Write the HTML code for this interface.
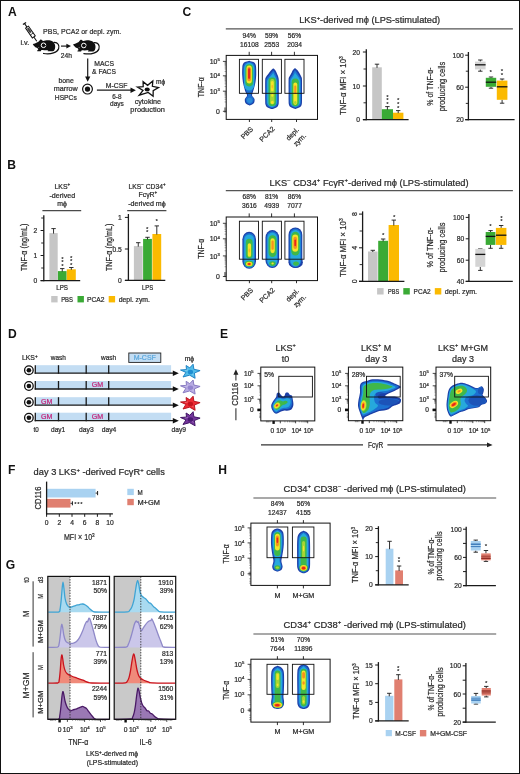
<!DOCTYPE html>
<html lang="en"><head><meta charset="utf-8"><title>Figure</title>
<style>html,body{margin:0;padding:0;background:#fff;}body{width:520px;height:774px;overflow:hidden;font-family:"Liberation Sans",sans-serif;}svg{display:block;font-family:"Liberation Sans",sans-serif;will-change:transform;opacity:0.999;}</style></head><body>
<svg width="520" height="774" viewBox="0 0 520 774">
<defs><filter id="b1" x="-30%" y="-30%" width="160%" height="160%"><feGaussianBlur stdDeviation="0.65"/></filter><filter id="b2" x="-30%" y="-30%" width="160%" height="160%"><feGaussianBlur stdDeviation="0.9"/></filter><marker id="ah" viewBox="0 0 10 10" refX="8" refY="5" markerWidth="5.2" markerHeight="5.2" orient="auto-start-reverse"><path d="M0,0.8 L10,5 L0,9.2 z" fill="#111"/></marker></defs>
<rect x="0.00" y="0.00" width="520.00" height="774.00" fill="#ffffff" stroke="none" stroke-width="1"/>
<text x="8.00" y="16.10" font-size="12.1" font-weight="bold" fill="#111">A</text>
<g transform="translate(24.5 23.5) rotate(55.3)" stroke="#111" fill="none" stroke-linecap="butt">
<line x1="0" y1="-1.9" x2="0" y2="1.9" stroke-width="1.3"/>
<line x1="0" y1="0" x2="4.4" y2="0" stroke-width="1.1"/>
<rect x="4.4" y="-1.75" width="12.0" height="3.5" stroke-width="1.0" fill="#fff"/>
<rect x="5.6" y="-1.1" width="5.6" height="2.2" stroke="none" fill="#444"/>
<line x1="12.8" y1="-1.75" x2="12.8" y2="1.75" stroke-width="0.7"/>
<line x1="16.4" y1="0" x2="21.6" y2="0" stroke-width="1.0"/>
</g>
<text x="20.40" y="44.60" font-size="7.2" fill="#2b2b2b" stroke="#2b2b2b" stroke-width="0.22" textLength="8.8" lengthAdjust="spacingAndGlyphs">i.v.</text>
<text x="43.10" y="33.70" font-size="7.4" fill="#2b2b2b" stroke="#2b2b2b" stroke-width="0.22" textLength="78.2" lengthAdjust="spacingAndGlyphs">PBS, PCA2 or depl. zym.</text>
<g transform="translate(32.80 44.00)">
<path d="M0,0 C1.6,-0.3 3.6,-1.3 5.6,-2.3 C6.2,-2.7 6.6,-3.6 7.2,-4.1 C7.9,-4.6 8.8,-4.5 9.3,-3.8 C9.6,-3.4 9.9,-3.1 10.4,-3.1 C12,-3.7 14.4,-4.0 16.6,-3.8 C19.2,-3.5 21.2,-2.0 22.0,0.2 C22.7,2.2 22.5,4.4 21.6,6.0 C21.2,6.8 20.6,7.2 19.8,7.2 L15.4,7.2 C14.7,7.2 14.6,6.5 15.2,6.2 L16.0,5.9 C13.4,6.3 10.6,6.3 8.6,6.1 L8.0,7.2 L4.9,7.2 C4.2,7.2 4.1,6.5 4.7,6.2 L5.6,5.7 C5.0,5.2 4.7,4.7 4.9,4.2 C3.6,3.9 2.4,3.2 1.6,2.3 C0.9,1.6 0.2,0.7 0,0 Z" fill="#111"/>
<circle cx="10.7" cy="1.3" r="2.3" fill="none" stroke="#fff" stroke-width="1.0"/>
<path d="M12.2,1.3 L14.2,2.6" stroke="#111" stroke-width="0.9" fill="none"/>
<circle cx="6.0" cy="3.6" r="0.45" fill="#fff"/>
<path d="M21.2,-1.6 C25.0,-2.0 27.0,1.6 25.8,4.8 C24.4,8.4 18.6,10.6 10.8,9.5" fill="none" stroke="#111" stroke-width="1.25" stroke-linecap="round"/>
</g>
<g transform="translate(73.10 44.20)">
<path d="M0,0 C1.6,-0.3 3.6,-1.3 5.6,-2.3 C6.2,-2.7 6.6,-3.6 7.2,-4.1 C7.9,-4.6 8.8,-4.5 9.3,-3.8 C9.6,-3.4 9.9,-3.1 10.4,-3.1 C12,-3.7 14.4,-4.0 16.6,-3.8 C19.2,-3.5 21.2,-2.0 22.0,0.2 C22.7,2.2 22.5,4.4 21.6,6.0 C21.2,6.8 20.6,7.2 19.8,7.2 L15.4,7.2 C14.7,7.2 14.6,6.5 15.2,6.2 L16.0,5.9 C13.4,6.3 10.6,6.3 8.6,6.1 L8.0,7.2 L4.9,7.2 C4.2,7.2 4.1,6.5 4.7,6.2 L5.6,5.7 C5.0,5.2 4.7,4.7 4.9,4.2 C3.6,3.9 2.4,3.2 1.6,2.3 C0.9,1.6 0.2,0.7 0,0 Z" fill="#111"/>
<circle cx="10.7" cy="1.3" r="2.3" fill="none" stroke="#fff" stroke-width="1.0"/>
<path d="M12.2,1.3 L14.2,2.6" stroke="#111" stroke-width="0.9" fill="none"/>
<circle cx="6.0" cy="3.6" r="0.45" fill="#fff"/>
<path d="M21.2,-1.6 C25.0,-2.0 27.0,1.6 25.8,4.8 C24.4,8.4 18.6,10.6 10.8,9.5" fill="none" stroke="#111" stroke-width="1.25" stroke-linecap="round"/>
</g>
<line x1="61.00" y1="46.10" x2="67.40" y2="46.10" stroke="#1a1a1a" stroke-width="1.2"/>
<path d="M71.0,46.1 L66.4,43.7 L66.4,48.5 Z" fill="#111"/>
<text x="66.30" y="57.60" font-size="7.2" text-anchor="middle" fill="#2b2b2b" stroke="#2b2b2b" stroke-width="0.22" textLength="11.2" lengthAdjust="spacingAndGlyphs">24h</text>
<line x1="87.70" y1="58.60" x2="87.70" y2="77.60" stroke="#1a1a1a" stroke-width="1.2"/>
<path d="M87.7,81.8 L85.1,76.6 L90.3,76.6 Z" fill="#111"/>
<text x="104.20" y="66.20" font-size="7.2" text-anchor="middle" fill="#2b2b2b" stroke="#2b2b2b" stroke-width="0.22" textLength="19.7" lengthAdjust="spacingAndGlyphs">MACS</text>
<text x="104.00" y="74.30" font-size="7.2" text-anchor="middle" fill="#2b2b2b" stroke="#2b2b2b" stroke-width="0.22" textLength="23.8" lengthAdjust="spacingAndGlyphs">&amp; FACS</text>
<circle cx="87.50" cy="89.10" r="4.90" fill="#fff" stroke="#111" stroke-width="1.2"/>
<circle cx="87.50" cy="89.10" r="2.65" fill="#111"/>
<text x="66.10" y="82.80" font-size="7.2" text-anchor="middle" fill="#2b2b2b" stroke="#2b2b2b" stroke-width="0.22" textLength="15.4" lengthAdjust="spacingAndGlyphs">bone</text>
<text x="65.80" y="91.30" font-size="7.2" text-anchor="middle" fill="#2b2b2b" stroke="#2b2b2b" stroke-width="0.22" textLength="24.0" lengthAdjust="spacingAndGlyphs">marrow</text>
<text x="65.80" y="100.20" font-size="7.2" text-anchor="middle" fill="#2b2b2b" stroke="#2b2b2b" stroke-width="0.22" textLength="22.0" lengthAdjust="spacingAndGlyphs">HSPCs</text>
<line x1="96.90" y1="90.20" x2="131.60" y2="90.20" stroke="#1a1a1a" stroke-width="1.2"/>
<path d="M135.9,90.2 L130.5,87.5 L130.5,92.9 Z" fill="#111"/>
<text x="116.60" y="87.50" font-size="7.2" text-anchor="middle" fill="#2b2b2b" stroke="#2b2b2b" stroke-width="0.22" textLength="21.6" lengthAdjust="spacingAndGlyphs">M-CSF</text>
<text x="116.90" y="98.60" font-size="7.2" text-anchor="middle" fill="#2b2b2b" stroke="#2b2b2b" stroke-width="0.22" textLength="9.2" lengthAdjust="spacingAndGlyphs">6-8</text>
<text x="116.90" y="106.30" font-size="7.2" text-anchor="middle" fill="#2b2b2b" stroke="#2b2b2b" stroke-width="0.22" textLength="13.8" lengthAdjust="spacingAndGlyphs">days</text>
<path d="M137.40,87.10 L143.20,86.70 L143.10,81.70 L147.60,85.30 L152.80,80.90 L152.40,86.30 L158.50,87.50 L153.20,90.70 L153.10,96.30 L148.20,92.50 L139.20,95.20 L143.00,90.50 Z" fill="#fff" stroke="#111" stroke-width="1.3" stroke-linejoin="miter"/>
<ellipse cx="147.20" cy="89.40" rx="2.60" ry="2.00" fill="#111"/>
<text x="160.60" y="83.50" font-size="6.6" text-anchor="middle" fill="#2b2b2b" stroke="#2b2b2b" stroke-width="0.22">m&#981;</text>
<text x="147.90" y="104.00" font-size="7.2" text-anchor="middle" fill="#2b2b2b" stroke="#2b2b2b" stroke-width="0.22" textLength="26.5" lengthAdjust="spacingAndGlyphs">cytokine</text>
<text x="147.60" y="112.20" font-size="7.2" text-anchor="middle" fill="#2b2b2b" stroke="#2b2b2b" stroke-width="0.22" textLength="34.6" lengthAdjust="spacingAndGlyphs">production</text>
<text x="7.20" y="169.20" font-size="12.1" font-weight="bold" fill="#111">B</text>
<text x="54.50" y="188.90" font-size="6.9" fill="#2b2b2b" stroke="#2b2b2b" stroke-width="0.22">LKS<tspan dy="-2.6" font-size="4.6">+</tspan><tspan dy="2.6" font-size="1">&#8203;</tspan></text>
<text x="62.30" y="197.50" font-size="6.9" text-anchor="middle" fill="#2b2b2b" stroke="#2b2b2b" stroke-width="0.22" textLength="25.6" lengthAdjust="spacingAndGlyphs">-derived</text>
<text x="62.10" y="205.60" font-size="6.9" text-anchor="middle" fill="#2b2b2b" stroke="#2b2b2b" stroke-width="0.22">m&#981;</text>
<line x1="42.40" y1="210.70" x2="81.20" y2="210.70" stroke="#4a4a4a" stroke-width="1.3"/>
<rect x="49.40" y="233.10" width="8.30" height="47.50" fill="#c6c6c6" stroke="none" stroke-width="1"/>
<line x1="53.55" y1="228.60" x2="53.55" y2="233.60" stroke="#1a1a1a" stroke-width="0.9"/>
<line x1="51.35" y1="228.60" x2="55.75" y2="228.60" stroke="#1a1a1a" stroke-width="0.9"/>
<rect x="57.90" y="271.10" width="8.70" height="9.50" fill="#3aaa35" stroke="none" stroke-width="1"/>
<line x1="62.25" y1="268.60" x2="62.25" y2="271.60" stroke="#1a1a1a" stroke-width="0.9"/>
<line x1="60.05" y1="268.60" x2="64.45" y2="268.60" stroke="#1a1a1a" stroke-width="0.9"/>
<rect x="66.80" y="269.30" width="9.00" height="11.30" fill="#fbba00" stroke="none" stroke-width="1"/>
<line x1="71.30" y1="267.50" x2="71.30" y2="269.80" stroke="#1a1a1a" stroke-width="0.9"/>
<line x1="69.10" y1="267.50" x2="73.50" y2="267.50" stroke="#1a1a1a" stroke-width="0.9"/>
<line x1="43.80" y1="215.20" x2="43.80" y2="281.20" stroke="#1a1a1a" stroke-width="1.3"/>
<line x1="40.60" y1="280.60" x2="80.20" y2="280.60" stroke="#1a1a1a" stroke-width="1.3"/>
<line x1="40.60" y1="230.50" x2="43.80" y2="230.50" stroke="#1a1a1a" stroke-width="1"/>
<text x="0" y="0" font-size="7" text-anchor="end" fill="#2b2b2b" stroke="#2b2b2b" stroke-width="0.22" transform="translate(37.20 233.00) scale(0.96 1)">2</text>
<line x1="40.60" y1="255.50" x2="43.80" y2="255.50" stroke="#1a1a1a" stroke-width="1"/>
<text x="0" y="0" font-size="7" text-anchor="end" fill="#2b2b2b" stroke="#2b2b2b" stroke-width="0.22" transform="translate(37.20 258.00) scale(0.96 1)">1</text>
<line x1="40.60" y1="280.60" x2="43.80" y2="280.60" stroke="#1a1a1a" stroke-width="1"/>
<text x="0" y="0" font-size="7" text-anchor="end" fill="#2b2b2b" stroke="#2b2b2b" stroke-width="0.22" transform="translate(37.20 283.10) scale(0.96 1)">0</text>
<line x1="41.20" y1="218.00" x2="43.80" y2="218.00" stroke="#1a1a1a" stroke-width="0.9"/>
<line x1="41.20" y1="243.00" x2="43.80" y2="243.00" stroke="#1a1a1a" stroke-width="0.9"/>
<line x1="41.20" y1="268.00" x2="43.80" y2="268.00" stroke="#1a1a1a" stroke-width="0.9"/>
<text x="0" y="0" font-size="8.8" text-anchor="middle" fill="#2b2b2b" stroke="#2b2b2b" stroke-width="0.22" transform="translate(27.00 247.40) rotate(-90)" textLength="47.4" lengthAdjust="spacingAndGlyphs">TNF-&#945; (ng/mL)</text>
<text x="62.50" y="261.10" font-size="6.2" font-weight="bold" text-anchor="middle" fill="#222">*</text>
<text x="62.50" y="264.30" font-size="6.2" font-weight="bold" text-anchor="middle" fill="#222">*</text>
<text x="62.50" y="267.50" font-size="6.2" font-weight="bold" text-anchor="middle" fill="#222">*</text>
<text x="71.30" y="260.10" font-size="6.2" font-weight="bold" text-anchor="middle" fill="#222">*</text>
<text x="71.30" y="263.30" font-size="6.2" font-weight="bold" text-anchor="middle" fill="#222">*</text>
<text x="71.30" y="266.50" font-size="6.2" font-weight="bold" text-anchor="middle" fill="#222">*</text>
<text x="62.10" y="289.70" font-size="6.9" text-anchor="middle" fill="#2b2b2b" stroke="#2b2b2b" stroke-width="0.22" textLength="11.8" lengthAdjust="spacingAndGlyphs">LPS</text>
<text x="128.60" y="188.90" font-size="6.9" fill="#2b2b2b" stroke="#2b2b2b" stroke-width="0.22" textLength="36.9" lengthAdjust="spacingAndGlyphs">LKS<tspan dy="-2.6" font-size="4.6">&#8722;</tspan><tspan dy="2.6" font-size="1">&#8203;</tspan> CD34<tspan dy="-2.6" font-size="4.6">+</tspan><tspan dy="2.6" font-size="1">&#8203;</tspan></text>
<text x="138.50" y="196.90" font-size="6.9" fill="#2b2b2b" stroke="#2b2b2b" stroke-width="0.22">Fc&#947;R<tspan dy="-2.6" font-size="4.6">+</tspan><tspan dy="2.6" font-size="1">&#8203;</tspan></text>
<text x="147.00" y="205.60" font-size="6.9" text-anchor="middle" fill="#2b2b2b" stroke="#2b2b2b" stroke-width="0.22" textLength="37.6" lengthAdjust="spacingAndGlyphs">-derived m&#981;</text>
<line x1="127.20" y1="210.70" x2="166.40" y2="210.70" stroke="#4a4a4a" stroke-width="1.3"/>
<rect x="133.90" y="246.10" width="8.70" height="34.30" fill="#c6c6c6" stroke="none" stroke-width="1"/>
<line x1="138.25" y1="242.70" x2="138.25" y2="246.60" stroke="#1a1a1a" stroke-width="0.9"/>
<line x1="136.05" y1="242.70" x2="140.45" y2="242.70" stroke="#1a1a1a" stroke-width="0.9"/>
<rect x="143.10" y="238.90" width="8.80" height="41.50" fill="#3aaa35" stroke="none" stroke-width="1"/>
<line x1="147.50" y1="237.30" x2="147.50" y2="239.40" stroke="#1a1a1a" stroke-width="0.9"/>
<line x1="145.30" y1="237.30" x2="149.70" y2="237.30" stroke="#1a1a1a" stroke-width="0.9"/>
<rect x="152.40" y="234.00" width="8.80" height="46.40" fill="#fbba00" stroke="none" stroke-width="1"/>
<line x1="156.80" y1="225.90" x2="156.80" y2="234.50" stroke="#1a1a1a" stroke-width="0.9"/>
<line x1="154.60" y1="225.90" x2="159.00" y2="225.90" stroke="#1a1a1a" stroke-width="0.9"/>
<line x1="128.40" y1="214.00" x2="128.40" y2="281.00" stroke="#1a1a1a" stroke-width="1.3"/>
<line x1="124.90" y1="280.40" x2="165.30" y2="280.40" stroke="#1a1a1a" stroke-width="1.3"/>
<line x1="124.90" y1="217.40" x2="128.40" y2="217.40" stroke="#1a1a1a" stroke-width="1"/>
<text x="0" y="0" font-size="7" text-anchor="end" fill="#2b2b2b" stroke="#2b2b2b" stroke-width="0.22" transform="translate(121.80 219.90) scale(0.96 1)">1</text>
<line x1="124.90" y1="249.00" x2="128.40" y2="249.00" stroke="#1a1a1a" stroke-width="1"/>
<text x="0" y="0" font-size="7" text-anchor="end" fill="#2b2b2b" stroke="#2b2b2b" stroke-width="0.22" transform="translate(121.80 251.50) scale(0.96 1)">0.5</text>
<line x1="124.90" y1="280.40" x2="128.40" y2="280.40" stroke="#1a1a1a" stroke-width="1"/>
<text x="0" y="0" font-size="7" text-anchor="end" fill="#2b2b2b" stroke="#2b2b2b" stroke-width="0.22" transform="translate(121.80 282.90) scale(0.96 1)">0</text>
<text x="0" y="0" font-size="8.8" text-anchor="middle" fill="#2b2b2b" stroke="#2b2b2b" stroke-width="0.22" transform="translate(112.00 247.40) rotate(-90)" textLength="47.4" lengthAdjust="spacingAndGlyphs">TNF-&#945; (ng/mL)</text>
<text x="147.20" y="231.10" font-size="6.2" font-weight="bold" text-anchor="middle" fill="#222">*</text>
<text x="147.20" y="234.30" font-size="6.2" font-weight="bold" text-anchor="middle" fill="#222">*</text>
<text x="156.80" y="223.30" font-size="6.2" font-weight="bold" text-anchor="middle" fill="#222">*</text>
<text x="147.50" y="289.70" font-size="6.9" text-anchor="middle" fill="#2b2b2b" stroke="#2b2b2b" stroke-width="0.22" textLength="11.2" lengthAdjust="spacingAndGlyphs">LPS</text>
<rect x="51.20" y="296.00" width="6.40" height="6.40" fill="#c6c6c6" stroke="none" stroke-width="1"/>
<text x="61.20" y="301.80" font-size="6.9" fill="#2b2b2b" stroke="#2b2b2b" stroke-width="0.22" textLength="11.8" lengthAdjust="spacingAndGlyphs">PBS</text>
<rect x="77.50" y="296.00" width="6.40" height="6.40" fill="#3aaa35" stroke="none" stroke-width="1"/>
<text x="87.00" y="301.80" font-size="6.9" fill="#2b2b2b" stroke="#2b2b2b" stroke-width="0.22" textLength="17.5" lengthAdjust="spacingAndGlyphs">PCA2</text>
<rect x="108.70" y="296.00" width="6.40" height="6.40" fill="#fbba00" stroke="none" stroke-width="1"/>
<text x="118.70" y="301.80" font-size="6.9" fill="#2b2b2b" stroke="#2b2b2b" stroke-width="0.22" textLength="31.3" lengthAdjust="spacingAndGlyphs">depl. zym.</text>
<text x="182.60" y="16.30" font-size="12.1" font-weight="bold" fill="#111">C</text>
<text x="299.20" y="23.20" font-size="8.7" fill="#2b2b2b" stroke="#2b2b2b" stroke-width="0.22" textLength="141" lengthAdjust="spacingAndGlyphs">LKS<tspan dy="-3.4" font-size="5.6">+</tspan><tspan dy="3.4" font-size="1">&#8203;</tspan>-derived m&#981; (LPS-stimulated)</text>
<line x1="225.80" y1="28.80" x2="512.90" y2="28.80" stroke="#555" stroke-width="1.2"/>
<text x="0" y="0" font-size="6.9" text-anchor="middle" fill="#2b2b2b" stroke="#2b2b2b" stroke-width="0.22" transform="translate(249.20 38.20) scale(0.97 1)">94%</text>
<text x="0" y="0" font-size="6.9" text-anchor="middle" fill="#2b2b2b" stroke="#2b2b2b" stroke-width="0.22" transform="translate(249.40 46.60) scale(0.97 1)">16108</text>
<line x1="249.20" y1="51.80" x2="249.20" y2="55.40" stroke="#1a1a1a" stroke-width="0.9"/>
<text x="0" y="0" font-size="6.9" text-anchor="middle" fill="#2b2b2b" stroke="#2b2b2b" stroke-width="0.22" transform="translate(271.60 38.20) scale(0.97 1)">59%</text>
<text x="0" y="0" font-size="6.9" text-anchor="middle" fill="#2b2b2b" stroke="#2b2b2b" stroke-width="0.22" transform="translate(271.80 46.60) scale(0.97 1)">2553</text>
<line x1="271.60" y1="51.80" x2="271.60" y2="55.40" stroke="#1a1a1a" stroke-width="0.9"/>
<text x="0" y="0" font-size="6.9" text-anchor="middle" fill="#2b2b2b" stroke="#2b2b2b" stroke-width="0.22" transform="translate(294.40 38.20) scale(0.97 1)">56%</text>
<text x="0" y="0" font-size="6.9" text-anchor="middle" fill="#2b2b2b" stroke="#2b2b2b" stroke-width="0.22" transform="translate(294.60 46.60) scale(0.97 1)">2034</text>
<line x1="294.40" y1="51.80" x2="294.40" y2="55.40" stroke="#1a1a1a" stroke-width="0.9"/>
<line x1="249.40" y1="119.40" x2="249.40" y2="122.00" stroke="#1a1a1a" stroke-width="0.9"/>
<line x1="271.70" y1="119.40" x2="271.70" y2="122.00" stroke="#1a1a1a" stroke-width="0.9"/>
<line x1="296.50" y1="119.40" x2="296.50" y2="122.00" stroke="#1a1a1a" stroke-width="0.9"/>
<g filter="url(#b1)">
<path d="M249.70,61.00 C250.48,61.17 252.45,61.50 253.40,62.00 C254.35,62.50 254.95,63.08 255.40,64.00 C255.85,64.92 255.97,65.67 256.10,67.50 C256.23,69.33 256.30,72.58 256.20,75.00 C256.10,77.42 255.85,79.83 255.50,82.00 C255.15,84.17 254.53,86.33 254.10,88.00 C253.67,89.67 253.23,90.90 252.90,92.00 C252.57,93.10 252.20,93.90 252.10,94.60 C252.00,95.30 252.07,95.73 252.30,96.20 C252.53,96.67 253.15,96.97 253.50,97.40 C253.85,97.83 254.22,98.30 254.40,98.80 C254.58,99.30 254.63,99.80 254.60,100.40 C254.57,101.00 254.47,101.80 254.20,102.40 C253.93,103.00 253.65,103.52 253.00,104.00 C252.35,104.48 250.95,105.08 250.30,105.30 C249.65,105.52 249.75,105.52 249.10,105.30 C248.45,105.08 247.05,104.48 246.40,104.00 C245.75,103.52 245.47,103.00 245.20,102.40 C244.93,101.80 244.83,101.00 244.80,100.40 C244.77,99.80 244.82,99.30 245.00,98.80 C245.18,98.30 245.58,97.83 245.90,97.40 C246.22,96.97 246.73,96.67 246.90,96.20 C247.07,95.73 247.13,95.30 246.90,94.60 C246.67,93.90 245.93,93.10 245.50,92.00 C245.07,90.90 244.73,89.67 244.30,88.00 C243.87,86.33 243.25,84.17 242.90,82.00 C242.55,79.83 242.30,77.42 242.20,75.00 C242.10,72.58 242.17,69.33 242.30,67.50 C242.43,65.67 242.55,64.92 243.00,64.00 C243.45,63.08 244.05,62.50 245.00,62.00 C245.95,61.50 247.92,61.17 248.70,61.00 C249.48,60.83 248.92,60.83 249.70,61.00 Z" fill="#1b3fa6"/>
<path d="M249.20,61.80 C249.73,61.96 251.53,62.28 252.40,62.76 C253.27,63.25 253.95,63.81 254.40,64.69 C254.85,65.58 254.97,66.30 255.10,68.07 C255.23,69.83 255.30,72.96 255.20,75.29 C255.10,77.62 254.85,79.95 254.50,82.04 C254.15,84.13 253.53,86.22 253.10,87.82 C252.67,89.43 252.23,90.62 251.90,91.68 C251.57,92.74 251.20,93.51 251.10,94.19 C251.00,94.86 251.07,95.28 251.30,95.73 C251.53,96.18 252.15,96.47 252.50,96.89 C252.85,97.30 253.22,97.75 253.40,98.23 C253.58,98.72 253.63,99.20 253.60,99.78 C253.57,100.36 253.47,101.13 253.20,101.70 C252.93,102.28 252.58,102.78 252.00,103.25 C251.42,103.71 250.08,104.29 249.70,104.50 C249.32,104.71 250.08,104.71 249.70,104.50 C249.32,104.29 247.98,103.71 247.40,103.25 C246.82,102.78 246.47,102.28 246.20,101.70 C245.93,101.13 245.83,100.36 245.80,99.78 C245.77,99.20 245.82,98.72 246.00,98.23 C246.18,97.75 246.58,97.30 246.90,96.89 C247.22,96.47 247.73,96.18 247.90,95.73 C248.07,95.28 248.13,94.86 247.90,94.19 C247.67,93.51 246.93,92.74 246.50,91.68 C246.07,90.62 245.73,89.43 245.30,87.82 C244.87,86.22 244.25,84.13 243.90,82.04 C243.55,79.95 243.30,77.62 243.20,75.29 C243.10,72.96 243.17,69.83 243.30,68.07 C243.43,66.30 243.55,65.58 244.00,64.69 C244.45,63.81 245.13,63.25 246.00,62.76 C246.87,62.28 248.67,61.96 249.20,61.80 C249.73,61.64 248.67,61.64 249.20,61.80 Z" fill="#1d6fd1"/>
<rect x="244.10" y="62.80" width="10.20" height="27.80" rx="5.10" ry="5.61" fill="#25a9dc"/>
<ellipse cx="249.70" cy="100.30" rx="2.60" ry="2.60" fill="#2b8bd8"/>
<rect x="245.30" y="64.20" width="7.80" height="22.20" rx="3.90" ry="4.29" fill="#3fb848"/>
<rect x="246.50" y="65.60" width="5.40" height="17.80" rx="2.70" ry="2.97" fill="#f4e52a"/>
<rect x="247.40" y="66.90" width="3.60" height="14.30" rx="1.80" ry="1.98" fill="#f7931e"/>
<rect x="248.05" y="68.20" width="2.10" height="10.80" rx="1.05" ry="1.16" fill="#e7251d"/>
</g>
<g filter="url(#b1)">
<path d="M273.90,68.80 C274.37,69.07 275.02,69.67 275.50,70.40 C275.98,71.13 276.42,72.33 276.80,73.20 C277.18,74.07 277.52,74.80 277.80,75.60 C278.08,76.40 278.33,77.10 278.50,78.00 C278.67,78.90 278.75,79.00 278.80,81.00 C278.85,83.00 278.80,86.83 278.80,90.00 C278.80,93.17 278.85,97.58 278.80,100.00 C278.75,102.42 278.83,103.30 278.50,104.50 C278.17,105.70 277.78,106.47 276.80,107.20 C275.82,107.93 273.50,108.62 272.60,108.90 C271.70,109.18 272.30,109.18 271.40,108.90 C270.50,108.62 268.18,107.93 267.20,107.20 C266.22,106.47 265.83,105.70 265.50,104.50 C265.17,103.30 265.25,102.42 265.20,100.00 C265.15,97.58 265.20,93.17 265.20,90.00 C265.20,86.83 265.15,83.00 265.20,81.00 C265.25,79.00 265.20,78.90 265.50,78.00 C265.80,77.10 266.45,76.40 267.00,75.60 C267.55,74.80 268.15,74.07 268.80,73.20 C269.45,72.33 270.25,71.13 270.90,70.40 C271.55,69.67 272.20,69.07 272.70,68.80 C273.20,68.53 273.43,68.53 273.90,68.80 Z" fill="#1b3fa6"/>
<path d="M273.30,70.40 C273.50,70.65 274.08,71.21 274.50,71.90 C274.92,72.59 275.42,73.72 275.80,74.54 C276.18,75.35 276.52,76.04 276.80,76.79 C277.08,77.55 277.33,78.20 277.50,79.05 C277.67,79.90 277.75,79.99 277.80,81.87 C277.85,83.75 277.80,87.35 277.80,90.33 C277.80,93.31 277.85,97.46 277.80,99.73 C277.75,102.00 277.83,102.84 277.50,103.96 C277.17,105.09 276.72,105.81 275.80,106.50 C274.88,107.19 272.63,107.83 272.00,108.10 C271.37,108.37 272.63,108.37 272.00,108.10 C271.37,107.83 269.12,107.19 268.20,106.50 C267.28,105.81 266.83,105.09 266.50,103.96 C266.17,102.84 266.25,102.00 266.20,99.73 C266.15,97.46 266.20,93.31 266.20,90.33 C266.20,87.35 266.15,83.75 266.20,81.87 C266.25,79.99 266.20,79.90 266.50,79.05 C266.80,78.20 267.45,77.55 268.00,76.79 C268.55,76.04 269.15,75.35 269.80,74.54 C270.45,73.72 271.32,72.59 271.90,71.90 C272.48,71.21 273.07,70.65 273.30,70.40 C273.53,70.15 273.10,70.15 273.30,70.40 Z" fill="#1d6fd1"/>
<path d="M273.30,72.20 C273.35,72.43 273.33,72.96 273.60,73.60 C273.87,74.24 274.52,75.29 274.90,76.05 C275.28,76.81 275.62,77.45 275.90,78.15 C276.18,78.85 276.43,79.47 276.60,80.25 C276.77,81.04 276.85,81.13 276.90,82.88 C276.95,84.63 276.90,87.98 276.90,90.76 C276.90,93.53 276.95,97.39 276.90,99.51 C276.85,101.63 276.93,102.40 276.60,103.45 C276.27,104.50 275.67,105.17 274.90,105.81 C274.13,106.45 272.48,107.05 272.00,107.30 C271.52,107.55 272.48,107.55 272.00,107.30 C271.52,107.05 269.87,106.45 269.10,105.81 C268.33,105.17 267.73,104.50 267.40,103.45 C267.07,102.40 267.15,101.63 267.10,99.51 C267.05,97.39 267.10,93.53 267.10,90.76 C267.10,87.98 267.05,84.63 267.10,82.88 C267.15,81.13 267.10,81.04 267.40,80.25 C267.70,79.47 268.35,78.85 268.90,78.15 C269.45,77.45 270.05,76.81 270.70,76.05 C271.35,75.29 272.37,74.24 272.80,73.60 C273.23,72.96 273.22,72.43 273.30,72.20 C273.38,71.97 273.25,71.97 273.30,72.20 Z" fill="#25a9dc"/>
<rect x="268.50" y="77.60" width="7.40" height="28.40" rx="3.00" ry="3.30" fill="#3fb848"/>
<rect x="270.10" y="79.00" width="4.40" height="25.60" rx="2.20" ry="2.42" fill="#a6d634"/>
<rect x="270.90" y="81.00" width="2.80" height="10.20" rx="1.40" ry="1.54" fill="#f4e52a"/>
<ellipse cx="272.30" cy="95.40" rx="1.10" ry="1.30" fill="#f4e52a"/>
<ellipse cx="272.30" cy="102.40" rx="1.40" ry="1.60" fill="#f4e52a"/>
<ellipse cx="272.30" cy="86.60" rx="0.80" ry="1.80" fill="#f9b827"/>
</g>
<g filter="url(#b1)">
<path d="M295.60,68.40 C296.08,68.67 296.70,69.27 297.30,70.00 C297.90,70.73 298.65,71.93 299.20,72.80 C299.75,73.67 300.18,74.40 300.60,75.20 C301.02,76.00 301.47,76.70 301.70,77.60 C301.93,78.50 301.95,78.53 302.00,80.60 C302.05,82.67 302.00,86.77 302.00,90.00 C302.00,93.23 302.05,97.60 302.00,100.00 C301.95,102.40 302.02,103.23 301.70,104.40 C301.38,105.57 301.07,106.28 300.10,107.00 C299.13,107.72 296.80,108.42 295.90,108.70 C295.00,108.98 295.60,108.98 294.70,108.70 C293.80,108.42 291.47,107.72 290.50,107.00 C289.53,106.28 289.22,105.57 288.90,104.40 C288.58,103.23 288.65,102.40 288.60,100.00 C288.55,97.60 288.60,93.23 288.60,90.00 C288.60,86.77 288.55,82.67 288.60,80.60 C288.65,78.53 288.63,78.50 288.90,77.60 C289.17,76.70 289.75,76.00 290.20,75.20 C290.65,74.40 291.15,73.67 291.60,72.80 C292.05,71.93 292.43,70.73 292.90,70.00 C293.37,69.27 293.95,68.67 294.40,68.40 C294.85,68.13 295.12,68.13 295.60,68.40 Z" fill="#1b3fa6"/>
<path d="M295.00,70.00 C295.22,70.25 295.77,70.82 296.30,71.50 C296.83,72.19 297.65,73.32 298.20,74.14 C298.75,74.95 299.18,75.64 299.60,76.40 C300.02,77.15 300.47,77.81 300.70,78.65 C300.93,79.50 300.95,79.53 301.00,81.47 C301.05,83.42 301.00,87.27 301.00,90.31 C301.00,93.35 301.05,97.46 301.00,99.72 C300.95,101.98 301.02,102.76 300.70,103.86 C300.38,104.95 300.00,105.63 299.10,106.30 C298.20,106.98 295.93,107.63 295.30,107.90 C294.67,108.17 295.93,108.17 295.30,107.90 C294.67,107.63 292.40,106.98 291.50,106.30 C290.60,105.63 290.22,104.95 289.90,103.86 C289.58,102.76 289.65,101.98 289.60,99.72 C289.55,97.46 289.60,93.35 289.60,90.31 C289.60,87.27 289.55,83.42 289.60,81.47 C289.65,79.53 289.63,79.50 289.90,78.65 C290.17,77.81 290.75,77.15 291.20,76.40 C291.65,75.64 292.15,74.95 292.60,74.14 C293.05,73.32 293.50,72.19 293.90,71.50 C294.30,70.82 294.82,70.25 295.00,70.00 C295.18,69.75 294.78,69.75 295.00,70.00 Z" fill="#1d6fd1"/>
<path d="M295.00,71.80 C295.08,72.03 295.10,72.56 295.50,73.20 C295.90,73.84 296.85,74.89 297.40,75.65 C297.95,76.41 298.38,77.06 298.80,77.76 C299.22,78.46 299.67,79.07 299.90,79.86 C300.13,80.65 300.15,80.68 300.20,82.49 C300.25,84.30 300.20,87.89 300.20,90.72 C300.20,93.55 300.25,97.38 300.20,99.48 C300.15,101.58 300.22,102.31 299.90,103.33 C299.58,104.36 299.07,104.98 298.30,105.61 C297.53,106.24 295.80,106.85 295.30,107.10 C294.80,107.35 295.80,107.35 295.30,107.10 C294.80,106.85 293.07,106.24 292.30,105.61 C291.53,104.98 291.02,104.36 290.70,103.33 C290.38,102.31 290.45,101.58 290.40,99.48 C290.35,97.38 290.40,93.55 290.40,90.72 C290.40,87.89 290.35,84.30 290.40,82.49 C290.45,80.68 290.43,80.65 290.70,79.86 C290.97,79.07 291.55,78.46 292.00,77.76 C292.45,77.06 292.95,76.41 293.40,75.65 C293.85,74.89 294.43,73.84 294.70,73.20 C294.97,72.56 294.95,72.03 295.00,71.80 C295.05,71.57 294.92,71.57 295.00,71.80 Z" fill="#25a9dc"/>
<rect x="291.70" y="78.40" width="7.20" height="27.90" rx="3.60" ry="3.96" fill="#3fb848"/>
<rect x="293.35" y="82.40" width="3.90" height="22.60" rx="1.95" ry="2.15" fill="#f4e52a"/>
<rect x="294.25" y="85.60" width="2.10" height="8.40" rx="1.05" ry="1.16" fill="#f7931e"/>
<ellipse cx="295.30" cy="102.60" rx="1.20" ry="1.50" fill="#a6d634"/>
</g>
<rect x="226.20" y="55.40" width="91.30" height="64.00" fill="none" stroke="#111" stroke-width="1"/>
<rect x="239.40" y="59.30" width="19.10" height="34.00" fill="none" stroke="#111" stroke-width="0.9"/>
<rect x="262.30" y="59.30" width="19.10" height="34.00" fill="none" stroke="#111" stroke-width="0.9"/>
<rect x="284.90" y="59.30" width="19.10" height="34.00" fill="none" stroke="#111" stroke-width="0.9"/>
<line x1="222.90" y1="61.40" x2="226.20" y2="61.40" stroke="#1a1a1a" stroke-width="0.8"/>
<text x="219.80" y="64.00" font-size="6.9" text-anchor="end" fill="#2b2b2b" stroke="#2b2b2b" stroke-width="0.22">10<tspan dy="-2.8" font-size="4.278">5</tspan><tspan dy="2.8" font-size="1">&#8203;</tspan></text>
<line x1="222.90" y1="75.80" x2="226.20" y2="75.80" stroke="#1a1a1a" stroke-width="0.8"/>
<text x="219.80" y="78.40" font-size="6.9" text-anchor="end" fill="#2b2b2b" stroke="#2b2b2b" stroke-width="0.22">10<tspan dy="-2.8" font-size="4.278">4</tspan><tspan dy="2.8" font-size="1">&#8203;</tspan></text>
<line x1="222.90" y1="91.20" x2="226.20" y2="91.20" stroke="#1a1a1a" stroke-width="0.8"/>
<text x="219.80" y="93.80" font-size="6.9" text-anchor="end" fill="#2b2b2b" stroke="#2b2b2b" stroke-width="0.22">10<tspan dy="-2.8" font-size="4.278">3</tspan><tspan dy="2.8" font-size="1">&#8203;</tspan></text>
<line x1="222.90" y1="111.30" x2="226.20" y2="111.30" stroke="#1a1a1a" stroke-width="0.8"/>
<text x="219.80" y="113.70" font-size="6.9" text-anchor="end" fill="#2b2b2b" stroke="#2b2b2b" stroke-width="0.22">0</text>
<line x1="224.60" y1="71.47" x2="226.20" y2="71.47" stroke="#333" stroke-width="0.45"/>
<line x1="224.60" y1="68.93" x2="226.20" y2="68.93" stroke="#333" stroke-width="0.45"/>
<line x1="224.60" y1="67.13" x2="226.20" y2="67.13" stroke="#333" stroke-width="0.45"/>
<line x1="224.60" y1="65.73" x2="226.20" y2="65.73" stroke="#333" stroke-width="0.45"/>
<line x1="224.60" y1="64.59" x2="226.20" y2="64.59" stroke="#333" stroke-width="0.45"/>
<line x1="224.60" y1="63.63" x2="226.20" y2="63.63" stroke="#333" stroke-width="0.45"/>
<line x1="224.60" y1="62.80" x2="226.20" y2="62.80" stroke="#333" stroke-width="0.45"/>
<line x1="224.60" y1="62.06" x2="226.20" y2="62.06" stroke="#333" stroke-width="0.45"/>
<line x1="224.60" y1="86.56" x2="226.20" y2="86.56" stroke="#333" stroke-width="0.45"/>
<line x1="224.60" y1="83.85" x2="226.20" y2="83.85" stroke="#333" stroke-width="0.45"/>
<line x1="224.60" y1="81.93" x2="226.20" y2="81.93" stroke="#333" stroke-width="0.45"/>
<line x1="224.60" y1="80.44" x2="226.20" y2="80.44" stroke="#333" stroke-width="0.45"/>
<line x1="224.60" y1="79.22" x2="226.20" y2="79.22" stroke="#333" stroke-width="0.45"/>
<line x1="224.60" y1="78.19" x2="226.20" y2="78.19" stroke="#333" stroke-width="0.45"/>
<line x1="224.60" y1="77.29" x2="226.20" y2="77.29" stroke="#333" stroke-width="0.45"/>
<line x1="224.60" y1="76.50" x2="226.20" y2="76.50" stroke="#333" stroke-width="0.45"/>
<line x1="224.60" y1="101.96" x2="226.20" y2="101.96" stroke="#333" stroke-width="0.45"/>
<line x1="224.60" y1="99.25" x2="226.20" y2="99.25" stroke="#333" stroke-width="0.45"/>
<line x1="224.60" y1="97.33" x2="226.20" y2="97.33" stroke="#333" stroke-width="0.45"/>
<line x1="224.60" y1="95.84" x2="226.20" y2="95.84" stroke="#333" stroke-width="0.45"/>
<line x1="224.60" y1="94.62" x2="226.20" y2="94.62" stroke="#333" stroke-width="0.45"/>
<line x1="224.60" y1="93.59" x2="226.20" y2="93.59" stroke="#333" stroke-width="0.45"/>
<line x1="224.60" y1="92.69" x2="226.20" y2="92.69" stroke="#333" stroke-width="0.45"/>
<line x1="224.60" y1="91.90" x2="226.20" y2="91.90" stroke="#333" stroke-width="0.45"/>
<line x1="224.00" y1="108.00" x2="226.20" y2="108.00" stroke="#1a1a1a" stroke-width="0.5"/>
<line x1="224.00" y1="109.00" x2="226.20" y2="109.00" stroke="#1a1a1a" stroke-width="0.5"/>
<line x1="224.00" y1="110.00" x2="226.20" y2="110.00" stroke="#1a1a1a" stroke-width="0.5"/>
<line x1="224.00" y1="111.00" x2="226.20" y2="111.00" stroke="#1a1a1a" stroke-width="0.5"/>
<line x1="224.00" y1="112.00" x2="226.20" y2="112.00" stroke="#1a1a1a" stroke-width="0.5"/>
<text x="0" y="0" font-size="8.8" text-anchor="middle" fill="#2b2b2b" stroke="#2b2b2b" stroke-width="0.22" transform="translate(204.00 87.20) rotate(-90) scale(0.8 1)">TNF-&#945;</text>
<text x="0" y="0" font-size="7" text-anchor="end" fill="#2b2b2b" stroke="#2b2b2b" stroke-width="0.22" transform="translate(253.60 129.60) rotate(-45)">PBS</text>
<text x="0" y="0" font-size="7" text-anchor="end" fill="#2b2b2b" stroke="#2b2b2b" stroke-width="0.22" transform="translate(275.20 129.20) rotate(-45)">PCA2</text>
<text x="0" y="0" font-size="7" text-anchor="end" fill="#2b2b2b" stroke="#2b2b2b" stroke-width="0.22" transform="translate(299.40 130.20) rotate(-45)">depl.</text>
<text x="0" y="0" font-size="7" text-anchor="end" fill="#2b2b2b" stroke="#2b2b2b" stroke-width="0.22" transform="translate(306.60 136.20) rotate(-45)">zym.</text>
<rect x="372.20" y="67.30" width="9.60" height="52.40" fill="#c6c6c6" stroke="none" stroke-width="1"/>
<line x1="377.00" y1="64.20" x2="377.00" y2="67.80" stroke="#1a1a1a" stroke-width="0.9"/>
<line x1="374.80" y1="64.20" x2="379.20" y2="64.20" stroke="#1a1a1a" stroke-width="0.9"/>
<rect x="381.80" y="109.20" width="11.20" height="10.50" fill="#3aaa35" stroke="none" stroke-width="1"/>
<line x1="387.40" y1="106.60" x2="387.40" y2="109.70" stroke="#1a1a1a" stroke-width="0.9"/>
<line x1="385.20" y1="106.60" x2="389.60" y2="106.60" stroke="#1a1a1a" stroke-width="0.9"/>
<rect x="393.00" y="112.70" width="10.40" height="7.00" fill="#fbba00" stroke="none" stroke-width="1"/>
<line x1="398.20" y1="110.60" x2="398.20" y2="113.20" stroke="#1a1a1a" stroke-width="0.9"/>
<line x1="396.00" y1="110.60" x2="400.40" y2="110.60" stroke="#1a1a1a" stroke-width="0.9"/>
<line x1="366.30" y1="49.30" x2="366.30" y2="120.30" stroke="#1a1a1a" stroke-width="1.3"/>
<line x1="362.90" y1="119.70" x2="408.60" y2="119.70" stroke="#1a1a1a" stroke-width="1.3"/>
<line x1="362.90" y1="52.00" x2="366.30" y2="52.00" stroke="#1a1a1a" stroke-width="1"/>
<text x="0" y="0" font-size="7" text-anchor="end" fill="#2b2b2b" stroke="#2b2b2b" stroke-width="0.22" transform="translate(359.90 54.50) scale(0.96 1)">20</text>
<line x1="362.90" y1="86.00" x2="366.30" y2="86.00" stroke="#1a1a1a" stroke-width="1"/>
<text x="0" y="0" font-size="7" text-anchor="end" fill="#2b2b2b" stroke="#2b2b2b" stroke-width="0.22" transform="translate(359.90 88.50) scale(0.96 1)">10</text>
<line x1="362.90" y1="119.70" x2="366.30" y2="119.70" stroke="#1a1a1a" stroke-width="1"/>
<text x="0" y="0" font-size="7" text-anchor="end" fill="#2b2b2b" stroke="#2b2b2b" stroke-width="0.22" transform="translate(359.90 122.20) scale(0.96 1)">0</text>
<line x1="363.50" y1="69.00" x2="366.30" y2="69.00" stroke="#1a1a1a" stroke-width="0.9"/>
<line x1="363.50" y1="102.80" x2="366.30" y2="102.80" stroke="#1a1a1a" stroke-width="0.9"/>
<text x="0" y="0" font-size="8.8" text-anchor="middle" fill="#2b2b2b" stroke="#2b2b2b" stroke-width="0.22" transform="translate(346.00 85.60) rotate(-90)" textLength="58.7" lengthAdjust="spacingAndGlyphs">TNF-&#945; MFI &#215; 10<tspan dy="-3" font-size="5.5">3</tspan><tspan dy="3" font-size="1">&#8203;</tspan></text>
<text x="387.40" y="98.50" font-size="6.2" font-weight="bold" text-anchor="middle" fill="#222">*</text>
<text x="387.40" y="102.10" font-size="6.2" font-weight="bold" text-anchor="middle" fill="#222">*</text>
<text x="387.40" y="105.70" font-size="6.2" font-weight="bold" text-anchor="middle" fill="#222">*</text>
<text x="398.20" y="102.30" font-size="6.2" font-weight="bold" text-anchor="middle" fill="#222">*</text>
<text x="398.20" y="105.90" font-size="6.2" font-weight="bold" text-anchor="middle" fill="#222">*</text>
<text x="398.20" y="109.50" font-size="6.2" font-weight="bold" text-anchor="middle" fill="#222">*</text>
<line x1="468.40" y1="52.00" x2="468.40" y2="120.30" stroke="#1a1a1a" stroke-width="1.3"/>
<line x1="465.20" y1="119.70" x2="514.60" y2="119.70" stroke="#1a1a1a" stroke-width="1.3"/>
<line x1="465.20" y1="55.20" x2="468.40" y2="55.20" stroke="#1a1a1a" stroke-width="1"/>
<text x="0" y="0" font-size="7" text-anchor="end" fill="#2b2b2b" stroke="#2b2b2b" stroke-width="0.22" transform="translate(463.80 57.70) scale(0.96 1)">100</text>
<line x1="465.20" y1="87.20" x2="468.40" y2="87.20" stroke="#1a1a1a" stroke-width="1"/>
<text x="0" y="0" font-size="7" text-anchor="end" fill="#2b2b2b" stroke="#2b2b2b" stroke-width="0.22" transform="translate(463.80 89.70) scale(0.96 1)">60</text>
<line x1="465.20" y1="119.70" x2="468.40" y2="119.70" stroke="#1a1a1a" stroke-width="1"/>
<text x="0" y="0" font-size="7" text-anchor="end" fill="#2b2b2b" stroke="#2b2b2b" stroke-width="0.22" transform="translate(463.80 122.20) scale(0.96 1)">20</text>
<line x1="465.80" y1="71.20" x2="468.40" y2="71.20" stroke="#1a1a1a" stroke-width="0.9"/>
<line x1="465.80" y1="103.40" x2="468.40" y2="103.40" stroke="#1a1a1a" stroke-width="0.9"/>
<text x="0" y="0" font-size="8.8" text-anchor="middle" fill="#2b2b2b" stroke="#2b2b2b" stroke-width="0.22" transform="translate(433.20 86.60) rotate(-90)" textLength="38.5" lengthAdjust="spacingAndGlyphs">% of TNF-&#945;-</text>
<text x="0" y="0" font-size="8.8" text-anchor="middle" fill="#2b2b2b" stroke="#2b2b2b" stroke-width="0.22" transform="translate(444.80 86.60) rotate(-90)" textLength="49.5" lengthAdjust="spacingAndGlyphs">producing cells</text>
<line x1="480.30" y1="60.00" x2="480.30" y2="61.60" stroke="#1a1a1a" stroke-width="0.9"/>
<line x1="480.30" y1="69.40" x2="480.30" y2="71.20" stroke="#1a1a1a" stroke-width="0.9"/>
<line x1="478.10" y1="60.00" x2="482.50" y2="60.00" stroke="#1a1a1a" stroke-width="0.9"/>
<line x1="478.10" y1="71.20" x2="482.50" y2="71.20" stroke="#1a1a1a" stroke-width="0.9"/>
<rect x="475.00" y="61.60" width="10.60" height="7.80" fill="#d4d4d4" stroke="none" stroke-width="1"/>
<line x1="475.00" y1="64.80" x2="485.60" y2="64.80" stroke="#111" stroke-width="1.3"/>
<line x1="491.00" y1="77.00" x2="491.00" y2="77.80" stroke="#1a1a1a" stroke-width="0.9"/>
<line x1="491.00" y1="86.80" x2="491.00" y2="88.20" stroke="#1a1a1a" stroke-width="0.9"/>
<line x1="488.80" y1="77.00" x2="493.20" y2="77.00" stroke="#1a1a1a" stroke-width="0.9"/>
<line x1="488.80" y1="88.20" x2="493.20" y2="88.20" stroke="#1a1a1a" stroke-width="0.9"/>
<rect x="485.80" y="77.80" width="10.40" height="9.00" fill="#3aaa35" stroke="none" stroke-width="1"/>
<line x1="485.80" y1="82.20" x2="496.20" y2="82.20" stroke="#111" stroke-width="1.3"/>
<line x1="502.10" y1="79.00" x2="502.10" y2="80.60" stroke="#1a1a1a" stroke-width="0.9"/>
<line x1="502.10" y1="99.80" x2="502.10" y2="103.20" stroke="#1a1a1a" stroke-width="0.9"/>
<line x1="499.90" y1="79.00" x2="504.30" y2="79.00" stroke="#1a1a1a" stroke-width="0.9"/>
<line x1="499.90" y1="103.20" x2="504.30" y2="103.20" stroke="#1a1a1a" stroke-width="0.9"/>
<rect x="496.80" y="80.60" width="10.60" height="19.20" fill="#fbba00" stroke="none" stroke-width="1"/>
<line x1="496.80" y1="86.80" x2="507.40" y2="86.80" stroke="#111" stroke-width="1.3"/>
<text x="490.60" y="74.10" font-size="6.2" font-weight="bold" text-anchor="middle" fill="#222">*</text>
<text x="502.00" y="73.30" font-size="6.2" font-weight="bold" text-anchor="middle" fill="#222">*</text>
<text x="502.00" y="76.70" font-size="6.2" font-weight="bold" text-anchor="middle" fill="#222">*</text>
<text x="269.60" y="185.80" font-size="8.7" fill="#2b2b2b" stroke="#2b2b2b" stroke-width="0.22" textLength="199" lengthAdjust="spacingAndGlyphs">LKS<tspan dy="-3.4" font-size="5.6">&#8722;</tspan><tspan dy="3.4" font-size="1">&#8203;</tspan> CD34<tspan dy="-3.4" font-size="5.6">+</tspan><tspan dy="3.4" font-size="1">&#8203;</tspan> Fc&#947;R<tspan dy="-3.4" font-size="5.6">+</tspan><tspan dy="3.4" font-size="1">&#8203;</tspan>-derived m&#981; (LPS-stimulated)</text>
<line x1="225.80" y1="190.70" x2="512.90" y2="190.70" stroke="#555" stroke-width="1.2"/>
<text x="0" y="0" font-size="6.9" text-anchor="middle" fill="#2b2b2b" stroke="#2b2b2b" stroke-width="0.22" transform="translate(249.20 199.40) scale(0.97 1)">68%</text>
<text x="0" y="0" font-size="6.9" text-anchor="middle" fill="#2b2b2b" stroke="#2b2b2b" stroke-width="0.22" transform="translate(249.40 208.00) scale(0.97 1)">3616</text>
<line x1="249.20" y1="213.40" x2="249.20" y2="217.00" stroke="#1a1a1a" stroke-width="0.9"/>
<text x="0" y="0" font-size="6.9" text-anchor="middle" fill="#2b2b2b" stroke="#2b2b2b" stroke-width="0.22" transform="translate(271.60 199.40) scale(0.97 1)">81%</text>
<text x="0" y="0" font-size="6.9" text-anchor="middle" fill="#2b2b2b" stroke="#2b2b2b" stroke-width="0.22" transform="translate(271.80 208.00) scale(0.97 1)">4939</text>
<line x1="271.60" y1="213.40" x2="271.60" y2="217.00" stroke="#1a1a1a" stroke-width="0.9"/>
<text x="0" y="0" font-size="6.9" text-anchor="middle" fill="#2b2b2b" stroke="#2b2b2b" stroke-width="0.22" transform="translate(294.40 199.40) scale(0.97 1)">86%</text>
<text x="0" y="0" font-size="6.9" text-anchor="middle" fill="#2b2b2b" stroke="#2b2b2b" stroke-width="0.22" transform="translate(294.60 208.00) scale(0.97 1)">7077</text>
<line x1="294.40" y1="213.40" x2="294.40" y2="217.00" stroke="#1a1a1a" stroke-width="0.9"/>
<line x1="249.40" y1="280.60" x2="249.40" y2="283.20" stroke="#1a1a1a" stroke-width="0.9"/>
<line x1="271.70" y1="280.60" x2="271.70" y2="283.20" stroke="#1a1a1a" stroke-width="0.9"/>
<line x1="296.50" y1="280.60" x2="296.50" y2="283.20" stroke="#1a1a1a" stroke-width="0.9"/>
<g filter="url(#b1)">
<rect x="242.40" y="231.80" width="13.60" height="37.00" rx="6.80" ry="7.48" fill="#1b3fa6"/>
<rect x="243.40" y="233.00" width="11.60" height="35.00" rx="5.80" ry="6.38" fill="#1d6fd1"/>
<rect x="244.30" y="234.40" width="9.80" height="33.00" rx="4.90" ry="5.39" fill="#25a9dc"/>
<rect x="245.80" y="238.80" width="6.80" height="19.60" rx="3.40" ry="3.74" fill="#3fb848"/>
<ellipse cx="249.20" cy="263.80" rx="4.40" ry="3.00" fill="#3fb848"/>
<rect x="247.70" y="243.20" width="3.40" height="13.60" rx="1.70" ry="1.87" fill="#f4e52a"/>
<ellipse cx="249.20" cy="263.90" rx="3.20" ry="2.20" fill="#f4e52a"/>
<ellipse cx="249.40" cy="250.40" rx="0.80" ry="2.00" fill="#f9b827"/>
<ellipse cx="249.20" cy="264.00" rx="2.20" ry="1.60" fill="#f7931e"/>
<ellipse cx="249.20" cy="264.00" rx="1.30" ry="1.00" fill="#e7251d"/>
</g>
<g filter="url(#b1)">
<rect x="265.50" y="230.00" width="13.60" height="38.00" rx="6.80" ry="7.48" fill="#1b3fa6"/>
<rect x="266.50" y="231.20" width="11.60" height="36.00" rx="5.80" ry="6.38" fill="#1d6fd1"/>
<rect x="267.40" y="232.60" width="9.80" height="33.80" rx="4.90" ry="5.39" fill="#25a9dc"/>
<rect x="268.50" y="235.20" width="8.00" height="21.80" rx="4.00" ry="4.40" fill="#3fb848"/>
<ellipse cx="272.50" cy="263.60" rx="3.20" ry="2.40" fill="#3fb848"/>
<rect x="270.40" y="238.20" width="4.40" height="15.00" rx="2.20" ry="2.42" fill="#f4e52a"/>
<ellipse cx="272.60" cy="263.60" rx="1.20" ry="1.00" fill="#f4e52a"/>
<rect x="271.45" y="240.40" width="2.30" height="9.40" rx="1.15" ry="1.26" fill="#f7931e"/>
</g>
<g filter="url(#b1)">
<rect x="288.50" y="227.40" width="13.80" height="40.60" rx="6.90" ry="7.59" fill="#1b3fa6"/>
<ellipse cx="295.70" cy="262.40" rx="7.20" ry="5.40" fill="#1b3fa6"/>
<rect x="289.50" y="228.60" width="11.80" height="38.60" rx="5.90" ry="6.49" fill="#1d6fd1"/>
<rect x="290.40" y="230.00" width="10.00" height="36.40" rx="5.00" ry="5.50" fill="#25a9dc"/>
<rect x="291.20" y="231.80" width="8.40" height="23.80" rx="4.20" ry="4.62" fill="#3fb848"/>
<ellipse cx="296.00" cy="263.60" rx="2.80" ry="2.20" fill="#3fb848"/>
<rect x="292.20" y="234.60" width="6.00" height="17.20" rx="3.00" ry="3.30" fill="#f4e52a"/>
<rect x="293.40" y="236.80" width="3.60" height="12.20" rx="1.80" ry="1.98" fill="#f7931e"/>
<rect x="294.35" y="239.60" width="1.70" height="6.60" rx="0.85" ry="0.94" fill="#e7251d"/>
</g>
<rect x="226.20" y="217.00" width="91.30" height="63.60" fill="none" stroke="#111" stroke-width="1"/>
<rect x="239.40" y="221.20" width="19.10" height="38.00" fill="none" stroke="#111" stroke-width="0.9"/>
<rect x="262.30" y="221.20" width="19.10" height="38.00" fill="none" stroke="#111" stroke-width="0.9"/>
<rect x="284.90" y="221.20" width="19.10" height="38.00" fill="none" stroke="#111" stroke-width="0.9"/>
<line x1="222.90" y1="223.30" x2="226.20" y2="223.30" stroke="#1a1a1a" stroke-width="0.8"/>
<text x="219.80" y="225.90" font-size="6.9" text-anchor="end" fill="#2b2b2b" stroke="#2b2b2b" stroke-width="0.22">10<tspan dy="-2.8" font-size="4.278">5</tspan><tspan dy="2.8" font-size="1">&#8203;</tspan></text>
<line x1="222.90" y1="238.80" x2="226.20" y2="238.80" stroke="#1a1a1a" stroke-width="0.8"/>
<text x="219.80" y="241.40" font-size="6.9" text-anchor="end" fill="#2b2b2b" stroke="#2b2b2b" stroke-width="0.22">10<tspan dy="-2.8" font-size="4.278">4</tspan><tspan dy="2.8" font-size="1">&#8203;</tspan></text>
<line x1="222.90" y1="255.90" x2="226.20" y2="255.90" stroke="#1a1a1a" stroke-width="0.8"/>
<text x="219.80" y="258.50" font-size="6.9" text-anchor="end" fill="#2b2b2b" stroke="#2b2b2b" stroke-width="0.22">10<tspan dy="-2.8" font-size="4.278">3</tspan><tspan dy="2.8" font-size="1">&#8203;</tspan></text>
<line x1="222.90" y1="276.50" x2="226.20" y2="276.50" stroke="#1a1a1a" stroke-width="0.8"/>
<text x="219.80" y="278.90" font-size="6.9" text-anchor="end" fill="#2b2b2b" stroke="#2b2b2b" stroke-width="0.22">0</text>
<line x1="224.60" y1="234.13" x2="226.20" y2="234.13" stroke="#333" stroke-width="0.45"/>
<line x1="224.60" y1="231.40" x2="226.20" y2="231.40" stroke="#333" stroke-width="0.45"/>
<line x1="224.60" y1="229.47" x2="226.20" y2="229.47" stroke="#333" stroke-width="0.45"/>
<line x1="224.60" y1="227.97" x2="226.20" y2="227.97" stroke="#333" stroke-width="0.45"/>
<line x1="224.60" y1="226.74" x2="226.20" y2="226.74" stroke="#333" stroke-width="0.45"/>
<line x1="224.60" y1="225.70" x2="226.20" y2="225.70" stroke="#333" stroke-width="0.45"/>
<line x1="224.60" y1="224.80" x2="226.20" y2="224.80" stroke="#333" stroke-width="0.45"/>
<line x1="224.60" y1="224.01" x2="226.20" y2="224.01" stroke="#333" stroke-width="0.45"/>
<line x1="224.60" y1="250.75" x2="226.20" y2="250.75" stroke="#333" stroke-width="0.45"/>
<line x1="224.60" y1="247.74" x2="226.20" y2="247.74" stroke="#333" stroke-width="0.45"/>
<line x1="224.60" y1="245.60" x2="226.20" y2="245.60" stroke="#333" stroke-width="0.45"/>
<line x1="224.60" y1="243.95" x2="226.20" y2="243.95" stroke="#333" stroke-width="0.45"/>
<line x1="224.60" y1="242.59" x2="226.20" y2="242.59" stroke="#333" stroke-width="0.45"/>
<line x1="224.60" y1="241.45" x2="226.20" y2="241.45" stroke="#333" stroke-width="0.45"/>
<line x1="224.60" y1="240.46" x2="226.20" y2="240.46" stroke="#333" stroke-width="0.45"/>
<line x1="224.60" y1="239.58" x2="226.20" y2="239.58" stroke="#333" stroke-width="0.45"/>
<line x1="224.60" y1="266.73" x2="226.20" y2="266.73" stroke="#333" stroke-width="0.45"/>
<line x1="224.60" y1="264.00" x2="226.20" y2="264.00" stroke="#333" stroke-width="0.45"/>
<line x1="224.60" y1="262.07" x2="226.20" y2="262.07" stroke="#333" stroke-width="0.45"/>
<line x1="224.60" y1="260.57" x2="226.20" y2="260.57" stroke="#333" stroke-width="0.45"/>
<line x1="224.60" y1="259.34" x2="226.20" y2="259.34" stroke="#333" stroke-width="0.45"/>
<line x1="224.60" y1="258.30" x2="226.20" y2="258.30" stroke="#333" stroke-width="0.45"/>
<line x1="224.60" y1="257.40" x2="226.20" y2="257.40" stroke="#333" stroke-width="0.45"/>
<line x1="224.60" y1="256.61" x2="226.20" y2="256.61" stroke="#333" stroke-width="0.45"/>
<line x1="224.00" y1="272.60" x2="226.20" y2="272.60" stroke="#1a1a1a" stroke-width="0.5"/>
<line x1="224.00" y1="273.60" x2="226.20" y2="273.60" stroke="#1a1a1a" stroke-width="0.5"/>
<line x1="224.00" y1="274.60" x2="226.20" y2="274.60" stroke="#1a1a1a" stroke-width="0.5"/>
<line x1="224.00" y1="275.60" x2="226.20" y2="275.60" stroke="#1a1a1a" stroke-width="0.5"/>
<line x1="224.00" y1="276.60" x2="226.20" y2="276.60" stroke="#1a1a1a" stroke-width="0.5"/>
<text x="0" y="0" font-size="8.8" text-anchor="middle" fill="#2b2b2b" stroke="#2b2b2b" stroke-width="0.22" transform="translate(204.00 248.80) rotate(-90) scale(0.8 1)">TNF-&#945;</text>
<text x="0" y="0" font-size="7" text-anchor="end" fill="#2b2b2b" stroke="#2b2b2b" stroke-width="0.22" transform="translate(253.60 290.80) rotate(-45)">PBS</text>
<text x="0" y="0" font-size="7" text-anchor="end" fill="#2b2b2b" stroke="#2b2b2b" stroke-width="0.22" transform="translate(275.20 290.40) rotate(-45)">PCA2</text>
<text x="0" y="0" font-size="7" text-anchor="end" fill="#2b2b2b" stroke="#2b2b2b" stroke-width="0.22" transform="translate(299.40 291.40) rotate(-45)">depl.</text>
<text x="0" y="0" font-size="7" text-anchor="end" fill="#2b2b2b" stroke="#2b2b2b" stroke-width="0.22" transform="translate(306.60 297.40) rotate(-45)">zym.</text>
<rect x="368.00" y="251.50" width="9.60" height="29.80" fill="#c6c6c6" stroke="none" stroke-width="1"/>
<line x1="372.80" y1="250.30" x2="372.80" y2="252.00" stroke="#1a1a1a" stroke-width="0.9"/>
<line x1="370.60" y1="250.30" x2="375.00" y2="250.30" stroke="#1a1a1a" stroke-width="0.9"/>
<rect x="378.20" y="240.80" width="9.90" height="40.50" fill="#3aaa35" stroke="none" stroke-width="1"/>
<line x1="383.15" y1="239.00" x2="383.15" y2="241.30" stroke="#1a1a1a" stroke-width="0.9"/>
<line x1="380.95" y1="239.00" x2="385.35" y2="239.00" stroke="#1a1a1a" stroke-width="0.9"/>
<rect x="388.60" y="225.00" width="10.40" height="56.30" fill="#fbba00" stroke="none" stroke-width="1"/>
<line x1="393.80" y1="220.10" x2="393.80" y2="225.50" stroke="#1a1a1a" stroke-width="0.9"/>
<line x1="391.60" y1="220.10" x2="396.00" y2="220.10" stroke="#1a1a1a" stroke-width="0.9"/>
<line x1="362.60" y1="211.40" x2="362.60" y2="281.90" stroke="#1a1a1a" stroke-width="1.3"/>
<line x1="359.00" y1="281.30" x2="404.40" y2="281.30" stroke="#1a1a1a" stroke-width="1.3"/>
<line x1="359.00" y1="214.10" x2="362.60" y2="214.10" stroke="#1a1a1a" stroke-width="1"/>
<text x="0" y="0" font-size="7" text-anchor="middle" fill="#2b2b2b" stroke="#2b2b2b" stroke-width="0.22" transform="translate(356.60 214.10) rotate(-90)">8</text>
<line x1="359.00" y1="247.80" x2="362.60" y2="247.80" stroke="#1a1a1a" stroke-width="1"/>
<text x="0" y="0" font-size="7" text-anchor="middle" fill="#2b2b2b" stroke="#2b2b2b" stroke-width="0.22" transform="translate(356.60 247.80) rotate(-90)">4</text>
<line x1="359.00" y1="281.30" x2="362.60" y2="281.30" stroke="#1a1a1a" stroke-width="1"/>
<text x="0" y="0" font-size="7" text-anchor="middle" fill="#2b2b2b" stroke="#2b2b2b" stroke-width="0.22" transform="translate(356.60 281.30) rotate(-90)">0</text>
<line x1="359.60" y1="231.00" x2="362.60" y2="231.00" stroke="#1a1a1a" stroke-width="0.9"/>
<line x1="359.60" y1="264.60" x2="362.60" y2="264.60" stroke="#1a1a1a" stroke-width="0.9"/>
<text x="0" y="0" font-size="8.8" text-anchor="middle" fill="#2b2b2b" stroke="#2b2b2b" stroke-width="0.22" transform="translate(346.00 247.70) rotate(-90)" textLength="58.7" lengthAdjust="spacingAndGlyphs">TNF-&#945; MFI &#215; 10<tspan dy="-3" font-size="5.5">3</tspan><tspan dy="3" font-size="1">&#8203;</tspan></text>
<text x="383.30" y="236.70" font-size="6.2" font-weight="bold" text-anchor="middle" fill="#222">*</text>
<text x="394.30" y="218.90" font-size="6.2" font-weight="bold" text-anchor="middle" fill="#222">*</text>
<line x1="468.90" y1="214.10" x2="468.90" y2="282.00" stroke="#1a1a1a" stroke-width="1.3"/>
<line x1="465.70" y1="281.40" x2="512.80" y2="281.40" stroke="#1a1a1a" stroke-width="1.3"/>
<line x1="465.70" y1="217.40" x2="468.90" y2="217.40" stroke="#1a1a1a" stroke-width="1"/>
<text x="0" y="0" font-size="7" text-anchor="end" fill="#2b2b2b" stroke="#2b2b2b" stroke-width="0.22" transform="translate(464.30 219.90) scale(0.96 1)">100</text>
<line x1="465.70" y1="238.80" x2="468.90" y2="238.80" stroke="#1a1a1a" stroke-width="1"/>
<text x="0" y="0" font-size="7" text-anchor="end" fill="#2b2b2b" stroke="#2b2b2b" stroke-width="0.22" transform="translate(464.30 241.30) scale(0.96 1)">80</text>
<line x1="465.70" y1="260.20" x2="468.90" y2="260.20" stroke="#1a1a1a" stroke-width="1"/>
<text x="0" y="0" font-size="7" text-anchor="end" fill="#2b2b2b" stroke="#2b2b2b" stroke-width="0.22" transform="translate(464.30 262.70) scale(0.96 1)">60</text>
<line x1="465.70" y1="281.40" x2="468.90" y2="281.40" stroke="#1a1a1a" stroke-width="1"/>
<text x="0" y="0" font-size="7" text-anchor="end" fill="#2b2b2b" stroke="#2b2b2b" stroke-width="0.22" transform="translate(464.30 283.90) scale(0.96 1)">40</text>
<text x="0" y="0" font-size="8.8" text-anchor="middle" fill="#2b2b2b" stroke="#2b2b2b" stroke-width="0.22" transform="translate(433.20 247.60) rotate(-90)" textLength="40" lengthAdjust="spacingAndGlyphs">% of TNF-&#945;-</text>
<text x="0" y="0" font-size="8.8" text-anchor="middle" fill="#2b2b2b" stroke="#2b2b2b" stroke-width="0.22" transform="translate(444.80 247.60) rotate(-90)" textLength="50" lengthAdjust="spacingAndGlyphs">producing cells</text>
<line x1="480.30" y1="248.90" x2="480.30" y2="248.90" stroke="#1a1a1a" stroke-width="0.9"/>
<line x1="480.30" y1="266.80" x2="480.30" y2="270.40" stroke="#1a1a1a" stroke-width="0.9"/>
<line x1="478.10" y1="248.90" x2="482.50" y2="248.90" stroke="#1a1a1a" stroke-width="0.9"/>
<line x1="478.10" y1="270.40" x2="482.50" y2="270.40" stroke="#1a1a1a" stroke-width="0.9"/>
<rect x="475.30" y="248.90" width="10.00" height="17.90" fill="#d4d4d4" stroke="none" stroke-width="1"/>
<line x1="475.30" y1="254.40" x2="485.30" y2="254.40" stroke="#111" stroke-width="1.3"/>
<line x1="490.55" y1="230.60" x2="490.55" y2="232.00" stroke="#1a1a1a" stroke-width="0.9"/>
<line x1="490.55" y1="244.90" x2="490.55" y2="248.30" stroke="#1a1a1a" stroke-width="0.9"/>
<line x1="488.35" y1="230.60" x2="492.75" y2="230.60" stroke="#1a1a1a" stroke-width="0.9"/>
<line x1="488.35" y1="248.30" x2="492.75" y2="248.30" stroke="#1a1a1a" stroke-width="0.9"/>
<rect x="485.70" y="232.00" width="9.70" height="12.90" fill="#3aaa35" stroke="none" stroke-width="1"/>
<line x1="485.70" y1="236.40" x2="495.40" y2="236.40" stroke="#111" stroke-width="1.3"/>
<line x1="501.15" y1="225.50" x2="501.15" y2="227.90" stroke="#1a1a1a" stroke-width="0.9"/>
<line x1="501.15" y1="244.90" x2="501.15" y2="248.30" stroke="#1a1a1a" stroke-width="0.9"/>
<line x1="498.95" y1="225.50" x2="503.35" y2="225.50" stroke="#1a1a1a" stroke-width="0.9"/>
<line x1="498.95" y1="248.30" x2="503.35" y2="248.30" stroke="#1a1a1a" stroke-width="0.9"/>
<rect x="495.90" y="227.90" width="10.50" height="17.00" fill="#fbba00" stroke="none" stroke-width="1"/>
<line x1="495.90" y1="235.20" x2="506.40" y2="235.20" stroke="#111" stroke-width="1.3"/>
<text x="490.40" y="227.90" font-size="6.2" font-weight="bold" text-anchor="middle" fill="#222">*</text>
<text x="501.40" y="219.70" font-size="6.2" font-weight="bold" text-anchor="middle" fill="#222">*</text>
<text x="501.40" y="222.90" font-size="6.2" font-weight="bold" text-anchor="middle" fill="#222">*</text>
<rect x="377.10" y="288.10" width="6.50" height="6.40" fill="#c6c6c6" stroke="none" stroke-width="1"/>
<text x="388.10" y="293.60" font-size="6.9" fill="#2b2b2b" stroke="#2b2b2b" stroke-width="0.22" textLength="11.2" lengthAdjust="spacingAndGlyphs">PBS</text>
<rect x="403.30" y="288.10" width="6.50" height="6.40" fill="#3aaa35" stroke="none" stroke-width="1"/>
<text x="413.60" y="293.60" font-size="6.9" fill="#2b2b2b" stroke="#2b2b2b" stroke-width="0.22" textLength="17.0" lengthAdjust="spacingAndGlyphs">PCA2</text>
<rect x="434.80" y="288.10" width="6.50" height="6.40" fill="#fbba00" stroke="none" stroke-width="1"/>
<text x="444.70" y="293.60" font-size="6.9" fill="#2b2b2b" stroke="#2b2b2b" stroke-width="0.22" textLength="32.4" lengthAdjust="spacingAndGlyphs">depl. zym.</text>
<text x="7.90" y="337.80" font-size="12.1" font-weight="bold" fill="#111">D</text>
<text x="21.90" y="360.40" font-size="6.9" fill="#2b2b2b" stroke="#2b2b2b" stroke-width="0.22">LKS<tspan dy="-2.6" font-size="4.6">+</tspan><tspan dy="2.6" font-size="1">&#8203;</tspan></text>
<text x="58.30" y="359.50" font-size="6.9" text-anchor="middle" fill="#2b2b2b" stroke="#2b2b2b" stroke-width="0.22" textLength="15.1" lengthAdjust="spacingAndGlyphs">wash</text>
<text x="108.60" y="359.50" font-size="6.9" text-anchor="middle" fill="#2b2b2b" stroke="#2b2b2b" stroke-width="0.22" textLength="15.1" lengthAdjust="spacingAndGlyphs">wash</text>
<rect x="128.80" y="353.00" width="32.00" height="9.40" fill="#c3ddf3" stroke="#222" stroke-width="0.9"/>
<text x="144.80" y="360.40" font-size="7" text-anchor="middle" fill="#5ba7dc" stroke="#5ba7dc" stroke-width="0.22">M-CSF</text>
<text x="189.40" y="361.40" font-size="6.8" text-anchor="middle" fill="#2b2b2b" stroke="#2b2b2b" stroke-width="0.22">m&#981;</text>
<rect x="35.30" y="365.20" width="135.80" height="8.00" fill="#c3ddf3" stroke="none" stroke-width="1"/>
<line x1="34.70" y1="373.20" x2="174.60" y2="373.20" stroke="#1a1a1a" stroke-width="1.3"/>
<path d="M178.80,373.20 L172.80,370.50 L172.80,375.90 Z" fill="#111"/>
<line x1="35.30" y1="365.20" x2="35.30" y2="373.80" stroke="#1a1a1a" stroke-width="1.3"/>
<line x1="58.50" y1="365.20" x2="58.50" y2="373.80" stroke="#1a1a1a" stroke-width="1.3"/>
<line x1="86.20" y1="365.20" x2="86.20" y2="373.80" stroke="#1a1a1a" stroke-width="1.3"/>
<line x1="108.70" y1="365.20" x2="108.70" y2="373.80" stroke="#1a1a1a" stroke-width="1.3"/>
<circle cx="28.90" cy="370.20" r="4.30" fill="#fff" stroke="#111" stroke-width="1.3"/>
<circle cx="28.90" cy="370.20" r="2.32" fill="#111"/>
<path d="M193.10,364.20 L193.89,369.27 L200.10,370.60 L194.39,373.05 L195.10,378.30 L189.60,375.16 L183.00,377.00 L185.94,372.40 L180.50,370.00 L186.48,369.55 L186.10,365.50 L189.75,367.83 Z" fill="#52bdea" stroke="#1b7fc2" stroke-width="0.95" stroke-linejoin="miter"/>
<path d="M184.90,370.60 L187.90,369.90 M193.50,375.30 L191.90,373.30" stroke="#ffffff" stroke-opacity="0.55" stroke-width="0.5" fill="none"/>
<ellipse cx="190.40" cy="372.00" rx="2.70" ry="2.20" fill="#1e8fd2"/>
<rect x="35.30" y="381.00" width="135.80" height="8.00" fill="#c3ddf3" stroke="none" stroke-width="1"/>
<line x1="34.70" y1="389.00" x2="174.60" y2="389.00" stroke="#1a1a1a" stroke-width="1.3"/>
<path d="M178.80,389.00 L172.80,386.30 L172.80,391.70 Z" fill="#111"/>
<line x1="35.30" y1="381.00" x2="35.30" y2="389.60" stroke="#1a1a1a" stroke-width="1.3"/>
<line x1="58.50" y1="381.00" x2="58.50" y2="389.60" stroke="#1a1a1a" stroke-width="1.3"/>
<line x1="86.20" y1="381.00" x2="86.20" y2="389.60" stroke="#1a1a1a" stroke-width="1.3"/>
<line x1="108.70" y1="381.00" x2="108.70" y2="389.60" stroke="#1a1a1a" stroke-width="1.3"/>
<circle cx="28.90" cy="386.00" r="4.30" fill="#fff" stroke="#111" stroke-width="1.3"/>
<circle cx="28.90" cy="386.00" r="2.32" fill="#111"/>
<text x="97.50" y="387.30" font-size="6.8" text-anchor="middle" fill="#c3267b" stroke="#c3267b" stroke-width="0.22" textLength="11.4" lengthAdjust="spacingAndGlyphs">GM</text>
<path d="M193.10,380.00 L193.89,385.07 L200.10,386.40 L194.39,388.85 L195.10,394.10 L189.60,390.96 L183.00,392.80 L185.94,388.20 L180.50,385.80 L186.48,385.35 L186.10,381.30 L189.75,383.63 Z" fill="#b7abe2" stroke="#8577c0" stroke-width="0.95" stroke-linejoin="miter"/>
<path d="M184.90,386.40 L187.90,385.70 M193.50,391.10 L191.90,389.10" stroke="#ffffff" stroke-opacity="0.55" stroke-width="0.5" fill="none"/>
<ellipse cx="190.40" cy="387.80" rx="2.70" ry="2.20" fill="#9384cf"/>
<rect x="35.30" y="397.20" width="135.80" height="8.00" fill="#c3ddf3" stroke="none" stroke-width="1"/>
<line x1="34.70" y1="405.20" x2="174.60" y2="405.20" stroke="#1a1a1a" stroke-width="1.3"/>
<path d="M178.80,405.20 L172.80,402.50 L172.80,407.90 Z" fill="#111"/>
<line x1="35.30" y1="397.20" x2="35.30" y2="405.80" stroke="#1a1a1a" stroke-width="1.3"/>
<line x1="58.50" y1="397.20" x2="58.50" y2="405.80" stroke="#1a1a1a" stroke-width="1.3"/>
<line x1="86.20" y1="397.20" x2="86.20" y2="405.80" stroke="#1a1a1a" stroke-width="1.3"/>
<line x1="108.70" y1="397.20" x2="108.70" y2="405.80" stroke="#1a1a1a" stroke-width="1.3"/>
<circle cx="28.90" cy="402.20" r="4.30" fill="#fff" stroke="#111" stroke-width="1.3"/>
<circle cx="28.90" cy="402.20" r="2.32" fill="#111"/>
<text x="46.70" y="403.50" font-size="6.8" text-anchor="middle" fill="#c3267b" stroke="#c3267b" stroke-width="0.22" textLength="11.4" lengthAdjust="spacingAndGlyphs">GM</text>
<path d="M193.10,396.20 L193.89,401.27 L200.10,402.60 L194.39,405.05 L195.10,410.30 L189.60,407.16 L183.00,409.00 L185.94,404.40 L180.50,402.00 L186.48,401.55 L186.10,397.50 L189.75,399.83 Z" fill="#ee2a33" stroke="#b3121c" stroke-width="0.95" stroke-linejoin="miter"/>
<path d="M184.90,402.60 L187.90,401.90 M193.50,407.30 L191.90,405.30" stroke="#ffffff" stroke-opacity="0.55" stroke-width="0.5" fill="none"/>
<ellipse cx="190.40" cy="404.00" rx="2.70" ry="2.20" fill="#c4141f"/>
<rect x="35.30" y="412.70" width="135.80" height="8.00" fill="#c3ddf3" stroke="none" stroke-width="1"/>
<line x1="34.70" y1="420.70" x2="174.60" y2="420.70" stroke="#1a1a1a" stroke-width="1.3"/>
<path d="M178.80,420.70 L172.80,418.00 L172.80,423.40 Z" fill="#111"/>
<line x1="35.30" y1="412.70" x2="35.30" y2="421.30" stroke="#1a1a1a" stroke-width="1.3"/>
<line x1="58.50" y1="412.70" x2="58.50" y2="421.30" stroke="#1a1a1a" stroke-width="1.3"/>
<line x1="86.20" y1="412.70" x2="86.20" y2="421.30" stroke="#1a1a1a" stroke-width="1.3"/>
<line x1="108.70" y1="412.70" x2="108.70" y2="421.30" stroke="#1a1a1a" stroke-width="1.3"/>
<circle cx="28.90" cy="417.70" r="4.30" fill="#fff" stroke="#111" stroke-width="1.3"/>
<circle cx="28.90" cy="417.70" r="2.32" fill="#111"/>
<text x="46.70" y="419.00" font-size="6.8" text-anchor="middle" fill="#c3267b" stroke="#c3267b" stroke-width="0.22" textLength="11.4" lengthAdjust="spacingAndGlyphs">GM</text>
<text x="97.50" y="419.00" font-size="6.8" text-anchor="middle" fill="#c3267b" stroke="#c3267b" stroke-width="0.22" textLength="11.4" lengthAdjust="spacingAndGlyphs">GM</text>
<path d="M193.10,411.70 L193.89,416.77 L200.10,418.10 L194.39,420.55 L195.10,425.80 L189.60,422.66 L183.00,424.50 L185.94,419.90 L180.50,417.50 L186.48,417.05 L186.10,413.00 L189.75,415.33 Z" fill="#74359c" stroke="#3d1261" stroke-width="0.95" stroke-linejoin="miter"/>
<path d="M184.90,418.10 L187.90,417.40 M193.50,422.80 L191.90,420.80" stroke="#ffffff" stroke-opacity="0.55" stroke-width="0.5" fill="none"/>
<ellipse cx="190.40" cy="419.50" rx="2.70" ry="2.20" fill="#4c1a74"/>
<text x="36.10" y="431.70" font-size="6.9" text-anchor="middle" fill="#2b2b2b" stroke="#2b2b2b" stroke-width="0.22" textLength="5.2" lengthAdjust="spacingAndGlyphs">t0</text>
<text x="58.10" y="431.70" font-size="6.9" text-anchor="middle" fill="#2b2b2b" stroke="#2b2b2b" stroke-width="0.22" textLength="14.2" lengthAdjust="spacingAndGlyphs">day1</text>
<text x="86.40" y="431.70" font-size="6.9" text-anchor="middle" fill="#2b2b2b" stroke="#2b2b2b" stroke-width="0.22" textLength="14.6" lengthAdjust="spacingAndGlyphs">day3</text>
<text x="109.00" y="431.70" font-size="6.9" text-anchor="middle" fill="#2b2b2b" stroke="#2b2b2b" stroke-width="0.22" textLength="14.6" lengthAdjust="spacingAndGlyphs">day4</text>
<text x="178.80" y="431.70" font-size="6.9" text-anchor="middle" fill="#2b2b2b" stroke="#2b2b2b" stroke-width="0.22" textLength="14.6" lengthAdjust="spacingAndGlyphs">day9</text>
<text x="219.90" y="337.80" font-size="12.1" font-weight="bold" fill="#111">E</text>
<g filter="url(#b1)">
<path d="M275.30,413.60 C274.33,413.13 273.08,411.57 272.40,410.20 C271.72,408.83 271.03,406.97 271.20,405.40 C271.37,403.83 272.57,402.23 273.40,400.80 C274.23,399.37 275.63,398.00 276.20,396.80 C276.77,395.60 276.37,394.30 276.80,393.60 C277.23,392.90 278.17,392.47 278.80,392.60 C279.43,392.73 279.93,393.73 280.60,394.40 C281.27,395.07 282.15,396.37 282.80,396.60 C283.45,396.83 284.03,396.42 284.50,395.80 C284.97,395.18 285.02,393.43 285.60,392.90 C286.18,392.37 287.30,392.28 288.00,392.60 C288.70,392.92 289.13,394.27 289.80,394.80 C290.47,395.33 291.50,395.00 292.00,395.80 C292.50,396.60 292.57,398.10 292.80,399.60 C293.03,401.10 293.57,403.23 293.40,404.80 C293.23,406.37 292.67,408.03 291.80,409.00 C290.93,409.97 289.42,410.37 288.20,410.60 C286.98,410.83 285.70,410.27 284.50,410.40 C283.30,410.53 282.05,410.97 281.00,411.40 C279.95,411.83 279.15,412.63 278.20,413.00 C277.25,413.37 276.27,414.07 275.30,413.60  Z" fill="#1b3fa6"/>
<path d="M275.60,412.60 C274.77,412.27 273.77,411.00 273.20,409.80 C272.63,408.60 272.03,406.80 272.20,405.40 C272.37,404.00 273.40,402.67 274.20,401.40 C275.00,400.13 276.03,398.53 277.00,397.80 C277.97,397.07 279.00,396.97 280.00,397.00 C281.00,397.03 282.00,398.00 283.00,398.00 C284.00,398.00 285.00,397.17 286.00,397.00 C287.00,396.83 288.07,396.80 289.00,397.00 C289.93,397.20 291.10,397.45 291.60,398.20 C292.10,398.95 291.93,400.43 292.00,401.50 C292.07,402.57 292.27,403.55 292.00,404.60 C291.73,405.65 291.13,407.07 290.40,407.80 C289.67,408.53 288.63,408.80 287.60,409.00 C286.57,409.20 285.33,408.83 284.20,409.00 C283.07,409.17 281.80,409.53 280.80,410.00 C279.80,410.47 279.07,411.37 278.20,411.80 C277.33,412.23 276.43,412.93 275.60,412.60  Z" fill="#1d6fd1"/>
<path d="M275.80,411.60 C275.07,411.37 274.27,410.23 273.80,409.20 C273.33,408.17 272.83,406.63 273.00,405.40 C273.17,404.17 274.07,402.90 274.80,401.80 C275.53,400.70 276.50,399.40 277.40,398.80 C278.30,398.20 279.27,398.13 280.20,398.20 C281.13,398.27 282.03,399.17 283.00,399.20 C283.97,399.23 285.03,398.50 286.00,398.40 C286.97,398.30 288.07,398.33 288.80,398.60 C289.53,398.87 290.10,399.27 290.40,400.00 C290.70,400.73 290.77,402.00 290.60,403.00 C290.43,404.00 290.00,405.23 289.40,406.00 C288.80,406.77 287.90,407.30 287.00,407.60 C286.10,407.90 285.03,407.60 284.00,407.80 C282.97,408.00 281.77,408.33 280.80,408.80 C279.83,409.27 279.03,410.13 278.20,410.60 C277.37,411.07 276.53,411.83 275.80,411.60  Z" fill="#25a9dc"/>
<path d="M276.20,409.80 C275.70,409.57 275.10,408.93 274.80,408.20 C274.50,407.47 274.23,406.33 274.40,405.40 C274.57,404.47 275.20,403.37 275.80,402.60 C276.40,401.83 277.23,401.13 278.00,400.80 C278.77,400.47 279.57,400.50 280.40,400.60 C281.23,400.70 282.13,401.37 283.00,401.40 C283.87,401.43 284.87,400.80 285.60,400.80 C286.33,400.80 287.10,401.07 287.40,401.40 C287.70,401.73 287.73,402.33 287.40,402.80 C287.07,403.27 286.17,403.83 285.40,404.20 C284.63,404.57 283.53,404.60 282.80,405.00 C282.07,405.40 281.57,406.03 281.00,406.60 C280.43,407.17 279.93,407.90 279.40,408.40 C278.87,408.90 278.33,409.37 277.80,409.60 C277.27,409.83 276.70,410.03 276.20,409.80  Z" fill="#3fb848"/>
</g>
<g filter="url(#b1)">
<ellipse cx="277.00" cy="405.60" rx="3.60" ry="2.60" fill="#a6d634" transform="rotate(-42 277.00 405.60)"/>
<ellipse cx="277.00" cy="405.50" rx="2.90" ry="2.00" fill="#f4e52a" transform="rotate(-42 277.00 405.50)"/>
<ellipse cx="277.00" cy="405.40" rx="1.90" ry="1.30" fill="#f7931e" transform="rotate(-42 277.00 405.40)"/>
<ellipse cx="276.90" cy="405.40" rx="1.00" ry="0.70" fill="#e7251d" transform="rotate(-42 276.90 405.40)"/>
</g>
<text x="285.60" y="350.80" font-size="9" text-anchor="middle" fill="#2b2b2b" stroke="#2b2b2b" stroke-width="0.22">LKS<tspan dy="-3.4" font-size="5.6">+</tspan><tspan dy="3.4" font-size="1">&#8203;</tspan></text>
<text x="285.60" y="361.60" font-size="9" text-anchor="middle" fill="#2b2b2b" stroke="#2b2b2b" stroke-width="0.22">t0</text>
<rect x="260.80" y="367.10" width="54.00" height="53.80" fill="none" stroke="#111" stroke-width="1"/>
<rect x="278.80" y="376.30" width="33.60" height="20.70" fill="none" stroke="#111" stroke-width="0.9"/>
<text x="264.20" y="376.80" font-size="6.8" fill="#2b2b2b" stroke="#2b2b2b" stroke-width="0.22">5%</text>
<line x1="257.50" y1="373.40" x2="260.80" y2="373.40" stroke="#1a1a1a" stroke-width="0.8"/>
<text x="253.60" y="376.00" font-size="6.6" text-anchor="end" fill="#2b2b2b" stroke="#2b2b2b" stroke-width="0.22">10<tspan dy="-2.8" font-size="4.092">5</tspan><tspan dy="2.8" font-size="1">&#8203;</tspan></text>
<line x1="257.50" y1="385.80" x2="260.80" y2="385.80" stroke="#1a1a1a" stroke-width="0.8"/>
<text x="253.60" y="388.40" font-size="6.6" text-anchor="end" fill="#2b2b2b" stroke="#2b2b2b" stroke-width="0.22">10<tspan dy="-2.8" font-size="4.092">4</tspan><tspan dy="2.8" font-size="1">&#8203;</tspan></text>
<line x1="257.50" y1="399.20" x2="260.80" y2="399.20" stroke="#1a1a1a" stroke-width="0.8"/>
<text x="253.60" y="401.80" font-size="6.6" text-anchor="end" fill="#2b2b2b" stroke="#2b2b2b" stroke-width="0.22">10<tspan dy="-2.8" font-size="4.092">3</tspan><tspan dy="2.8" font-size="1">&#8203;</tspan></text>
<line x1="257.50" y1="409.90" x2="260.80" y2="409.90" stroke="#1a1a1a" stroke-width="0.8"/>
<text x="253.60" y="412.30" font-size="6.6" text-anchor="end" fill="#2b2b2b" stroke="#2b2b2b" stroke-width="0.22">0</text>
<line x1="259.20" y1="382.07" x2="260.80" y2="382.07" stroke="#333" stroke-width="0.45"/>
<line x1="259.20" y1="379.88" x2="260.80" y2="379.88" stroke="#333" stroke-width="0.45"/>
<line x1="259.20" y1="378.33" x2="260.80" y2="378.33" stroke="#333" stroke-width="0.45"/>
<line x1="259.20" y1="377.13" x2="260.80" y2="377.13" stroke="#333" stroke-width="0.45"/>
<line x1="259.20" y1="376.15" x2="260.80" y2="376.15" stroke="#333" stroke-width="0.45"/>
<line x1="259.20" y1="375.32" x2="260.80" y2="375.32" stroke="#333" stroke-width="0.45"/>
<line x1="259.20" y1="374.60" x2="260.80" y2="374.60" stroke="#333" stroke-width="0.45"/>
<line x1="259.20" y1="373.97" x2="260.80" y2="373.97" stroke="#333" stroke-width="0.45"/>
<line x1="259.20" y1="395.17" x2="260.80" y2="395.17" stroke="#333" stroke-width="0.45"/>
<line x1="259.20" y1="392.81" x2="260.80" y2="392.81" stroke="#333" stroke-width="0.45"/>
<line x1="259.20" y1="391.13" x2="260.80" y2="391.13" stroke="#333" stroke-width="0.45"/>
<line x1="259.20" y1="389.83" x2="260.80" y2="389.83" stroke="#333" stroke-width="0.45"/>
<line x1="259.20" y1="388.77" x2="260.80" y2="388.77" stroke="#333" stroke-width="0.45"/>
<line x1="259.20" y1="387.88" x2="260.80" y2="387.88" stroke="#333" stroke-width="0.45"/>
<line x1="259.20" y1="387.10" x2="260.80" y2="387.10" stroke="#333" stroke-width="0.45"/>
<line x1="259.20" y1="386.41" x2="260.80" y2="386.41" stroke="#333" stroke-width="0.45"/>
<line x1="259.20" y1="403.39" x2="260.80" y2="403.39" stroke="#333" stroke-width="0.45"/>
<line x1="259.20" y1="402.34" x2="260.80" y2="402.34" stroke="#333" stroke-width="0.45"/>
<line x1="259.20" y1="401.59" x2="260.80" y2="401.59" stroke="#333" stroke-width="0.45"/>
<line x1="259.20" y1="401.01" x2="260.80" y2="401.01" stroke="#333" stroke-width="0.45"/>
<line x1="259.20" y1="400.53" x2="260.80" y2="400.53" stroke="#333" stroke-width="0.45"/>
<line x1="259.20" y1="400.13" x2="260.80" y2="400.13" stroke="#333" stroke-width="0.45"/>
<line x1="259.20" y1="399.78" x2="260.80" y2="399.78" stroke="#333" stroke-width="0.45"/>
<line x1="259.20" y1="399.47" x2="260.80" y2="399.47" stroke="#333" stroke-width="0.45"/>
<rect x="257.40" y="408.60" width="3.40" height="2.60" fill="#111" stroke="none" stroke-width="1"/>
<line x1="259.20" y1="413.40" x2="260.80" y2="413.40" stroke="#1a1a1a" stroke-width="0.45"/>
<line x1="259.20" y1="415.00" x2="260.80" y2="415.00" stroke="#1a1a1a" stroke-width="0.45"/>
<line x1="259.20" y1="416.40" x2="260.80" y2="416.40" stroke="#1a1a1a" stroke-width="0.45"/>
<line x1="259.20" y1="417.60" x2="260.80" y2="417.60" stroke="#1a1a1a" stroke-width="0.45"/>
<line x1="273.60" y1="420.90" x2="273.60" y2="423.30" stroke="#1a1a1a" stroke-width="0.8"/>
<line x1="280.30" y1="420.90" x2="280.30" y2="423.30" stroke="#1a1a1a" stroke-width="0.8"/>
<line x1="295.60" y1="420.90" x2="295.60" y2="423.30" stroke="#1a1a1a" stroke-width="0.8"/>
<line x1="307.70" y1="420.90" x2="307.70" y2="423.30" stroke="#1a1a1a" stroke-width="0.8"/>
<rect x="272.40" y="420.90" width="2.40" height="3.00" fill="#111" stroke="none" stroke-width="1"/>
<line x1="284.91" y1="420.90" x2="284.91" y2="422.40" stroke="#333" stroke-width="0.45"/>
<line x1="287.60" y1="420.90" x2="287.60" y2="422.40" stroke="#333" stroke-width="0.45"/>
<line x1="289.51" y1="420.90" x2="289.51" y2="422.40" stroke="#333" stroke-width="0.45"/>
<line x1="290.99" y1="420.90" x2="290.99" y2="422.40" stroke="#333" stroke-width="0.45"/>
<line x1="292.21" y1="420.90" x2="292.21" y2="422.40" stroke="#333" stroke-width="0.45"/>
<line x1="293.23" y1="420.90" x2="293.23" y2="422.40" stroke="#333" stroke-width="0.45"/>
<line x1="294.12" y1="420.90" x2="294.12" y2="422.40" stroke="#333" stroke-width="0.45"/>
<line x1="294.90" y1="420.90" x2="294.90" y2="422.40" stroke="#333" stroke-width="0.45"/>
<line x1="299.24" y1="420.90" x2="299.24" y2="422.40" stroke="#333" stroke-width="0.45"/>
<line x1="301.37" y1="420.90" x2="301.37" y2="422.40" stroke="#333" stroke-width="0.45"/>
<line x1="302.88" y1="420.90" x2="302.88" y2="422.40" stroke="#333" stroke-width="0.45"/>
<line x1="304.06" y1="420.90" x2="304.06" y2="422.40" stroke="#333" stroke-width="0.45"/>
<line x1="305.02" y1="420.90" x2="305.02" y2="422.40" stroke="#333" stroke-width="0.45"/>
<line x1="305.83" y1="420.90" x2="305.83" y2="422.40" stroke="#333" stroke-width="0.45"/>
<line x1="306.53" y1="420.90" x2="306.53" y2="422.40" stroke="#333" stroke-width="0.45"/>
<line x1="307.15" y1="420.90" x2="307.15" y2="422.40" stroke="#333" stroke-width="0.45"/>
<line x1="270.00" y1="420.90" x2="270.00" y2="422.40" stroke="#1a1a1a" stroke-width="0.45"/>
<line x1="268.60" y1="420.90" x2="268.60" y2="422.40" stroke="#1a1a1a" stroke-width="0.45"/>
<line x1="267.40" y1="420.90" x2="267.40" y2="422.40" stroke="#1a1a1a" stroke-width="0.45"/>
<line x1="266.40" y1="420.90" x2="266.40" y2="422.40" stroke="#1a1a1a" stroke-width="0.45"/>
<text x="272.40" y="433.20" font-size="6.6" text-anchor="middle" fill="#2b2b2b" stroke="#2b2b2b" stroke-width="0.22">0</text>
<text x="281.10" y="433.40" font-size="6.6" text-anchor="middle" fill="#2b2b2b" stroke="#2b2b2b" stroke-width="0.22">10<tspan dy="-2.7" font-size="4.2">3</tspan><tspan dy="2.7" font-size="1">&#8203;</tspan></text>
<text x="296.40" y="433.40" font-size="6.6" text-anchor="middle" fill="#2b2b2b" stroke="#2b2b2b" stroke-width="0.22">10<tspan dy="-2.7" font-size="4.2">4</tspan><tspan dy="2.7" font-size="1">&#8203;</tspan></text>
<text x="308.50" y="433.40" font-size="6.6" text-anchor="middle" fill="#2b2b2b" stroke="#2b2b2b" stroke-width="0.22">10<tspan dy="-2.7" font-size="4.2">5</tspan><tspan dy="2.7" font-size="1">&#8203;</tspan></text>
<g filter="url(#b1)">
<path d="M363.00,420.40 C362.63,420.13 362.07,418.20 361.60,417.00 C361.13,415.80 360.78,414.95 360.20,413.20 C359.62,411.45 358.37,408.77 358.10,406.50 C357.83,404.23 358.28,401.90 358.60,399.60 C358.92,397.30 359.77,395.00 360.00,392.70 C360.23,390.40 359.70,387.52 360.00,385.80 C360.30,384.08 360.67,383.20 361.80,382.40 C362.93,381.60 365.02,381.52 366.80,381.00 C368.58,380.48 370.20,379.55 372.50,379.30 C374.80,379.05 377.90,379.20 380.60,379.50 C383.30,379.80 386.40,380.43 388.70,381.10 C391.00,381.77 392.58,382.72 394.40,383.50 C396.22,384.28 398.57,385.12 399.60,385.80 C400.63,386.48 401.08,386.93 400.60,387.60 C400.12,388.27 398.12,389.05 396.70,389.80 C395.28,390.55 393.62,391.40 392.10,392.10 C390.58,392.80 388.75,393.37 387.60,394.00 C386.45,394.63 385.13,395.50 385.20,395.90 C385.27,396.30 386.47,396.28 388.00,396.40 C389.53,396.52 392.37,396.27 394.40,396.60 C396.43,396.93 399.10,397.70 400.20,398.40 C401.30,399.10 401.03,400.00 401.00,400.80 C400.97,401.60 400.72,402.53 400.00,403.20 C399.28,403.87 398.02,404.25 396.70,404.80 C395.38,405.35 393.43,405.77 392.10,406.50 C390.77,407.23 390.05,408.55 388.70,409.20 C387.35,409.85 385.55,410.10 384.00,410.40 C382.45,410.70 380.93,410.60 379.40,411.00 C377.87,411.40 376.53,412.10 374.80,412.80 C373.07,413.50 370.60,414.52 369.00,415.20 C367.40,415.88 366.07,416.33 365.20,416.90 C364.33,417.47 364.17,418.02 363.80,418.60 C363.43,419.18 363.37,420.67 363.00,420.40  Z" fill="#1b3fa6"/>
<path d="M362.60,416.00 C361.93,415.50 361.57,414.18 361.00,412.60 C360.43,411.02 359.42,408.63 359.20,406.50 C358.98,404.37 359.38,402.08 359.70,399.80 C360.02,397.52 360.87,395.07 361.10,392.80 C361.33,390.53 360.85,387.77 361.10,386.20 C361.35,384.63 361.62,384.08 362.60,383.40 C363.58,382.72 365.32,382.58 367.00,382.10 C368.68,381.62 370.47,380.73 372.70,380.50 C374.93,380.27 377.80,380.40 380.40,380.70 C383.00,381.00 386.03,381.65 388.30,382.30 C390.57,382.95 392.32,383.88 394.00,384.60 C395.68,385.32 398.07,385.90 398.40,386.60 C398.73,387.30 397.17,388.07 396.00,388.80 C394.83,389.53 393.00,390.30 391.40,391.00 C389.80,391.70 387.97,392.57 386.40,393.00 C384.83,393.43 383.37,393.17 382.00,393.60 C380.63,394.03 378.73,394.77 378.20,395.60 C377.67,396.43 377.83,398.10 378.80,398.60 C379.77,399.10 382.13,398.63 384.00,398.60 C385.87,398.57 388.00,398.33 390.00,398.40 C392.00,398.47 394.43,398.63 396.00,399.00 C397.57,399.37 399.37,399.83 399.40,400.60 C399.43,401.37 397.50,402.83 396.20,403.60 C394.90,404.37 392.97,404.50 391.60,405.20 C390.23,405.90 389.33,407.17 388.00,407.80 C386.67,408.43 385.10,408.67 383.60,409.00 C382.10,409.33 380.53,409.37 379.00,409.80 C377.47,410.23 376.13,410.90 374.40,411.60 C372.67,412.30 370.17,413.33 368.60,414.00 C367.03,414.67 366.00,415.27 365.00,415.60 C364.00,415.93 363.27,416.50 362.60,416.00  Z" fill="#1d6fd1"/>
<ellipse cx="389" cy="402.2" rx="10.5" ry="3.3" fill="#1b3fa6" opacity="0.6"/>
<ellipse cx="380" cy="394.6" rx="4.2" ry="2.6" fill="#1b3fa6" opacity="0.6"/>
<path d="M362.80,414.40 C362.20,414.00 361.83,412.93 361.40,411.60 C360.97,410.27 360.30,408.33 360.20,406.40 C360.10,404.47 360.47,402.23 360.80,400.00 C361.13,397.77 361.97,395.20 362.20,393.00 C362.43,390.80 361.97,388.23 362.20,386.80 C362.43,385.37 362.73,385.00 363.60,384.40 C364.47,383.80 365.87,383.63 367.40,383.20 C368.93,382.77 370.67,382.00 372.80,381.80 C374.93,381.60 377.70,381.72 380.20,382.00 C382.70,382.28 385.60,382.87 387.80,383.50 C390.00,384.13 392.10,385.15 393.40,385.80 C394.70,386.45 396.00,386.80 395.60,387.40 C395.20,388.00 392.67,388.80 391.00,389.40 C389.33,390.00 387.33,390.67 385.60,391.00 C383.87,391.33 382.10,391.13 380.60,391.40 C379.10,391.67 377.63,391.93 376.60,392.60 C375.57,393.27 374.80,394.27 374.40,395.40 C374.00,396.53 374.03,398.13 374.20,399.40 C374.37,400.67 374.77,402.00 375.40,403.00 C376.03,404.00 377.90,404.57 378.00,405.40 C378.10,406.23 376.93,407.17 376.00,408.00 C375.07,408.83 373.70,409.63 372.40,410.40 C371.10,411.17 369.43,412.00 368.20,412.60 C366.97,413.20 365.90,413.70 365.00,414.00 C364.10,414.30 363.40,414.80 362.80,414.40  Z" fill="#25a9dc"/>
<path d="M363.20,412.80 C362.77,412.40 362.33,411.50 362.00,410.40 C361.67,409.30 361.23,407.87 361.20,406.20 C361.17,404.53 361.47,402.43 361.80,400.40 C362.13,398.37 362.93,396.10 363.20,394.00 C363.47,391.90 363.13,389.23 363.40,387.80 C363.67,386.37 364.03,386.00 364.80,385.40 C365.57,384.80 366.63,384.60 368.00,384.20 C369.37,383.80 371.00,383.15 373.00,383.00 C375.00,382.85 377.67,383.00 380.00,383.30 C382.33,383.60 384.93,384.25 387.00,384.80 C389.07,385.35 391.97,386.03 392.40,386.60 C392.83,387.17 390.93,387.77 389.60,388.20 C388.27,388.63 386.17,389.00 384.40,389.20 C382.63,389.40 380.73,389.27 379.00,389.40 C377.27,389.53 375.40,389.50 374.00,390.00 C372.60,390.50 371.33,391.33 370.60,392.40 C369.87,393.47 369.73,394.97 369.60,396.40 C369.47,397.83 369.80,399.47 369.80,401.00 C369.80,402.53 369.83,404.20 369.60,405.60 C369.37,407.00 368.97,408.37 368.40,409.40 C367.83,410.43 366.83,411.23 366.20,411.80 C365.57,412.37 365.10,412.63 364.60,412.80 C364.10,412.97 363.63,413.20 363.20,412.80  Z" fill="#3fb848"/>
</g>
<g filter="url(#b1)">
<ellipse cx="363.50" cy="405.60" rx="3.00" ry="5.60" fill="#a6d634" transform="rotate(6 363.50 405.60)"/>
<ellipse cx="363.40" cy="405.50" rx="2.30" ry="4.60" fill="#f4e52a" transform="rotate(6 363.40 405.50)"/>
<ellipse cx="363.30" cy="405.60" rx="1.50" ry="3.40" fill="#f7931e" transform="rotate(6 363.30 405.60)"/>
<ellipse cx="363.20" cy="405.80" rx="0.85" ry="2.30" fill="#e7251d" transform="rotate(6 363.20 405.80)"/>
</g>
<text x="376.20" y="350.80" font-size="9" text-anchor="middle" fill="#2b2b2b" stroke="#2b2b2b" stroke-width="0.22">LKS<tspan dy="-3.4" font-size="5.6">+</tspan><tspan dy="3.4" font-size="1">&#8203;</tspan> M</text>
<text x="376.20" y="361.60" font-size="9" text-anchor="middle" fill="#2b2b2b" stroke="#2b2b2b" stroke-width="0.22">day 3</text>
<rect x="348.40" y="367.10" width="54.40" height="53.60" fill="none" stroke="#111" stroke-width="1"/>
<rect x="366.50" y="376.30" width="33.70" height="20.70" fill="none" stroke="#111" stroke-width="0.9"/>
<text x="351.80" y="376.80" font-size="6.8" fill="#2b2b2b" stroke="#2b2b2b" stroke-width="0.22">28%</text>
<line x1="345.10" y1="373.40" x2="348.40" y2="373.40" stroke="#1a1a1a" stroke-width="0.8"/>
<text x="341.20" y="376.00" font-size="6.6" text-anchor="end" fill="#2b2b2b" stroke="#2b2b2b" stroke-width="0.22">10<tspan dy="-2.8" font-size="4.092">5</tspan><tspan dy="2.8" font-size="1">&#8203;</tspan></text>
<line x1="345.10" y1="385.80" x2="348.40" y2="385.80" stroke="#1a1a1a" stroke-width="0.8"/>
<text x="341.20" y="388.40" font-size="6.6" text-anchor="end" fill="#2b2b2b" stroke="#2b2b2b" stroke-width="0.22">10<tspan dy="-2.8" font-size="4.092">4</tspan><tspan dy="2.8" font-size="1">&#8203;</tspan></text>
<line x1="345.10" y1="399.20" x2="348.40" y2="399.20" stroke="#1a1a1a" stroke-width="0.8"/>
<text x="341.20" y="401.80" font-size="6.6" text-anchor="end" fill="#2b2b2b" stroke="#2b2b2b" stroke-width="0.22">10<tspan dy="-2.8" font-size="4.092">3</tspan><tspan dy="2.8" font-size="1">&#8203;</tspan></text>
<line x1="345.10" y1="409.90" x2="348.40" y2="409.90" stroke="#1a1a1a" stroke-width="0.8"/>
<text x="341.20" y="412.30" font-size="6.6" text-anchor="end" fill="#2b2b2b" stroke="#2b2b2b" stroke-width="0.22">0</text>
<line x1="346.80" y1="382.07" x2="348.40" y2="382.07" stroke="#333" stroke-width="0.45"/>
<line x1="346.80" y1="379.88" x2="348.40" y2="379.88" stroke="#333" stroke-width="0.45"/>
<line x1="346.80" y1="378.33" x2="348.40" y2="378.33" stroke="#333" stroke-width="0.45"/>
<line x1="346.80" y1="377.13" x2="348.40" y2="377.13" stroke="#333" stroke-width="0.45"/>
<line x1="346.80" y1="376.15" x2="348.40" y2="376.15" stroke="#333" stroke-width="0.45"/>
<line x1="346.80" y1="375.32" x2="348.40" y2="375.32" stroke="#333" stroke-width="0.45"/>
<line x1="346.80" y1="374.60" x2="348.40" y2="374.60" stroke="#333" stroke-width="0.45"/>
<line x1="346.80" y1="373.97" x2="348.40" y2="373.97" stroke="#333" stroke-width="0.45"/>
<line x1="346.80" y1="395.17" x2="348.40" y2="395.17" stroke="#333" stroke-width="0.45"/>
<line x1="346.80" y1="392.81" x2="348.40" y2="392.81" stroke="#333" stroke-width="0.45"/>
<line x1="346.80" y1="391.13" x2="348.40" y2="391.13" stroke="#333" stroke-width="0.45"/>
<line x1="346.80" y1="389.83" x2="348.40" y2="389.83" stroke="#333" stroke-width="0.45"/>
<line x1="346.80" y1="388.77" x2="348.40" y2="388.77" stroke="#333" stroke-width="0.45"/>
<line x1="346.80" y1="387.88" x2="348.40" y2="387.88" stroke="#333" stroke-width="0.45"/>
<line x1="346.80" y1="387.10" x2="348.40" y2="387.10" stroke="#333" stroke-width="0.45"/>
<line x1="346.80" y1="386.41" x2="348.40" y2="386.41" stroke="#333" stroke-width="0.45"/>
<line x1="346.80" y1="403.39" x2="348.40" y2="403.39" stroke="#333" stroke-width="0.45"/>
<line x1="346.80" y1="402.34" x2="348.40" y2="402.34" stroke="#333" stroke-width="0.45"/>
<line x1="346.80" y1="401.59" x2="348.40" y2="401.59" stroke="#333" stroke-width="0.45"/>
<line x1="346.80" y1="401.01" x2="348.40" y2="401.01" stroke="#333" stroke-width="0.45"/>
<line x1="346.80" y1="400.53" x2="348.40" y2="400.53" stroke="#333" stroke-width="0.45"/>
<line x1="346.80" y1="400.13" x2="348.40" y2="400.13" stroke="#333" stroke-width="0.45"/>
<line x1="346.80" y1="399.78" x2="348.40" y2="399.78" stroke="#333" stroke-width="0.45"/>
<line x1="346.80" y1="399.47" x2="348.40" y2="399.47" stroke="#333" stroke-width="0.45"/>
<rect x="345.00" y="408.60" width="3.40" height="2.60" fill="#111" stroke="none" stroke-width="1"/>
<line x1="346.80" y1="413.40" x2="348.40" y2="413.40" stroke="#1a1a1a" stroke-width="0.45"/>
<line x1="346.80" y1="415.00" x2="348.40" y2="415.00" stroke="#1a1a1a" stroke-width="0.45"/>
<line x1="346.80" y1="416.40" x2="348.40" y2="416.40" stroke="#1a1a1a" stroke-width="0.45"/>
<line x1="346.80" y1="417.60" x2="348.40" y2="417.60" stroke="#1a1a1a" stroke-width="0.45"/>
<line x1="362.50" y1="420.70" x2="362.50" y2="423.10" stroke="#1a1a1a" stroke-width="0.8"/>
<line x1="369.30" y1="420.70" x2="369.30" y2="423.10" stroke="#1a1a1a" stroke-width="0.8"/>
<line x1="384.80" y1="420.70" x2="384.80" y2="423.10" stroke="#1a1a1a" stroke-width="0.8"/>
<line x1="396.70" y1="420.70" x2="396.70" y2="423.10" stroke="#1a1a1a" stroke-width="0.8"/>
<rect x="361.30" y="420.70" width="2.40" height="3.00" fill="#111" stroke="none" stroke-width="1"/>
<line x1="373.97" y1="420.70" x2="373.97" y2="422.20" stroke="#333" stroke-width="0.45"/>
<line x1="376.70" y1="420.70" x2="376.70" y2="422.20" stroke="#333" stroke-width="0.45"/>
<line x1="378.63" y1="420.70" x2="378.63" y2="422.20" stroke="#333" stroke-width="0.45"/>
<line x1="380.13" y1="420.70" x2="380.13" y2="422.20" stroke="#333" stroke-width="0.45"/>
<line x1="381.36" y1="420.70" x2="381.36" y2="422.20" stroke="#333" stroke-width="0.45"/>
<line x1="382.40" y1="420.70" x2="382.40" y2="422.20" stroke="#333" stroke-width="0.45"/>
<line x1="383.30" y1="420.70" x2="383.30" y2="422.20" stroke="#333" stroke-width="0.45"/>
<line x1="384.09" y1="420.70" x2="384.09" y2="422.20" stroke="#333" stroke-width="0.45"/>
<line x1="388.38" y1="420.70" x2="388.38" y2="422.20" stroke="#333" stroke-width="0.45"/>
<line x1="390.48" y1="420.70" x2="390.48" y2="422.20" stroke="#333" stroke-width="0.45"/>
<line x1="391.96" y1="420.70" x2="391.96" y2="422.20" stroke="#333" stroke-width="0.45"/>
<line x1="393.12" y1="420.70" x2="393.12" y2="422.20" stroke="#333" stroke-width="0.45"/>
<line x1="394.06" y1="420.70" x2="394.06" y2="422.20" stroke="#333" stroke-width="0.45"/>
<line x1="394.86" y1="420.70" x2="394.86" y2="422.20" stroke="#333" stroke-width="0.45"/>
<line x1="395.55" y1="420.70" x2="395.55" y2="422.20" stroke="#333" stroke-width="0.45"/>
<line x1="396.16" y1="420.70" x2="396.16" y2="422.20" stroke="#333" stroke-width="0.45"/>
<line x1="358.90" y1="420.70" x2="358.90" y2="422.20" stroke="#1a1a1a" stroke-width="0.45"/>
<line x1="357.50" y1="420.70" x2="357.50" y2="422.20" stroke="#1a1a1a" stroke-width="0.45"/>
<line x1="356.30" y1="420.70" x2="356.30" y2="422.20" stroke="#1a1a1a" stroke-width="0.45"/>
<line x1="355.30" y1="420.70" x2="355.30" y2="422.20" stroke="#1a1a1a" stroke-width="0.45"/>
<text x="361.30" y="433.20" font-size="6.6" text-anchor="middle" fill="#2b2b2b" stroke="#2b2b2b" stroke-width="0.22">0</text>
<text x="370.10" y="433.40" font-size="6.6" text-anchor="middle" fill="#2b2b2b" stroke="#2b2b2b" stroke-width="0.22">10<tspan dy="-2.7" font-size="4.2">3</tspan><tspan dy="2.7" font-size="1">&#8203;</tspan></text>
<text x="385.60" y="433.40" font-size="6.6" text-anchor="middle" fill="#2b2b2b" stroke="#2b2b2b" stroke-width="0.22">10<tspan dy="-2.7" font-size="4.2">4</tspan><tspan dy="2.7" font-size="1">&#8203;</tspan></text>
<text x="397.50" y="433.40" font-size="6.6" text-anchor="middle" fill="#2b2b2b" stroke="#2b2b2b" stroke-width="0.22">10<tspan dy="-2.7" font-size="4.2">5</tspan><tspan dy="2.7" font-size="1">&#8203;</tspan></text>
<g filter="url(#b1)">
<path d="M450.30,416.40 C449.23,415.72 448.03,413.13 447.40,411.10 C446.77,409.07 446.52,406.50 446.50,404.20 C446.48,401.90 446.97,399.60 447.30,397.30 C447.63,395.00 447.80,392.23 448.50,390.40 C449.20,388.57 450.23,387.37 451.50,386.30 C452.77,385.23 454.18,384.57 456.10,384.00 C458.02,383.43 460.70,382.70 463.00,382.90 C465.30,383.10 467.78,384.35 469.90,385.20 C472.02,386.05 474.17,387.62 475.70,388.00 C477.23,388.38 478.08,387.80 479.10,387.50 C480.12,387.20 481.02,385.92 481.80,386.20 C482.58,386.48 483.55,388.12 483.80,389.20 C484.05,390.28 483.50,391.73 483.30,392.70 C483.10,393.67 482.33,394.23 482.60,395.00 C482.87,395.77 484.15,396.33 484.90,397.30 C485.65,398.27 487.00,399.75 487.10,400.80 C487.20,401.85 486.45,402.93 485.50,403.60 C484.55,404.27 482.47,404.22 481.40,404.80 C480.33,405.38 480.43,406.52 479.10,407.10 C477.77,407.68 475.32,407.92 473.40,408.30 C471.48,408.68 469.15,408.93 467.60,409.40 C466.05,409.87 465.63,410.52 464.10,411.10 C462.57,411.68 460.12,412.22 458.40,412.90 C456.68,413.58 455.15,414.62 453.80,415.20 C452.45,415.78 451.37,417.08 450.30,416.40  Z" fill="#1b3fa6"/>
<path d="M450.94,415.50 C449.93,414.87 448.84,412.37 448.28,410.43 C447.71,408.50 447.54,406.07 447.56,403.91 C447.58,401.76 448.08,399.64 448.38,397.50 C448.69,395.35 448.77,392.76 449.40,391.04 C450.03,389.32 450.99,388.17 452.17,387.17 C453.35,386.17 454.69,385.56 456.48,385.03 C458.28,384.50 460.79,383.81 462.94,384.00 C465.09,384.19 467.39,385.38 469.38,386.17 C471.37,386.96 473.40,388.39 474.87,388.72 C476.34,389.05 477.21,388.47 478.21,388.15 C479.22,387.83 480.13,386.57 480.90,386.83 C481.66,387.09 482.59,388.65 482.81,389.69 C483.04,390.73 482.47,392.13 482.26,393.06 C482.05,393.99 481.27,394.53 481.53,395.26 C481.79,395.99 483.06,396.51 483.81,397.43 C484.55,398.35 485.90,399.76 486.00,400.76 C486.10,401.77 485.36,402.80 484.41,403.43 C483.47,404.06 481.39,404.00 480.33,404.54 C479.28,405.08 479.39,406.16 478.08,406.68 C476.78,407.20 474.35,407.36 472.51,407.65 C470.67,407.95 468.47,408.06 467.04,408.45 C465.60,408.85 465.29,409.45 463.90,410.02 C462.51,410.58 460.29,411.14 458.70,411.84 C457.10,412.54 455.62,413.62 454.32,414.23 C453.03,414.84 451.95,416.14 450.94,415.50  Z" fill="#1d6fd1"/>
<ellipse cx="477" cy="400.5" rx="8.5" ry="5.2" fill="#1b3fa6" opacity="0.6"/>
<ellipse cx="480.5" cy="391" rx="2.6" ry="3.2" fill="#1b3fa6" opacity="0.5"/>
<path d="M450.60,414.20 C449.77,413.70 449.07,412.27 448.60,410.60 C448.13,408.93 447.80,406.40 447.80,404.20 C447.80,402.00 448.27,399.63 448.60,397.40 C448.93,395.17 449.17,392.43 449.80,390.80 C450.43,389.17 451.30,388.50 452.40,387.60 C453.50,386.70 454.67,385.93 456.40,385.40 C458.13,384.87 460.70,384.20 462.80,384.40 C464.90,384.60 467.13,385.77 469.00,386.60 C470.87,387.43 472.83,388.57 474.00,389.40 C475.17,390.23 476.00,390.77 476.00,391.60 C476.00,392.43 475.07,393.67 474.00,394.40 C472.93,395.13 470.93,395.47 469.60,396.00 C468.27,396.53 466.83,396.83 466.00,397.60 C465.17,398.37 464.60,399.63 464.60,400.60 C464.60,401.57 465.43,402.53 466.00,403.40 C466.57,404.27 468.17,404.97 468.00,405.80 C467.83,406.63 466.17,407.70 465.00,408.40 C463.83,409.10 462.23,409.47 461.00,410.00 C459.77,410.53 458.83,411.00 457.60,411.60 C456.37,412.20 454.77,413.17 453.60,413.60 C452.43,414.03 451.43,414.70 450.60,414.20  Z" fill="#25a9dc"/>
<path d="M450.90,412.40 C450.23,412.00 449.75,410.97 449.40,409.60 C449.05,408.23 448.77,406.20 448.80,404.20 C448.83,402.20 449.27,399.70 449.60,397.60 C449.93,395.50 450.20,393.10 450.80,391.60 C451.40,390.10 452.20,389.43 453.20,388.60 C454.20,387.77 455.27,387.07 456.80,386.60 C458.33,386.13 460.80,385.50 462.40,385.80 C464.00,386.10 465.67,387.40 466.40,388.40 C467.13,389.40 467.13,390.73 466.80,391.80 C466.47,392.87 465.37,393.90 464.40,394.80 C463.43,395.70 461.67,396.23 461.00,397.20 C460.33,398.17 460.43,399.37 460.40,400.60 C460.37,401.83 460.97,403.37 460.80,404.60 C460.63,405.83 460.10,407.03 459.40,408.00 C458.70,408.97 457.60,409.73 456.60,410.40 C455.60,411.07 454.35,411.67 453.40,412.00 C452.45,412.33 451.57,412.80 450.90,412.40  Z" fill="#3fb848"/>
</g>
<g filter="url(#b1)">
<ellipse cx="453.90" cy="404.40" rx="4.60" ry="2.90" fill="#f4e52a" transform="rotate(-34 453.90 404.40)"/>
<ellipse cx="459.00" cy="391.30" rx="3.60" ry="2.30" fill="#f4e52a" transform="rotate(-24 459.00 391.30)"/>
<ellipse cx="453.80" cy="404.40" rx="3.50" ry="2.00" fill="#f7931e" transform="rotate(-34 453.80 404.40)"/>
<ellipse cx="459.20" cy="391.20" rx="1.80" ry="1.00" fill="#f7931e" transform="rotate(-24 459.20 391.20)"/>
<ellipse cx="453.80" cy="404.50" rx="2.40" ry="1.10" fill="#e7251d" transform="rotate(-34 453.80 404.50)"/>
</g>
<text x="463.00" y="350.80" font-size="9" text-anchor="middle" fill="#2b2b2b" stroke="#2b2b2b" stroke-width="0.22">LKS<tspan dy="-3.4" font-size="5.6">+</tspan><tspan dy="3.4" font-size="1">&#8203;</tspan> M+GM</text>
<text x="463.00" y="361.60" font-size="9" text-anchor="middle" fill="#2b2b2b" stroke="#2b2b2b" stroke-width="0.22">day 3</text>
<rect x="436.00" y="367.10" width="54.70" height="53.60" fill="none" stroke="#111" stroke-width="1"/>
<rect x="454.70" y="376.30" width="33.70" height="20.70" fill="none" stroke="#111" stroke-width="0.9"/>
<text x="439.40" y="376.80" font-size="6.8" fill="#2b2b2b" stroke="#2b2b2b" stroke-width="0.22">37%</text>
<line x1="432.70" y1="373.40" x2="436.00" y2="373.40" stroke="#1a1a1a" stroke-width="0.8"/>
<text x="428.80" y="376.00" font-size="6.6" text-anchor="end" fill="#2b2b2b" stroke="#2b2b2b" stroke-width="0.22">10<tspan dy="-2.8" font-size="4.092">5</tspan><tspan dy="2.8" font-size="1">&#8203;</tspan></text>
<line x1="432.70" y1="385.80" x2="436.00" y2="385.80" stroke="#1a1a1a" stroke-width="0.8"/>
<text x="428.80" y="388.40" font-size="6.6" text-anchor="end" fill="#2b2b2b" stroke="#2b2b2b" stroke-width="0.22">10<tspan dy="-2.8" font-size="4.092">4</tspan><tspan dy="2.8" font-size="1">&#8203;</tspan></text>
<line x1="432.70" y1="399.20" x2="436.00" y2="399.20" stroke="#1a1a1a" stroke-width="0.8"/>
<text x="428.80" y="401.80" font-size="6.6" text-anchor="end" fill="#2b2b2b" stroke="#2b2b2b" stroke-width="0.22">10<tspan dy="-2.8" font-size="4.092">3</tspan><tspan dy="2.8" font-size="1">&#8203;</tspan></text>
<line x1="432.70" y1="409.90" x2="436.00" y2="409.90" stroke="#1a1a1a" stroke-width="0.8"/>
<text x="428.80" y="412.30" font-size="6.6" text-anchor="end" fill="#2b2b2b" stroke="#2b2b2b" stroke-width="0.22">0</text>
<line x1="434.40" y1="382.07" x2="436.00" y2="382.07" stroke="#333" stroke-width="0.45"/>
<line x1="434.40" y1="379.88" x2="436.00" y2="379.88" stroke="#333" stroke-width="0.45"/>
<line x1="434.40" y1="378.33" x2="436.00" y2="378.33" stroke="#333" stroke-width="0.45"/>
<line x1="434.40" y1="377.13" x2="436.00" y2="377.13" stroke="#333" stroke-width="0.45"/>
<line x1="434.40" y1="376.15" x2="436.00" y2="376.15" stroke="#333" stroke-width="0.45"/>
<line x1="434.40" y1="375.32" x2="436.00" y2="375.32" stroke="#333" stroke-width="0.45"/>
<line x1="434.40" y1="374.60" x2="436.00" y2="374.60" stroke="#333" stroke-width="0.45"/>
<line x1="434.40" y1="373.97" x2="436.00" y2="373.97" stroke="#333" stroke-width="0.45"/>
<line x1="434.40" y1="395.17" x2="436.00" y2="395.17" stroke="#333" stroke-width="0.45"/>
<line x1="434.40" y1="392.81" x2="436.00" y2="392.81" stroke="#333" stroke-width="0.45"/>
<line x1="434.40" y1="391.13" x2="436.00" y2="391.13" stroke="#333" stroke-width="0.45"/>
<line x1="434.40" y1="389.83" x2="436.00" y2="389.83" stroke="#333" stroke-width="0.45"/>
<line x1="434.40" y1="388.77" x2="436.00" y2="388.77" stroke="#333" stroke-width="0.45"/>
<line x1="434.40" y1="387.88" x2="436.00" y2="387.88" stroke="#333" stroke-width="0.45"/>
<line x1="434.40" y1="387.10" x2="436.00" y2="387.10" stroke="#333" stroke-width="0.45"/>
<line x1="434.40" y1="386.41" x2="436.00" y2="386.41" stroke="#333" stroke-width="0.45"/>
<line x1="434.40" y1="403.39" x2="436.00" y2="403.39" stroke="#333" stroke-width="0.45"/>
<line x1="434.40" y1="402.34" x2="436.00" y2="402.34" stroke="#333" stroke-width="0.45"/>
<line x1="434.40" y1="401.59" x2="436.00" y2="401.59" stroke="#333" stroke-width="0.45"/>
<line x1="434.40" y1="401.01" x2="436.00" y2="401.01" stroke="#333" stroke-width="0.45"/>
<line x1="434.40" y1="400.53" x2="436.00" y2="400.53" stroke="#333" stroke-width="0.45"/>
<line x1="434.40" y1="400.13" x2="436.00" y2="400.13" stroke="#333" stroke-width="0.45"/>
<line x1="434.40" y1="399.78" x2="436.00" y2="399.78" stroke="#333" stroke-width="0.45"/>
<line x1="434.40" y1="399.47" x2="436.00" y2="399.47" stroke="#333" stroke-width="0.45"/>
<rect x="432.60" y="408.60" width="3.40" height="2.60" fill="#111" stroke="none" stroke-width="1"/>
<line x1="434.40" y1="413.40" x2="436.00" y2="413.40" stroke="#1a1a1a" stroke-width="0.45"/>
<line x1="434.40" y1="415.00" x2="436.00" y2="415.00" stroke="#1a1a1a" stroke-width="0.45"/>
<line x1="434.40" y1="416.40" x2="436.00" y2="416.40" stroke="#1a1a1a" stroke-width="0.45"/>
<line x1="434.40" y1="417.60" x2="436.00" y2="417.60" stroke="#1a1a1a" stroke-width="0.45"/>
<line x1="450.50" y1="420.70" x2="450.50" y2="423.10" stroke="#1a1a1a" stroke-width="0.8"/>
<line x1="457.30" y1="420.70" x2="457.30" y2="423.10" stroke="#1a1a1a" stroke-width="0.8"/>
<line x1="472.80" y1="420.70" x2="472.80" y2="423.10" stroke="#1a1a1a" stroke-width="0.8"/>
<line x1="484.70" y1="420.70" x2="484.70" y2="423.10" stroke="#1a1a1a" stroke-width="0.8"/>
<rect x="449.30" y="420.70" width="2.40" height="3.00" fill="#111" stroke="none" stroke-width="1"/>
<line x1="461.97" y1="420.70" x2="461.97" y2="422.20" stroke="#333" stroke-width="0.45"/>
<line x1="464.70" y1="420.70" x2="464.70" y2="422.20" stroke="#333" stroke-width="0.45"/>
<line x1="466.63" y1="420.70" x2="466.63" y2="422.20" stroke="#333" stroke-width="0.45"/>
<line x1="468.13" y1="420.70" x2="468.13" y2="422.20" stroke="#333" stroke-width="0.45"/>
<line x1="469.36" y1="420.70" x2="469.36" y2="422.20" stroke="#333" stroke-width="0.45"/>
<line x1="470.40" y1="420.70" x2="470.40" y2="422.20" stroke="#333" stroke-width="0.45"/>
<line x1="471.30" y1="420.70" x2="471.30" y2="422.20" stroke="#333" stroke-width="0.45"/>
<line x1="472.09" y1="420.70" x2="472.09" y2="422.20" stroke="#333" stroke-width="0.45"/>
<line x1="476.38" y1="420.70" x2="476.38" y2="422.20" stroke="#333" stroke-width="0.45"/>
<line x1="478.48" y1="420.70" x2="478.48" y2="422.20" stroke="#333" stroke-width="0.45"/>
<line x1="479.96" y1="420.70" x2="479.96" y2="422.20" stroke="#333" stroke-width="0.45"/>
<line x1="481.12" y1="420.70" x2="481.12" y2="422.20" stroke="#333" stroke-width="0.45"/>
<line x1="482.06" y1="420.70" x2="482.06" y2="422.20" stroke="#333" stroke-width="0.45"/>
<line x1="482.86" y1="420.70" x2="482.86" y2="422.20" stroke="#333" stroke-width="0.45"/>
<line x1="483.55" y1="420.70" x2="483.55" y2="422.20" stroke="#333" stroke-width="0.45"/>
<line x1="484.16" y1="420.70" x2="484.16" y2="422.20" stroke="#333" stroke-width="0.45"/>
<line x1="446.90" y1="420.70" x2="446.90" y2="422.20" stroke="#1a1a1a" stroke-width="0.45"/>
<line x1="445.50" y1="420.70" x2="445.50" y2="422.20" stroke="#1a1a1a" stroke-width="0.45"/>
<line x1="444.30" y1="420.70" x2="444.30" y2="422.20" stroke="#1a1a1a" stroke-width="0.45"/>
<line x1="443.30" y1="420.70" x2="443.30" y2="422.20" stroke="#1a1a1a" stroke-width="0.45"/>
<text x="449.30" y="433.20" font-size="6.6" text-anchor="middle" fill="#2b2b2b" stroke="#2b2b2b" stroke-width="0.22">0</text>
<text x="458.10" y="433.40" font-size="6.6" text-anchor="middle" fill="#2b2b2b" stroke="#2b2b2b" stroke-width="0.22">10<tspan dy="-2.7" font-size="4.2">3</tspan><tspan dy="2.7" font-size="1">&#8203;</tspan></text>
<text x="473.60" y="433.40" font-size="6.6" text-anchor="middle" fill="#2b2b2b" stroke="#2b2b2b" stroke-width="0.22">10<tspan dy="-2.7" font-size="4.2">4</tspan><tspan dy="2.7" font-size="1">&#8203;</tspan></text>
<text x="485.50" y="433.40" font-size="6.6" text-anchor="middle" fill="#2b2b2b" stroke="#2b2b2b" stroke-width="0.22">10<tspan dy="-2.7" font-size="4.2">5</tspan><tspan dy="2.7" font-size="1">&#8203;</tspan></text>
<line x1="235.90" y1="420.30" x2="235.90" y2="408.30" stroke="#333" stroke-width="1.1"/>
<line x1="235.90" y1="380.60" x2="235.90" y2="374.00" stroke="#333" stroke-width="1.1"/>
<path d="M235.9,369.2 L233.4,374.8 L238.4,374.8 Z" fill="#222"/>
<text x="0" y="0" font-size="8.7" text-anchor="middle" fill="#2b2b2b" stroke="#2b2b2b" stroke-width="0.22" transform="translate(238.20 394.30) rotate(-90)" textLength="23.0" lengthAdjust="spacingAndGlyphs">CD116</text>
<line x1="261.00" y1="444.90" x2="363.00" y2="444.90" stroke="#333" stroke-width="1.1"/>
<line x1="387.40" y1="444.90" x2="488.00" y2="444.90" stroke="#333" stroke-width="1.1"/>
<path d="M492.6,444.9 L487.0,442.5 L487.0,447.3 Z" fill="#222"/>
<text x="375.60" y="447.80" font-size="8.6" text-anchor="middle" fill="#2b2b2b" stroke="#2b2b2b" stroke-width="0.22" textLength="15.1" lengthAdjust="spacingAndGlyphs">Fc&#947;R</text>
<text x="7.90" y="473.80" font-size="12.1" font-weight="bold" fill="#111">F</text>
<text x="33.60" y="475.00" font-size="8.8" fill="#2b2b2b" stroke="#2b2b2b" stroke-width="0.22" textLength="131.2" lengthAdjust="spacingAndGlyphs">day 3 LKS<tspan dy="-3.2" font-size="5.6">+</tspan><tspan dy="3.2" font-size="1">&#8203;</tspan> -derived Fc&#947;R<tspan dy="-3.2" font-size="5.6">+</tspan><tspan dy="3.2" font-size="1">&#8203;</tspan> cells</text>
<rect x="46.60" y="488.80" width="49.00" height="8.70" fill="#a9d2f1" stroke="none" stroke-width="1"/>
<rect x="46.60" y="498.90" width="23.90" height="8.70" fill="#e07f70" stroke="none" stroke-width="1"/>
<line x1="95.60" y1="493.10" x2="97.60" y2="493.10" stroke="#1a1a1a" stroke-width="0.9"/>
<line x1="97.60" y1="491.00" x2="97.60" y2="495.20" stroke="#1a1a1a" stroke-width="1"/>
<line x1="70.50" y1="503.30" x2="72.40" y2="503.30" stroke="#1a1a1a" stroke-width="0.9"/>
<line x1="72.40" y1="501.30" x2="72.40" y2="505.30" stroke="#1a1a1a" stroke-width="1"/>
<text x="75.40" y="505.80" font-size="6" font-weight="bold" text-anchor="middle" fill="#222">*</text>
<text x="78.40" y="505.80" font-size="6" font-weight="bold" text-anchor="middle" fill="#222">*</text>
<text x="81.40" y="505.80" font-size="6" font-weight="bold" text-anchor="middle" fill="#222">*</text>
<line x1="46.60" y1="481.60" x2="46.60" y2="514.50" stroke="#1a1a1a" stroke-width="1.3"/>
<line x1="46.00" y1="513.90" x2="112.90" y2="513.90" stroke="#1a1a1a" stroke-width="1.3"/>
<line x1="46.60" y1="513.90" x2="46.60" y2="516.80" stroke="#1a1a1a" stroke-width="1"/>
<text x="0" y="0" font-size="7" text-anchor="middle" fill="#2b2b2b" stroke="#2b2b2b" stroke-width="0.22" transform="translate(46.60 525.40) scale(0.96 1)">0</text>
<line x1="59.30" y1="513.90" x2="59.30" y2="516.80" stroke="#1a1a1a" stroke-width="1"/>
<text x="0" y="0" font-size="7" text-anchor="middle" fill="#2b2b2b" stroke="#2b2b2b" stroke-width="0.22" transform="translate(59.30 525.40) scale(0.96 1)">2</text>
<line x1="72.00" y1="513.90" x2="72.00" y2="516.80" stroke="#1a1a1a" stroke-width="1"/>
<text x="0" y="0" font-size="7" text-anchor="middle" fill="#2b2b2b" stroke="#2b2b2b" stroke-width="0.22" transform="translate(72.00 525.40) scale(0.96 1)">4</text>
<line x1="84.70" y1="513.90" x2="84.70" y2="516.80" stroke="#1a1a1a" stroke-width="1"/>
<text x="0" y="0" font-size="7" text-anchor="middle" fill="#2b2b2b" stroke="#2b2b2b" stroke-width="0.22" transform="translate(84.70 525.40) scale(0.96 1)">6</text>
<line x1="97.40" y1="513.90" x2="97.40" y2="516.80" stroke="#1a1a1a" stroke-width="1"/>
<text x="0" y="0" font-size="7" text-anchor="middle" fill="#2b2b2b" stroke="#2b2b2b" stroke-width="0.22" transform="translate(97.40 525.40) scale(0.96 1)">8</text>
<line x1="110.10" y1="513.90" x2="110.10" y2="516.80" stroke="#1a1a1a" stroke-width="1"/>
<text x="0" y="0" font-size="7" text-anchor="middle" fill="#2b2b2b" stroke="#2b2b2b" stroke-width="0.22" transform="translate(110.10 525.40) scale(0.96 1)">10</text>
<text x="0" y="0" font-size="8.8" text-anchor="middle" fill="#2b2b2b" stroke="#2b2b2b" stroke-width="0.22" transform="translate(40.60 498.00) rotate(-90)" textLength="23" lengthAdjust="spacingAndGlyphs">CD116</text>
<text x="79.30" y="539.80" font-size="8.8" text-anchor="middle" fill="#2b2b2b" stroke="#2b2b2b" stroke-width="0.22" textLength="30.8" lengthAdjust="spacingAndGlyphs">MFI &#215; 10<tspan dy="-3" font-size="5.8">3</tspan><tspan dy="3" font-size="1">&#8203;</tspan></text>
<rect x="127.30" y="488.80" width="6.50" height="6.30" fill="#a9d2f1" stroke="none" stroke-width="1"/>
<text x="137.40" y="494.60" font-size="6.9" fill="#2b2b2b" stroke="#2b2b2b" stroke-width="0.22" textLength="5.2" lengthAdjust="spacingAndGlyphs">M</text>
<rect x="127.30" y="498.90" width="6.50" height="6.30" fill="#e07f70" stroke="none" stroke-width="1"/>
<text x="137.40" y="504.70" font-size="6.9" fill="#2b2b2b" stroke="#2b2b2b" stroke-width="0.22" textLength="22.5" lengthAdjust="spacingAndGlyphs">M+GM</text>
<text x="5.70" y="569.00" font-size="12.1" font-weight="bold" fill="#111">G</text>
<rect x="47.80" y="576.40" width="22.20" height="142.90" fill="#c9c9c9" stroke="none" stroke-width="1"/>
<path d="M48.30,612.20 C50.02,612.17 56.65,612.20 58.60,612.00 C60.55,611.55 59.57,611.50 60.00,609.50 C60.43,607.50 60.83,603.58 61.20,600.00 C61.57,596.42 61.90,590.97 62.20,588.00 C62.50,585.03 62.72,582.20 63.00,582.20 C63.28,582.20 63.57,585.37 63.90,588.00 C64.23,590.63 64.55,595.33 65.00,598.00 C65.45,600.67 66.03,602.57 66.60,604.00 C67.17,605.43 67.87,606.03 68.40,606.60 C68.93,607.17 69.12,607.40 69.80,607.40 C70.48,607.40 71.55,606.90 72.50,606.60 C73.45,606.30 74.50,605.90 75.50,605.60 C76.50,605.30 77.62,605.03 78.50,604.80 C79.38,604.57 80.08,604.33 80.80,604.20 C81.52,604.07 82.10,603.90 82.80,604.00 C83.50,604.10 84.22,604.37 85.00,604.80 C85.78,605.23 86.67,605.90 87.50,606.60 C88.33,607.30 89.17,608.27 90.00,609.00 C90.83,609.73 91.67,610.50 92.50,611.00 C93.33,611.50 92.25,611.80 95.00,612.00 C97.75,612.20 106.67,612.17 109.00,612.20  L109.00,612.20 L48.30,612.20 Z" fill="#a9daf0"/>
<path d="M48.30,612.20 C50.02,612.17 56.65,612.20 58.60,612.00 C60.55,611.55 59.57,611.50 60.00,609.50 C60.43,607.50 60.83,603.58 61.20,600.00 C61.57,596.42 61.90,590.97 62.20,588.00 C62.50,585.03 62.72,582.20 63.00,582.20 C63.28,582.20 63.57,585.37 63.90,588.00 C64.23,590.63 64.55,595.33 65.00,598.00 C65.45,600.67 66.03,602.57 66.60,604.00 C67.17,605.43 67.87,606.03 68.40,606.60 C68.93,607.17 69.12,607.40 69.80,607.40 C70.48,607.40 71.55,606.90 72.50,606.60 C73.45,606.30 74.50,605.90 75.50,605.60 C76.50,605.30 77.62,605.03 78.50,604.80 C79.38,604.57 80.08,604.33 80.80,604.20 C81.52,604.07 82.10,603.90 82.80,604.00 C83.50,604.10 84.22,604.37 85.00,604.80 C85.78,605.23 86.67,605.90 87.50,606.60 C88.33,607.30 89.17,608.27 90.00,609.00 C90.83,609.73 91.67,610.50 92.50,611.00 C93.33,611.50 92.25,611.80 95.00,612.00 C97.75,612.20 106.67,612.17 109.00,612.20 " fill="none" stroke="#3fa4d4" stroke-width="1.3" stroke-linejoin="round"/>
<path d="M48.30,647.40 C49.82,647.37 55.62,647.40 57.40,647.20 C59.18,646.72 58.53,646.37 59.00,644.50 C59.47,642.63 59.83,638.92 60.20,636.00 C60.57,633.08 60.93,628.97 61.20,627.00 C61.47,625.03 61.57,624.20 61.80,624.20 C62.03,624.20 62.27,625.20 62.60,627.00 C62.93,628.80 63.33,632.75 63.80,635.00 C64.27,637.25 64.77,639.20 65.40,640.50 C66.03,641.80 66.77,642.32 67.60,642.80 C68.43,643.28 69.42,643.33 70.40,643.40 C71.38,643.47 72.48,643.50 73.50,643.20 C74.52,642.90 75.50,642.53 76.50,641.60 C77.50,640.67 78.50,639.33 79.50,637.60 C80.50,635.87 81.58,633.37 82.50,631.20 C83.42,629.03 84.32,626.23 85.00,624.60 C85.68,622.97 86.17,621.87 86.60,621.40 C87.03,620.93 87.20,622.33 87.60,621.80 C88.00,621.27 88.53,618.43 89.00,618.20 C89.47,617.97 89.90,619.17 90.40,620.40 C90.90,621.63 91.40,623.50 92.00,625.60 C92.60,627.70 93.33,630.53 94.00,633.00 C94.67,635.47 95.33,638.33 96.00,640.40 C96.67,642.47 97.30,644.27 98.00,645.40 C98.70,646.53 98.37,646.87 100.20,647.20 C102.03,647.40 107.53,647.37 109.00,647.40  L109.00,647.40 L48.30,647.40 Z" fill="#cbc7ea"/>
<path d="M48.30,647.40 C49.82,647.37 55.62,647.40 57.40,647.20 C59.18,646.72 58.53,646.37 59.00,644.50 C59.47,642.63 59.83,638.92 60.20,636.00 C60.57,633.08 60.93,628.97 61.20,627.00 C61.47,625.03 61.57,624.20 61.80,624.20 C62.03,624.20 62.27,625.20 62.60,627.00 C62.93,628.80 63.33,632.75 63.80,635.00 C64.27,637.25 64.77,639.20 65.40,640.50 C66.03,641.80 66.77,642.32 67.60,642.80 C68.43,643.28 69.42,643.33 70.40,643.40 C71.38,643.47 72.48,643.50 73.50,643.20 C74.52,642.90 75.50,642.53 76.50,641.60 C77.50,640.67 78.50,639.33 79.50,637.60 C80.50,635.87 81.58,633.37 82.50,631.20 C83.42,629.03 84.32,626.23 85.00,624.60 C85.68,622.97 86.17,621.87 86.60,621.40 C87.03,620.93 87.20,622.33 87.60,621.80 C88.00,621.27 88.53,618.43 89.00,618.20 C89.47,617.97 89.90,619.17 90.40,620.40 C90.90,621.63 91.40,623.50 92.00,625.60 C92.60,627.70 93.33,630.53 94.00,633.00 C94.67,635.47 95.33,638.33 96.00,640.40 C96.67,642.47 97.30,644.27 98.00,645.40 C98.70,646.53 98.37,646.87 100.20,647.20 C102.03,647.40 107.53,647.37 109.00,647.40 " fill="none" stroke="#8f89c8" stroke-width="1.3" stroke-linejoin="round"/>
<path d="M48.30,683.20 C49.88,683.17 55.98,683.20 57.80,683.00 C59.62,682.47 58.80,682.00 59.20,680.00 C59.60,678.00 59.90,674.33 60.20,671.00 C60.50,667.67 60.73,662.67 61.00,660.00 C61.27,657.33 61.53,655.33 61.80,655.00 C62.07,654.67 62.30,656.33 62.60,658.00 C62.90,659.67 63.20,662.93 63.60,665.00 C64.00,667.07 64.50,669.03 65.00,670.40 C65.50,671.77 66.00,672.50 66.60,673.20 C67.20,673.90 67.78,674.13 68.60,674.60 C69.42,675.07 70.43,675.53 71.50,676.00 C72.57,676.47 73.75,676.93 75.00,677.40 C76.25,677.87 77.67,678.33 79.00,678.80 C80.33,679.27 81.83,679.73 83.00,680.20 C84.17,680.67 85.00,681.20 86.00,681.60 C87.00,682.00 88.00,682.37 89.00,682.60 C90.00,682.83 88.67,682.90 92.00,683.00 C95.33,683.10 106.17,683.17 109.00,683.20  L109.00,683.20 L48.30,683.20 Z" fill="#f08a7a"/>
<path d="M48.30,683.20 C49.88,683.17 55.98,683.20 57.80,683.00 C59.62,682.47 58.80,682.00 59.20,680.00 C59.60,678.00 59.90,674.33 60.20,671.00 C60.50,667.67 60.73,662.67 61.00,660.00 C61.27,657.33 61.53,655.33 61.80,655.00 C62.07,654.67 62.30,656.33 62.60,658.00 C62.90,659.67 63.20,662.93 63.60,665.00 C64.00,667.07 64.50,669.03 65.00,670.40 C65.50,671.77 66.00,672.50 66.60,673.20 C67.20,673.90 67.78,674.13 68.60,674.60 C69.42,675.07 70.43,675.53 71.50,676.00 C72.57,676.47 73.75,676.93 75.00,677.40 C76.25,677.87 77.67,678.33 79.00,678.80 C80.33,679.27 81.83,679.73 83.00,680.20 C84.17,680.67 85.00,681.20 86.00,681.60 C87.00,682.00 88.00,682.37 89.00,682.60 C90.00,682.83 88.67,682.90 92.00,683.00 C95.33,683.10 106.17,683.17 109.00,683.20 " fill="none" stroke="#c9141e" stroke-width="1.3" stroke-linejoin="round"/>
<path d="M48.30,719.40 C49.98,719.37 56.48,719.40 58.40,719.20 C60.32,718.55 59.37,717.70 59.80,715.50 C60.23,713.30 60.63,709.25 61.00,706.00 C61.37,702.75 61.68,698.40 62.00,696.00 C62.32,693.60 62.60,691.85 62.90,691.60 C63.20,691.35 63.45,692.93 63.80,694.50 C64.15,696.07 64.53,699.08 65.00,701.00 C65.47,702.92 66.03,704.63 66.60,706.00 C67.17,707.37 67.73,708.40 68.40,709.20 C69.07,710.00 69.83,710.70 70.60,710.80 C71.37,710.90 72.18,710.07 73.00,709.80 C73.82,709.53 74.67,709.47 75.50,709.20 C76.33,708.93 77.17,708.53 78.00,708.20 C78.83,707.87 79.73,707.50 80.50,707.20 C81.27,706.90 81.92,706.37 82.60,706.40 C83.28,706.43 83.93,707.03 84.60,707.40 C85.27,707.77 85.93,707.93 86.60,708.60 C87.27,709.27 87.87,710.40 88.60,711.40 C89.33,712.40 90.20,713.60 91.00,714.60 C91.80,715.60 92.57,716.63 93.40,717.40 C94.23,718.17 93.40,718.87 96.00,719.20 C98.60,719.40 106.83,719.37 109.00,719.40  L109.00,719.40 L48.30,719.40 Z" fill="#9a78b4"/>
<path d="M48.30,719.40 C49.98,719.37 56.48,719.40 58.40,719.20 C60.32,718.55 59.37,717.70 59.80,715.50 C60.23,713.30 60.63,709.25 61.00,706.00 C61.37,702.75 61.68,698.40 62.00,696.00 C62.32,693.60 62.60,691.85 62.90,691.60 C63.20,691.35 63.45,692.93 63.80,694.50 C64.15,696.07 64.53,699.08 65.00,701.00 C65.47,702.92 66.03,704.63 66.60,706.00 C67.17,707.37 67.73,708.40 68.40,709.20 C69.07,710.00 69.83,710.70 70.60,710.80 C71.37,710.90 72.18,710.07 73.00,709.80 C73.82,709.53 74.67,709.47 75.50,709.20 C76.33,708.93 77.17,708.53 78.00,708.20 C78.83,707.87 79.73,707.50 80.50,707.20 C81.27,706.90 81.92,706.37 82.60,706.40 C83.28,706.43 83.93,707.03 84.60,707.40 C85.27,707.77 85.93,707.93 86.60,708.60 C87.27,709.27 87.87,710.40 88.60,711.40 C89.33,712.40 90.20,713.60 91.00,714.60 C91.80,715.60 92.57,716.63 93.40,717.40 C94.23,718.17 93.40,718.87 96.00,719.20 C98.60,719.40 106.83,719.37 109.00,719.40 " fill="none" stroke="#4a1a66" stroke-width="1.3" stroke-linejoin="round"/>
<line x1="70.00" y1="576.40" x2="70.00" y2="719.30" stroke="#333" stroke-width="0.9" stroke-dasharray="1.4 1.3"/>
<rect x="47.80" y="576.40" width="61.70" height="142.90" fill="none" stroke="#111" stroke-width="1.2"/>
<text x="0" y="0" font-size="7" text-anchor="end" fill="#2b2b2b" stroke="#2b2b2b" stroke-width="0.22" transform="translate(107.10 584.80) scale(0.97 1)">1871</text>
<text x="0" y="0" font-size="7" text-anchor="end" fill="#2b2b2b" stroke="#2b2b2b" stroke-width="0.22" transform="translate(107.10 593.10) scale(0.97 1)">50%</text>
<text x="0" y="0" font-size="7" text-anchor="end" fill="#2b2b2b" stroke="#2b2b2b" stroke-width="0.22" transform="translate(107.10 620.20) scale(0.97 1)">7887</text>
<text x="0" y="0" font-size="7" text-anchor="end" fill="#2b2b2b" stroke="#2b2b2b" stroke-width="0.22" transform="translate(107.10 628.50) scale(0.97 1)">79%</text>
<text x="0" y="0" font-size="7" text-anchor="end" fill="#2b2b2b" stroke="#2b2b2b" stroke-width="0.22" transform="translate(107.10 655.80) scale(0.97 1)">771</text>
<text x="0" y="0" font-size="7" text-anchor="end" fill="#2b2b2b" stroke="#2b2b2b" stroke-width="0.22" transform="translate(107.10 664.10) scale(0.97 1)">39%</text>
<text x="0" y="0" font-size="7" text-anchor="end" fill="#2b2b2b" stroke="#2b2b2b" stroke-width="0.22" transform="translate(107.10 691.40) scale(0.97 1)">2244</text>
<text x="0" y="0" font-size="7" text-anchor="end" fill="#2b2b2b" stroke="#2b2b2b" stroke-width="0.22" transform="translate(107.10 699.70) scale(0.97 1)">59%</text>
<line x1="59.60" y1="719.30" x2="59.60" y2="721.90" stroke="#1a1a1a" stroke-width="0.8"/>
<line x1="67.40" y1="719.30" x2="67.40" y2="721.90" stroke="#1a1a1a" stroke-width="0.8"/>
<line x1="84.60" y1="719.30" x2="84.60" y2="721.90" stroke="#1a1a1a" stroke-width="0.8"/>
<line x1="100.50" y1="719.30" x2="100.50" y2="721.90" stroke="#1a1a1a" stroke-width="0.8"/>
<rect x="58.40" y="719.30" width="2.40" height="3.20" fill="#111" stroke="none" stroke-width="1"/>
<line x1="72.58" y1="719.30" x2="72.58" y2="720.90" stroke="#333" stroke-width="0.45"/>
<line x1="75.61" y1="719.30" x2="75.61" y2="720.90" stroke="#333" stroke-width="0.45"/>
<line x1="77.76" y1="719.30" x2="77.76" y2="720.90" stroke="#333" stroke-width="0.45"/>
<line x1="79.42" y1="719.30" x2="79.42" y2="720.90" stroke="#333" stroke-width="0.45"/>
<line x1="80.78" y1="719.30" x2="80.78" y2="720.90" stroke="#333" stroke-width="0.45"/>
<line x1="81.94" y1="719.30" x2="81.94" y2="720.90" stroke="#333" stroke-width="0.45"/>
<line x1="82.93" y1="719.30" x2="82.93" y2="720.90" stroke="#333" stroke-width="0.45"/>
<line x1="83.81" y1="719.30" x2="83.81" y2="720.90" stroke="#333" stroke-width="0.45"/>
<line x1="89.39" y1="719.30" x2="89.39" y2="720.90" stroke="#333" stroke-width="0.45"/>
<line x1="92.19" y1="719.30" x2="92.19" y2="720.90" stroke="#333" stroke-width="0.45"/>
<line x1="94.17" y1="719.30" x2="94.17" y2="720.90" stroke="#333" stroke-width="0.45"/>
<line x1="95.71" y1="719.30" x2="95.71" y2="720.90" stroke="#333" stroke-width="0.45"/>
<line x1="96.97" y1="719.30" x2="96.97" y2="720.90" stroke="#333" stroke-width="0.45"/>
<line x1="98.04" y1="719.30" x2="98.04" y2="720.90" stroke="#333" stroke-width="0.45"/>
<line x1="98.96" y1="719.30" x2="98.96" y2="720.90" stroke="#333" stroke-width="0.45"/>
<line x1="99.77" y1="719.30" x2="99.77" y2="720.90" stroke="#333" stroke-width="0.45"/>
<line x1="55.60" y1="719.30" x2="55.60" y2="720.90" stroke="#1a1a1a" stroke-width="0.45"/>
<line x1="54.00" y1="719.30" x2="54.00" y2="720.90" stroke="#1a1a1a" stroke-width="0.45"/>
<line x1="52.60" y1="719.30" x2="52.60" y2="720.90" stroke="#1a1a1a" stroke-width="0.45"/>
<line x1="51.40" y1="719.30" x2="51.40" y2="720.90" stroke="#1a1a1a" stroke-width="0.45"/>
<line x1="50.40" y1="719.30" x2="50.40" y2="720.90" stroke="#1a1a1a" stroke-width="0.45"/>
<line x1="102.70" y1="719.30" x2="102.70" y2="720.90" stroke="#1a1a1a" stroke-width="0.45"/>
<line x1="104.30" y1="719.30" x2="104.30" y2="720.90" stroke="#1a1a1a" stroke-width="0.45"/>
<line x1="105.50" y1="719.30" x2="105.50" y2="720.90" stroke="#1a1a1a" stroke-width="0.45"/>
<text x="59.60" y="731.60" font-size="6.7" text-anchor="middle" fill="#2b2b2b" stroke="#2b2b2b" stroke-width="0.22">0</text>
<text x="67.60" y="731.80" font-size="6.7" text-anchor="middle" fill="#2b2b2b" stroke="#2b2b2b" stroke-width="0.22">10<tspan dy="-2.8" font-size="4.3">3</tspan><tspan dy="2.8" font-size="1">&#8203;</tspan></text>
<text x="84.80" y="731.80" font-size="6.7" text-anchor="middle" fill="#2b2b2b" stroke="#2b2b2b" stroke-width="0.22">10<tspan dy="-2.8" font-size="4.3">4</tspan><tspan dy="2.8" font-size="1">&#8203;</tspan></text>
<text x="100.70" y="731.80" font-size="6.7" text-anchor="middle" fill="#2b2b2b" stroke="#2b2b2b" stroke-width="0.22">10<tspan dy="-2.8" font-size="4.3">5</tspan><tspan dy="2.8" font-size="1">&#8203;</tspan></text>
<rect x="114.20" y="576.40" width="26.60" height="142.90" fill="#c9c9c9" stroke="none" stroke-width="1"/>
<path d="M114.70,612.20 C116.83,612.13 125.02,612.10 127.50,611.80 C129.98,611.50 128.93,611.07 129.60,610.40 C130.27,609.73 130.93,608.93 131.50,607.80 C132.07,606.67 132.55,605.10 133.00,603.60 C133.45,602.10 133.80,600.90 134.20,598.80 C134.60,596.70 135.00,593.53 135.40,591.00 C135.80,588.47 136.23,585.38 136.60,583.60 C136.97,581.82 137.27,580.33 137.60,580.30 C137.93,580.27 138.27,581.88 138.60,583.40 C138.93,584.92 139.30,587.73 139.60,589.40 C139.90,591.07 140.03,592.33 140.40,593.40 C140.77,594.47 141.27,595.13 141.80,595.80 C142.33,596.47 142.97,596.90 143.60,597.40 C144.23,597.90 144.97,598.23 145.60,598.80 C146.23,599.37 146.83,600.13 147.40,600.80 C147.97,601.47 148.47,602.40 149.00,602.80 C149.53,603.20 150.03,602.77 150.60,603.20 C151.17,603.63 151.80,604.73 152.40,605.40 C153.00,606.07 153.63,606.70 154.20,607.20 C154.77,607.70 155.17,607.87 155.80,608.40 C156.43,608.93 157.22,609.83 158.00,610.40 C158.78,610.97 157.63,611.50 160.50,611.80 C163.37,612.10 172.75,612.13 175.20,612.20  L175.20,612.20 L114.70,612.20 Z" fill="#a9daf0"/>
<path d="M114.70,612.20 C116.83,612.13 125.02,612.10 127.50,611.80 C129.98,611.50 128.93,611.07 129.60,610.40 C130.27,609.73 130.93,608.93 131.50,607.80 C132.07,606.67 132.55,605.10 133.00,603.60 C133.45,602.10 133.80,600.90 134.20,598.80 C134.60,596.70 135.00,593.53 135.40,591.00 C135.80,588.47 136.23,585.38 136.60,583.60 C136.97,581.82 137.27,580.33 137.60,580.30 C137.93,580.27 138.27,581.88 138.60,583.40 C138.93,584.92 139.30,587.73 139.60,589.40 C139.90,591.07 140.03,592.33 140.40,593.40 C140.77,594.47 141.27,595.13 141.80,595.80 C142.33,596.47 142.97,596.90 143.60,597.40 C144.23,597.90 144.97,598.23 145.60,598.80 C146.23,599.37 146.83,600.13 147.40,600.80 C147.97,601.47 148.47,602.40 149.00,602.80 C149.53,603.20 150.03,602.77 150.60,603.20 C151.17,603.63 151.80,604.73 152.40,605.40 C153.00,606.07 153.63,606.70 154.20,607.20 C154.77,607.70 155.17,607.87 155.80,608.40 C156.43,608.93 157.22,609.83 158.00,610.40 C158.78,610.97 157.63,611.50 160.50,611.80 C163.37,612.10 172.75,612.13 175.20,612.20 " fill="none" stroke="#3fa4d4" stroke-width="1.3" stroke-linejoin="round"/>
<path d="M114.70,647.40 C116.62,647.33 123.95,647.40 126.20,647.00 C128.45,646.53 127.53,645.87 128.20,644.60 C128.87,643.33 129.63,641.07 130.20,639.40 C130.77,637.73 131.15,636.20 131.60,634.60 C132.05,633.00 132.43,631.53 132.90,629.80 C133.37,628.07 133.95,625.57 134.40,624.20 C134.85,622.83 135.27,622.13 135.60,621.60 C135.93,621.07 136.10,620.87 136.40,621.00 C136.70,621.13 137.10,622.27 137.40,622.40 C137.70,622.53 137.87,621.30 138.20,621.80 C138.53,622.30 139.00,624.13 139.40,625.40 C139.80,626.67 140.23,628.53 140.60,629.40 C140.97,630.27 141.20,630.77 141.60,630.60 C142.00,630.43 142.43,629.27 143.00,628.40 C143.57,627.53 144.27,626.40 145.00,625.40 C145.73,624.40 146.63,623.17 147.40,622.40 C148.17,621.63 149.00,621.13 149.60,620.80 C150.20,620.47 150.63,620.73 151.00,620.40 C151.37,620.07 151.50,618.73 151.80,618.80 C152.10,618.87 152.33,619.77 152.80,620.80 C153.27,621.83 154.00,623.50 154.60,625.00 C155.20,626.50 155.77,628.10 156.40,629.80 C157.03,631.50 157.72,633.40 158.40,635.20 C159.08,637.00 159.87,638.97 160.50,640.60 C161.13,642.23 161.65,643.93 162.20,645.00 C162.75,646.07 161.63,646.60 163.80,647.00 C165.97,647.40 173.30,647.33 175.20,647.40  L175.20,647.40 L114.70,647.40 Z" fill="#cbc7ea"/>
<path d="M114.70,647.40 C116.62,647.33 123.95,647.40 126.20,647.00 C128.45,646.53 127.53,645.87 128.20,644.60 C128.87,643.33 129.63,641.07 130.20,639.40 C130.77,637.73 131.15,636.20 131.60,634.60 C132.05,633.00 132.43,631.53 132.90,629.80 C133.37,628.07 133.95,625.57 134.40,624.20 C134.85,622.83 135.27,622.13 135.60,621.60 C135.93,621.07 136.10,620.87 136.40,621.00 C136.70,621.13 137.10,622.27 137.40,622.40 C137.70,622.53 137.87,621.30 138.20,621.80 C138.53,622.30 139.00,624.13 139.40,625.40 C139.80,626.67 140.23,628.53 140.60,629.40 C140.97,630.27 141.20,630.77 141.60,630.60 C142.00,630.43 142.43,629.27 143.00,628.40 C143.57,627.53 144.27,626.40 145.00,625.40 C145.73,624.40 146.63,623.17 147.40,622.40 C148.17,621.63 149.00,621.13 149.60,620.80 C150.20,620.47 150.63,620.73 151.00,620.40 C151.37,620.07 151.50,618.73 151.80,618.80 C152.10,618.87 152.33,619.77 152.80,620.80 C153.27,621.83 154.00,623.50 154.60,625.00 C155.20,626.50 155.77,628.10 156.40,629.80 C157.03,631.50 157.72,633.40 158.40,635.20 C159.08,637.00 159.87,638.97 160.50,640.60 C161.13,642.23 161.65,643.93 162.20,645.00 C162.75,646.07 161.63,646.60 163.80,647.00 C165.97,647.40 173.30,647.33 175.20,647.40 " fill="none" stroke="#8f89c8" stroke-width="1.3" stroke-linejoin="round"/>
<path d="M114.70,683.20 C116.45,683.13 123.12,683.10 125.20,682.80 C127.28,682.50 126.57,682.27 127.20,681.40 C127.83,680.53 128.47,679.27 129.00,677.60 C129.53,675.93 129.97,673.73 130.40,671.40 C130.83,669.07 131.20,666.07 131.60,663.60 C132.00,661.13 132.47,658.20 132.80,656.60 C133.13,655.00 133.33,654.17 133.60,654.00 C133.87,653.83 134.07,654.27 134.40,655.60 C134.73,656.93 135.17,659.60 135.60,662.00 C136.03,664.40 136.50,667.77 137.00,670.00 C137.50,672.23 138.00,674.03 138.60,675.40 C139.20,676.77 139.87,677.47 140.60,678.20 C141.33,678.93 142.10,679.30 143.00,679.80 C143.90,680.30 145.00,680.80 146.00,681.20 C147.00,681.60 148.00,681.93 149.00,682.20 C150.00,682.47 147.63,682.63 152.00,682.80 C156.37,682.97 171.33,683.13 175.20,683.20  L175.20,683.20 L114.70,683.20 Z" fill="#f08a7a"/>
<path d="M114.70,683.20 C116.45,683.13 123.12,683.10 125.20,682.80 C127.28,682.50 126.57,682.27 127.20,681.40 C127.83,680.53 128.47,679.27 129.00,677.60 C129.53,675.93 129.97,673.73 130.40,671.40 C130.83,669.07 131.20,666.07 131.60,663.60 C132.00,661.13 132.47,658.20 132.80,656.60 C133.13,655.00 133.33,654.17 133.60,654.00 C133.87,653.83 134.07,654.27 134.40,655.60 C134.73,656.93 135.17,659.60 135.60,662.00 C136.03,664.40 136.50,667.77 137.00,670.00 C137.50,672.23 138.00,674.03 138.60,675.40 C139.20,676.77 139.87,677.47 140.60,678.20 C141.33,678.93 142.10,679.30 143.00,679.80 C143.90,680.30 145.00,680.80 146.00,681.20 C147.00,681.60 148.00,681.93 149.00,682.20 C150.00,682.47 147.63,682.63 152.00,682.80 C156.37,682.97 171.33,683.13 175.20,683.20 " fill="none" stroke="#c9141e" stroke-width="1.3" stroke-linejoin="round"/>
<path d="M114.70,719.40 C117.35,719.33 127.62,719.37 130.60,719.00 C133.58,718.63 132.00,718.27 132.60,717.20 C133.20,716.13 133.73,714.50 134.20,712.60 C134.67,710.70 135.00,708.57 135.40,705.80 C135.80,703.03 136.23,698.70 136.60,696.00 C136.97,693.30 137.33,690.90 137.60,689.60 C137.87,688.30 137.97,688.03 138.20,688.20 C138.43,688.37 138.67,689.13 139.00,690.60 C139.33,692.07 139.77,695.00 140.20,697.00 C140.63,699.00 141.10,701.10 141.60,702.60 C142.10,704.10 142.60,705.07 143.20,706.00 C143.80,706.93 144.57,707.40 145.20,708.20 C145.83,709.00 146.43,710.33 147.00,710.80 C147.57,711.27 148.03,710.60 148.60,711.00 C149.17,711.40 149.77,712.67 150.40,713.20 C151.03,713.73 151.70,713.67 152.40,714.20 C153.10,714.73 153.83,715.77 154.60,716.40 C155.37,717.03 156.17,717.57 157.00,718.00 C157.83,718.43 156.57,718.77 159.60,719.00 C162.63,719.23 172.60,719.33 175.20,719.40  L175.20,719.40 L114.70,719.40 Z" fill="#9a78b4"/>
<path d="M114.70,719.40 C117.35,719.33 127.62,719.37 130.60,719.00 C133.58,718.63 132.00,718.27 132.60,717.20 C133.20,716.13 133.73,714.50 134.20,712.60 C134.67,710.70 135.00,708.57 135.40,705.80 C135.80,703.03 136.23,698.70 136.60,696.00 C136.97,693.30 137.33,690.90 137.60,689.60 C137.87,688.30 137.97,688.03 138.20,688.20 C138.43,688.37 138.67,689.13 139.00,690.60 C139.33,692.07 139.77,695.00 140.20,697.00 C140.63,699.00 141.10,701.10 141.60,702.60 C142.10,704.10 142.60,705.07 143.20,706.00 C143.80,706.93 144.57,707.40 145.20,708.20 C145.83,709.00 146.43,710.33 147.00,710.80 C147.57,711.27 148.03,710.60 148.60,711.00 C149.17,711.40 149.77,712.67 150.40,713.20 C151.03,713.73 151.70,713.67 152.40,714.20 C153.10,714.73 153.83,715.77 154.60,716.40 C155.37,717.03 156.17,717.57 157.00,718.00 C157.83,718.43 156.57,718.77 159.60,719.00 C162.63,719.23 172.60,719.33 175.20,719.40 " fill="none" stroke="#4a1a66" stroke-width="1.3" stroke-linejoin="round"/>
<line x1="140.80" y1="576.40" x2="140.80" y2="719.30" stroke="#333" stroke-width="0.9" stroke-dasharray="1.4 1.3"/>
<rect x="114.20" y="576.40" width="61.50" height="142.90" fill="none" stroke="#111" stroke-width="1.2"/>
<text x="0" y="0" font-size="7" text-anchor="end" fill="#2b2b2b" stroke="#2b2b2b" stroke-width="0.22" transform="translate(173.30 584.80) scale(0.97 1)">1910</text>
<text x="0" y="0" font-size="7" text-anchor="end" fill="#2b2b2b" stroke="#2b2b2b" stroke-width="0.22" transform="translate(173.30 593.10) scale(0.97 1)">39%</text>
<text x="0" y="0" font-size="7" text-anchor="end" fill="#2b2b2b" stroke="#2b2b2b" stroke-width="0.22" transform="translate(173.30 620.20) scale(0.97 1)">4415</text>
<text x="0" y="0" font-size="7" text-anchor="end" fill="#2b2b2b" stroke="#2b2b2b" stroke-width="0.22" transform="translate(173.30 628.50) scale(0.97 1)">62%</text>
<text x="0" y="0" font-size="7" text-anchor="end" fill="#2b2b2b" stroke="#2b2b2b" stroke-width="0.22" transform="translate(173.30 655.80) scale(0.97 1)">813</text>
<text x="0" y="0" font-size="7" text-anchor="end" fill="#2b2b2b" stroke="#2b2b2b" stroke-width="0.22" transform="translate(173.30 664.10) scale(0.97 1)">13%</text>
<text x="0" y="0" font-size="7" text-anchor="end" fill="#2b2b2b" stroke="#2b2b2b" stroke-width="0.22" transform="translate(173.30 691.40) scale(0.97 1)">1560</text>
<text x="0" y="0" font-size="7" text-anchor="end" fill="#2b2b2b" stroke="#2b2b2b" stroke-width="0.22" transform="translate(173.30 699.70) scale(0.97 1)">31%</text>
<line x1="125.60" y1="719.30" x2="125.60" y2="721.90" stroke="#1a1a1a" stroke-width="0.8"/>
<line x1="133.60" y1="719.30" x2="133.60" y2="721.90" stroke="#1a1a1a" stroke-width="0.8"/>
<line x1="150.90" y1="719.30" x2="150.90" y2="721.90" stroke="#1a1a1a" stroke-width="0.8"/>
<line x1="166.80" y1="719.30" x2="166.80" y2="721.90" stroke="#1a1a1a" stroke-width="0.8"/>
<rect x="124.40" y="719.30" width="2.40" height="3.20" fill="#111" stroke="none" stroke-width="1"/>
<line x1="138.81" y1="719.30" x2="138.81" y2="720.90" stroke="#333" stroke-width="0.45"/>
<line x1="141.85" y1="719.30" x2="141.85" y2="720.90" stroke="#333" stroke-width="0.45"/>
<line x1="144.02" y1="719.30" x2="144.02" y2="720.90" stroke="#333" stroke-width="0.45"/>
<line x1="145.69" y1="719.30" x2="145.69" y2="720.90" stroke="#333" stroke-width="0.45"/>
<line x1="147.06" y1="719.30" x2="147.06" y2="720.90" stroke="#333" stroke-width="0.45"/>
<line x1="148.22" y1="719.30" x2="148.22" y2="720.90" stroke="#333" stroke-width="0.45"/>
<line x1="149.22" y1="719.30" x2="149.22" y2="720.90" stroke="#333" stroke-width="0.45"/>
<line x1="150.11" y1="719.30" x2="150.11" y2="720.90" stroke="#333" stroke-width="0.45"/>
<line x1="155.69" y1="719.30" x2="155.69" y2="720.90" stroke="#333" stroke-width="0.45"/>
<line x1="158.49" y1="719.30" x2="158.49" y2="720.90" stroke="#333" stroke-width="0.45"/>
<line x1="160.47" y1="719.30" x2="160.47" y2="720.90" stroke="#333" stroke-width="0.45"/>
<line x1="162.01" y1="719.30" x2="162.01" y2="720.90" stroke="#333" stroke-width="0.45"/>
<line x1="163.27" y1="719.30" x2="163.27" y2="720.90" stroke="#333" stroke-width="0.45"/>
<line x1="164.34" y1="719.30" x2="164.34" y2="720.90" stroke="#333" stroke-width="0.45"/>
<line x1="165.26" y1="719.30" x2="165.26" y2="720.90" stroke="#333" stroke-width="0.45"/>
<line x1="166.07" y1="719.30" x2="166.07" y2="720.90" stroke="#333" stroke-width="0.45"/>
<line x1="121.60" y1="719.30" x2="121.60" y2="720.90" stroke="#1a1a1a" stroke-width="0.45"/>
<line x1="120.00" y1="719.30" x2="120.00" y2="720.90" stroke="#1a1a1a" stroke-width="0.45"/>
<line x1="118.60" y1="719.30" x2="118.60" y2="720.90" stroke="#1a1a1a" stroke-width="0.45"/>
<line x1="117.40" y1="719.30" x2="117.40" y2="720.90" stroke="#1a1a1a" stroke-width="0.45"/>
<line x1="116.40" y1="719.30" x2="116.40" y2="720.90" stroke="#1a1a1a" stroke-width="0.45"/>
<line x1="169.00" y1="719.30" x2="169.00" y2="720.90" stroke="#1a1a1a" stroke-width="0.45"/>
<line x1="170.60" y1="719.30" x2="170.60" y2="720.90" stroke="#1a1a1a" stroke-width="0.45"/>
<line x1="171.80" y1="719.30" x2="171.80" y2="720.90" stroke="#1a1a1a" stroke-width="0.45"/>
<text x="125.60" y="731.60" font-size="6.7" text-anchor="middle" fill="#2b2b2b" stroke="#2b2b2b" stroke-width="0.22">0</text>
<text x="133.80" y="731.80" font-size="6.7" text-anchor="middle" fill="#2b2b2b" stroke="#2b2b2b" stroke-width="0.22">10<tspan dy="-2.8" font-size="4.3">3</tspan><tspan dy="2.8" font-size="1">&#8203;</tspan></text>
<text x="151.10" y="731.80" font-size="6.7" text-anchor="middle" fill="#2b2b2b" stroke="#2b2b2b" stroke-width="0.22">10<tspan dy="-2.8" font-size="4.3">4</tspan><tspan dy="2.8" font-size="1">&#8203;</tspan></text>
<text x="167.00" y="731.80" font-size="6.7" text-anchor="middle" fill="#2b2b2b" stroke="#2b2b2b" stroke-width="0.22">10<tspan dy="-2.8" font-size="4.3">5</tspan><tspan dy="2.8" font-size="1">&#8203;</tspan></text>
<text x="0" y="0" font-size="6.9" text-anchor="middle" fill="#2b2b2b" stroke="#2b2b2b" stroke-width="0.22" transform="translate(28.80 580.00) rotate(-90)" textLength="5.6" lengthAdjust="spacingAndGlyphs">t0</text>
<text x="0" y="0" font-size="6.9" text-anchor="middle" fill="#2b2b2b" stroke="#2b2b2b" stroke-width="0.22" transform="translate(43.40 580.00) rotate(-90)" textLength="6.6" lengthAdjust="spacingAndGlyphs">d3</text>
<line x1="33.10" y1="581.30" x2="33.10" y2="646.60" stroke="#333" stroke-width="1"/>
<line x1="33.10" y1="652.20" x2="33.10" y2="717.40" stroke="#333" stroke-width="1"/>
<text x="0" y="0" font-size="9.4" text-anchor="middle" fill="#2b2b2b" stroke="#2b2b2b" stroke-width="0.22" transform="translate(28.50 613.90) rotate(-90)" textLength="6.4" lengthAdjust="spacingAndGlyphs">M</text>
<text x="0" y="0" font-size="9.4" text-anchor="middle" fill="#2b2b2b" stroke="#2b2b2b" stroke-width="0.22" transform="translate(28.50 685.40) rotate(-90)" textLength="26" lengthAdjust="spacingAndGlyphs">M+GM</text>
<text x="0" y="0" font-size="6.9" text-anchor="middle" fill="#2b2b2b" stroke="#2b2b2b" stroke-width="0.22" transform="translate(42.90 596.30) rotate(-90)" textLength="5" lengthAdjust="spacingAndGlyphs">M</text>
<text x="0" y="0" font-size="6.9" text-anchor="middle" fill="#2b2b2b" stroke="#2b2b2b" stroke-width="0.22" transform="translate(42.90 631.60) rotate(-90)" textLength="23" lengthAdjust="spacingAndGlyphs">M+GM</text>
<text x="0" y="0" font-size="6.9" text-anchor="middle" fill="#2b2b2b" stroke="#2b2b2b" stroke-width="0.22" transform="translate(42.90 667.40) rotate(-90)" textLength="5" lengthAdjust="spacingAndGlyphs">M</text>
<text x="0" y="0" font-size="6.9" text-anchor="middle" fill="#2b2b2b" stroke="#2b2b2b" stroke-width="0.22" transform="translate(42.90 702.20) rotate(-90)" textLength="23" lengthAdjust="spacingAndGlyphs">M+GM</text>
<text x="78.30" y="745.30" font-size="9" text-anchor="middle" fill="#2b2b2b" stroke="#2b2b2b" stroke-width="0.22" textLength="20.2" lengthAdjust="spacingAndGlyphs">TNF-&#945;</text>
<text x="145.60" y="745.30" font-size="9" text-anchor="middle" fill="#2b2b2b" stroke="#2b2b2b" stroke-width="0.22" textLength="12.4" lengthAdjust="spacingAndGlyphs">IL-6</text>
<text x="86.10" y="756.30" font-size="6.9" fill="#2b2b2b" stroke="#2b2b2b" stroke-width="0.22" textLength="51.9" lengthAdjust="spacingAndGlyphs">LKS<tspan dy="-2.8" font-size="4.6">+</tspan><tspan dy="2.8" font-size="1">&#8203;</tspan>-derived m&#981;</text>
<text x="86.70" y="764.80" font-size="6.9" fill="#2b2b2b" stroke="#2b2b2b" stroke-width="0.22" textLength="51.3" lengthAdjust="spacingAndGlyphs">(LPS-stimulated)</text>
<text x="218.20" y="473.80" font-size="12.1" font-weight="bold" fill="#111">H</text>
<text x="283.60" y="491.70" font-size="8.7" fill="#2b2b2b" stroke="#2b2b2b" stroke-width="0.22" textLength="182.2" lengthAdjust="spacingAndGlyphs">CD34<tspan dy="-3.4" font-size="5.6">+</tspan><tspan dy="3.4" font-size="1">&#8203;</tspan> CD38<tspan dy="-3.4" font-size="5.6">&#8722;</tspan><tspan dy="3.4" font-size="1">&#8203;</tspan> -derived m&#981; (LPS-stimulated)</text>
<line x1="253.40" y1="498.00" x2="496.20" y2="498.00" stroke="#555" stroke-width="1.2"/>
<text x="0" y="0" font-size="6.9" text-anchor="middle" fill="#2b2b2b" stroke="#2b2b2b" stroke-width="0.22" transform="translate(277.40 506.00) scale(0.97 1)">84%</text>
<text x="0" y="0" font-size="6.9" text-anchor="middle" fill="#2b2b2b" stroke="#2b2b2b" stroke-width="0.22" transform="translate(277.40 515.00) scale(0.97 1)">12437</text>
<line x1="277.40" y1="520.10" x2="277.40" y2="523.10" stroke="#1a1a1a" stroke-width="0.9"/>
<line x1="277.40" y1="585.40" x2="277.40" y2="588.40" stroke="#1a1a1a" stroke-width="0.9"/>
<text x="0" y="0" font-size="6.9" text-anchor="middle" fill="#2b2b2b" stroke="#2b2b2b" stroke-width="0.22" transform="translate(303.40 506.00) scale(0.97 1)">56%</text>
<text x="0" y="0" font-size="6.9" text-anchor="middle" fill="#2b2b2b" stroke="#2b2b2b" stroke-width="0.22" transform="translate(303.40 515.00) scale(0.97 1)">4155</text>
<line x1="303.40" y1="520.10" x2="303.40" y2="523.10" stroke="#1a1a1a" stroke-width="0.9"/>
<line x1="303.40" y1="585.40" x2="303.40" y2="588.40" stroke="#1a1a1a" stroke-width="0.9"/>
<g filter="url(#b1)">
<path d="M278.00,528.60 C278.70,528.80 280.17,529.23 281.00,529.80 C281.83,530.37 282.55,530.97 283.00,532.00 C283.45,533.03 283.57,534.00 283.70,536.00 C283.83,538.00 283.88,541.67 283.80,544.00 C283.72,546.33 283.43,548.17 283.20,550.00 C282.97,551.83 282.67,553.50 282.40,555.00 C282.13,556.50 281.77,557.92 281.60,559.00 C281.43,560.08 281.33,560.67 281.40,561.50 C281.47,562.33 281.80,563.17 282.00,564.00 C282.20,564.83 282.60,565.67 282.60,566.50 C282.60,567.33 282.37,568.32 282.00,569.00 C281.63,569.68 281.07,570.17 280.40,570.60 C279.73,571.03 278.60,571.43 278.00,571.60 C277.40,571.77 277.40,571.77 276.80,571.60 C276.20,571.43 275.07,571.03 274.40,570.60 C273.73,570.17 273.17,569.68 272.80,569.00 C272.43,568.32 272.20,567.33 272.20,566.50 C272.20,565.67 272.60,564.83 272.80,564.00 C273.00,563.17 273.33,562.33 273.40,561.50 C273.47,560.67 273.37,560.08 273.20,559.00 C273.03,557.92 272.67,556.50 272.40,555.00 C272.13,553.50 271.83,551.83 271.60,550.00 C271.37,548.17 271.08,546.33 271.00,544.00 C270.92,541.67 270.97,538.00 271.10,536.00 C271.23,534.00 271.35,533.03 271.80,532.00 C272.25,530.97 272.97,530.37 273.80,529.80 C274.63,529.23 276.10,528.80 276.80,528.60 C277.50,528.40 277.30,528.40 278.00,528.60 Z" fill="#1b3fa6"/>
<path d="M277.40,529.50 C277.83,529.69 279.23,530.11 280.00,530.66 C280.77,531.20 281.55,531.78 282.00,532.77 C282.45,533.77 282.57,534.70 282.70,536.62 C282.83,538.55 282.88,542.08 282.80,544.33 C282.72,546.57 282.43,548.34 282.20,550.10 C281.97,551.87 281.67,553.47 281.40,554.92 C281.13,556.36 280.77,557.73 280.60,558.77 C280.43,559.81 280.33,560.37 280.40,561.18 C280.47,561.98 280.80,562.78 281.00,563.58 C281.20,564.39 281.60,565.19 281.60,565.99 C281.60,566.79 281.37,567.74 281.00,568.40 C280.63,569.05 280.00,569.52 279.40,569.94 C278.80,570.35 277.73,570.74 277.40,570.90 C277.07,571.06 277.73,571.06 277.40,570.90 C277.07,570.74 276.00,570.35 275.40,569.94 C274.80,569.52 274.17,569.05 273.80,568.40 C273.43,567.74 273.20,566.79 273.20,565.99 C273.20,565.19 273.60,564.39 273.80,563.58 C274.00,562.78 274.33,561.98 274.40,561.18 C274.47,560.37 274.37,559.81 274.20,558.77 C274.03,557.73 273.67,556.36 273.40,554.92 C273.13,553.47 272.83,551.87 272.60,550.10 C272.37,548.34 272.08,546.57 272.00,544.33 C271.92,542.08 271.97,538.55 272.10,536.62 C272.23,534.70 272.35,533.77 272.80,532.77 C273.25,531.78 274.03,531.20 274.80,530.66 C275.57,530.11 276.97,529.69 277.40,529.50 C277.83,529.31 276.97,529.31 277.40,529.50 Z" fill="#1d6fd1"/>
<path d="M277.40,530.40 C277.68,530.59 278.48,530.99 279.10,531.51 C279.72,532.04 280.65,532.59 281.10,533.55 C281.55,534.50 281.67,535.40 281.80,537.25 C281.93,539.10 281.98,542.49 281.90,544.65 C281.82,546.81 281.53,548.51 281.30,550.21 C281.07,551.90 280.77,553.45 280.50,554.84 C280.23,556.22 279.87,557.53 279.70,558.54 C279.53,559.54 279.43,560.08 279.50,560.85 C279.57,561.62 279.90,562.39 280.10,563.17 C280.30,563.94 280.70,564.71 280.70,565.48 C280.70,566.25 280.47,567.16 280.10,567.79 C279.73,568.43 278.95,568.87 278.50,569.27 C278.05,569.68 277.58,570.05 277.40,570.20 C277.22,570.35 277.58,570.35 277.40,570.20 C277.22,570.05 276.75,569.68 276.30,569.27 C275.85,568.87 275.07,568.43 274.70,567.79 C274.33,567.16 274.10,566.25 274.10,565.48 C274.10,564.71 274.50,563.94 274.70,563.17 C274.90,562.39 275.23,561.62 275.30,560.85 C275.37,560.08 275.27,559.54 275.10,558.54 C274.93,557.53 274.57,556.22 274.30,554.84 C274.03,553.45 273.73,551.90 273.50,550.21 C273.27,548.51 272.98,546.81 272.90,544.65 C272.82,542.49 272.87,539.10 273.00,537.25 C273.13,535.40 273.25,534.50 273.70,533.55 C274.15,532.59 275.08,532.04 275.70,531.51 C276.32,530.99 277.12,530.59 277.40,530.40 C277.68,530.21 277.12,530.21 277.40,530.40 Z" fill="#25a9dc"/>
<rect x="274.20" y="532.00" width="6.40" height="24.00" rx="3.20" ry="3.52" fill="#3fb848"/>
<ellipse cx="277.40" cy="567.40" rx="2.80" ry="2.20" fill="#3fb848"/>
<rect x="275.00" y="533.80" width="4.80" height="16.60" rx="2.40" ry="2.64" fill="#f4e52a"/>
<ellipse cx="277.40" cy="567.60" rx="1.60" ry="1.20" fill="#a6d634"/>
<rect x="275.90" y="535.60" width="3.00" height="10.80" rx="1.50" ry="1.65" fill="#f7931e"/>
<rect x="276.60" y="537.60" width="1.60" height="5.40" rx="0.80" ry="0.88" fill="#e7251d"/>
</g>
<g filter="url(#b1)">
<path d="M304.20,531.00 C304.83,531.20 306.03,531.62 306.80,532.20 C307.57,532.78 308.30,533.53 308.80,534.50 C309.30,535.47 309.58,536.08 309.80,538.00 C310.02,539.92 310.05,543.00 310.10,546.00 C310.15,549.00 310.10,553.00 310.10,556.00 C310.10,559.00 310.15,562.00 310.10,564.00 C310.05,566.00 310.08,566.83 309.80,568.00 C309.52,569.17 309.00,570.23 308.40,571.00 C307.80,571.77 306.90,572.23 306.20,572.60 C305.50,572.97 304.73,573.10 304.20,573.20 C303.67,573.30 303.53,573.30 303.00,573.20 C302.47,573.10 301.70,572.97 301.00,572.60 C300.30,572.23 299.40,571.77 298.80,571.00 C298.20,570.23 297.68,569.17 297.40,568.00 C297.12,566.83 297.15,566.00 297.10,564.00 C297.05,562.00 297.10,559.00 297.10,556.00 C297.10,553.00 297.05,549.00 297.10,546.00 C297.15,543.00 297.18,539.92 297.40,538.00 C297.62,536.08 297.90,535.47 298.40,534.50 C298.90,533.53 299.63,532.78 300.40,532.20 C301.17,531.62 302.37,531.20 303.00,531.00 C303.63,530.80 303.57,530.80 304.20,531.00 Z" fill="#1b3fa6"/>
<path d="M303.60,531.90 C303.97,532.09 305.10,532.49 305.80,533.05 C306.50,533.62 307.30,534.34 307.80,535.27 C308.30,536.20 308.58,536.79 308.80,538.63 C309.02,540.48 309.05,543.45 309.10,546.33 C309.15,549.22 309.10,553.07 309.10,555.95 C309.10,558.84 309.15,561.72 309.10,563.65 C309.05,565.57 309.08,566.37 308.80,567.50 C308.52,568.62 308.00,569.65 307.40,570.38 C306.80,571.12 305.83,571.57 305.20,571.92 C304.57,572.28 303.87,572.40 303.60,572.50 C303.33,572.60 303.87,572.60 303.60,572.50 C303.33,572.40 302.63,572.28 302.00,571.92 C301.37,571.57 300.40,571.12 299.80,570.38 C299.20,569.65 298.68,568.62 298.40,567.50 C298.12,566.37 298.15,565.57 298.10,563.65 C298.05,561.72 298.10,558.84 298.10,555.95 C298.10,553.07 298.05,549.22 298.10,546.33 C298.15,543.45 298.18,540.48 298.40,538.63 C298.62,536.79 298.90,536.20 299.40,535.27 C299.90,534.34 300.70,533.62 301.40,533.05 C302.10,532.49 303.23,532.09 303.60,531.90 C303.97,531.71 303.23,531.71 303.60,531.90 Z" fill="#1d6fd1"/>
<path d="M303.60,532.90 C303.82,533.08 304.35,533.47 304.90,534.01 C305.45,534.55 306.40,535.24 306.90,536.13 C307.40,537.03 307.68,537.60 307.90,539.37 C308.12,541.14 308.15,543.99 308.20,546.76 C308.25,549.54 308.20,553.23 308.20,556.00 C308.20,558.78 308.25,561.55 308.20,563.40 C308.15,565.25 308.18,566.02 307.90,567.09 C307.62,568.17 307.10,569.16 306.50,569.87 C305.90,570.58 304.78,571.01 304.30,571.35 C303.82,571.68 303.72,571.81 303.60,571.90 C303.48,571.99 303.72,571.99 303.60,571.90 C303.48,571.81 303.38,571.68 302.90,571.35 C302.42,571.01 301.30,570.58 300.70,569.87 C300.10,569.16 299.58,568.17 299.30,567.09 C299.02,566.02 299.05,565.25 299.00,563.40 C298.95,561.55 299.00,558.78 299.00,556.00 C299.00,553.23 298.95,549.54 299.00,546.76 C299.05,543.99 299.08,541.14 299.30,539.37 C299.52,537.60 299.80,537.03 300.30,536.13 C300.80,535.24 301.75,534.55 302.30,534.01 C302.85,533.47 303.38,533.08 303.60,532.90 C303.82,532.72 303.38,532.72 303.60,532.90 Z" fill="#25a9dc"/>
<rect x="300.60" y="536.60" width="6.00" height="34.80" rx="3.00" ry="3.30" fill="#3fb848"/>
<ellipse cx="303.60" cy="567.60" rx="4.40" ry="3.60" fill="#3fb848"/>
<rect x="302.10" y="541.00" width="3.00" height="17.00" rx="1.50" ry="1.65" fill="#a6d634"/>
<ellipse cx="303.60" cy="567.80" rx="3.50" ry="2.90" fill="#f4e52a"/>
<ellipse cx="303.60" cy="548.60" rx="0.70" ry="3.00" fill="#f4e52a"/>
<ellipse cx="303.60" cy="568.00" rx="2.60" ry="2.10" fill="#f7931e"/>
<ellipse cx="303.60" cy="568.20" rx="1.70" ry="1.40" fill="#e7251d"/>
</g>
<rect x="250.90" y="523.10" width="79.20" height="62.30" fill="none" stroke="#111" stroke-width="1"/>
<rect x="267.00" y="527.00" width="20.80" height="30.70" fill="none" stroke="#111" stroke-width="0.9"/>
<rect x="292.40" y="527.00" width="21.50" height="30.70" fill="none" stroke="#111" stroke-width="0.9"/>
<line x1="247.60" y1="527.90" x2="250.90" y2="527.90" stroke="#1a1a1a" stroke-width="0.8"/>
<text x="244.30" y="530.50" font-size="6.9" text-anchor="end" fill="#2b2b2b" stroke="#2b2b2b" stroke-width="0.22">10<tspan dy="-2.8" font-size="4.278">5</tspan><tspan dy="2.8" font-size="1">&#8203;</tspan></text>
<line x1="247.60" y1="542.90" x2="250.90" y2="542.90" stroke="#1a1a1a" stroke-width="0.8"/>
<text x="244.30" y="545.50" font-size="6.9" text-anchor="end" fill="#2b2b2b" stroke="#2b2b2b" stroke-width="0.22">10<tspan dy="-2.8" font-size="4.278">4</tspan><tspan dy="2.8" font-size="1">&#8203;</tspan></text>
<line x1="247.60" y1="558.20" x2="250.90" y2="558.20" stroke="#1a1a1a" stroke-width="0.8"/>
<text x="244.30" y="560.80" font-size="6.9" text-anchor="end" fill="#2b2b2b" stroke="#2b2b2b" stroke-width="0.22">10<tspan dy="-2.8" font-size="4.278">3</tspan><tspan dy="2.8" font-size="1">&#8203;</tspan></text>
<line x1="247.60" y1="573.80" x2="250.90" y2="573.80" stroke="#1a1a1a" stroke-width="0.8"/>
<text x="244.30" y="576.20" font-size="6.9" text-anchor="end" fill="#2b2b2b" stroke="#2b2b2b" stroke-width="0.22">0</text>
<line x1="249.30" y1="538.38" x2="250.90" y2="538.38" stroke="#333" stroke-width="0.45"/>
<line x1="249.30" y1="535.74" x2="250.90" y2="535.74" stroke="#333" stroke-width="0.45"/>
<line x1="249.30" y1="533.87" x2="250.90" y2="533.87" stroke="#333" stroke-width="0.45"/>
<line x1="249.30" y1="532.42" x2="250.90" y2="532.42" stroke="#333" stroke-width="0.45"/>
<line x1="249.30" y1="531.23" x2="250.90" y2="531.23" stroke="#333" stroke-width="0.45"/>
<line x1="249.30" y1="530.22" x2="250.90" y2="530.22" stroke="#333" stroke-width="0.45"/>
<line x1="249.30" y1="529.35" x2="250.90" y2="529.35" stroke="#333" stroke-width="0.45"/>
<line x1="249.30" y1="528.59" x2="250.90" y2="528.59" stroke="#333" stroke-width="0.45"/>
<line x1="249.30" y1="553.59" x2="250.90" y2="553.59" stroke="#333" stroke-width="0.45"/>
<line x1="249.30" y1="550.90" x2="250.90" y2="550.90" stroke="#333" stroke-width="0.45"/>
<line x1="249.30" y1="548.99" x2="250.90" y2="548.99" stroke="#333" stroke-width="0.45"/>
<line x1="249.30" y1="547.51" x2="250.90" y2="547.51" stroke="#333" stroke-width="0.45"/>
<line x1="249.30" y1="546.29" x2="250.90" y2="546.29" stroke="#333" stroke-width="0.45"/>
<line x1="249.30" y1="545.27" x2="250.90" y2="545.27" stroke="#333" stroke-width="0.45"/>
<line x1="249.30" y1="544.38" x2="250.90" y2="544.38" stroke="#333" stroke-width="0.45"/>
<line x1="249.30" y1="543.60" x2="250.90" y2="543.60" stroke="#333" stroke-width="0.45"/>
<line x1="249.30" y1="567.99" x2="250.90" y2="567.99" stroke="#333" stroke-width="0.45"/>
<line x1="249.30" y1="565.52" x2="250.90" y2="565.52" stroke="#333" stroke-width="0.45"/>
<line x1="249.30" y1="563.77" x2="250.90" y2="563.77" stroke="#333" stroke-width="0.45"/>
<line x1="249.30" y1="562.41" x2="250.90" y2="562.41" stroke="#333" stroke-width="0.45"/>
<line x1="249.30" y1="561.31" x2="250.90" y2="561.31" stroke="#333" stroke-width="0.45"/>
<line x1="249.30" y1="560.37" x2="250.90" y2="560.37" stroke="#333" stroke-width="0.45"/>
<line x1="249.30" y1="559.56" x2="250.90" y2="559.56" stroke="#333" stroke-width="0.45"/>
<line x1="249.30" y1="558.84" x2="250.90" y2="558.84" stroke="#333" stroke-width="0.45"/>
<line x1="248.70" y1="572.20" x2="250.90" y2="572.20" stroke="#1a1a1a" stroke-width="0.5"/>
<line x1="248.70" y1="573.20" x2="250.90" y2="573.20" stroke="#1a1a1a" stroke-width="0.5"/>
<line x1="248.70" y1="574.20" x2="250.90" y2="574.20" stroke="#1a1a1a" stroke-width="0.5"/>
<line x1="248.70" y1="575.20" x2="250.90" y2="575.20" stroke="#1a1a1a" stroke-width="0.5"/>
<line x1="249.30" y1="578.80" x2="250.90" y2="578.80" stroke="#1a1a1a" stroke-width="0.45"/>
<line x1="249.30" y1="581.20" x2="250.90" y2="581.20" stroke="#1a1a1a" stroke-width="0.45"/>
<line x1="249.30" y1="583.20" x2="250.90" y2="583.20" stroke="#1a1a1a" stroke-width="0.45"/>
<text x="0" y="0" font-size="9.2" text-anchor="middle" fill="#2b2b2b" stroke="#2b2b2b" stroke-width="0.22" transform="translate(228.80 553.90) rotate(-90)" textLength="19.2" lengthAdjust="spacingAndGlyphs">TNF-&#945;</text>
<text x="277.40" y="597.70" font-size="7.2" text-anchor="middle" fill="#2b2b2b" stroke="#2b2b2b" stroke-width="0.22">M</text>
<text x="303.40" y="597.70" font-size="7.2" text-anchor="middle" fill="#2b2b2b" stroke="#2b2b2b" stroke-width="0.22">M+GM</text>
<rect x="385.70" y="548.70" width="7.70" height="36.10" fill="#a9d2f1" stroke="none" stroke-width="1"/>
<line x1="389.55" y1="541.30" x2="389.55" y2="549.20" stroke="#1a1a1a" stroke-width="0.9"/>
<line x1="387.35" y1="541.30" x2="391.75" y2="541.30" stroke="#1a1a1a" stroke-width="0.9"/>
<rect x="395.20" y="570.40" width="7.80" height="14.40" fill="#e07f70" stroke="none" stroke-width="1"/>
<line x1="399.10" y1="566.00" x2="399.10" y2="570.90" stroke="#1a1a1a" stroke-width="0.9"/>
<line x1="396.90" y1="566.00" x2="401.30" y2="566.00" stroke="#1a1a1a" stroke-width="0.9"/>
<line x1="378.40" y1="526.20" x2="378.40" y2="585.40" stroke="#1a1a1a" stroke-width="1.3"/>
<line x1="375.20" y1="584.80" x2="408.70" y2="584.80" stroke="#1a1a1a" stroke-width="1.3"/>
<line x1="375.20" y1="528.50" x2="378.40" y2="528.50" stroke="#1a1a1a" stroke-width="1"/>
<text x="0" y="0" font-size="7" text-anchor="end" fill="#2b2b2b" stroke="#2b2b2b" stroke-width="0.22" transform="translate(372.70 531.00) scale(0.96 1)">20</text>
<line x1="375.20" y1="556.60" x2="378.40" y2="556.60" stroke="#1a1a1a" stroke-width="1"/>
<text x="0" y="0" font-size="7" text-anchor="end" fill="#2b2b2b" stroke="#2b2b2b" stroke-width="0.22" transform="translate(372.70 559.10) scale(0.96 1)">10</text>
<line x1="375.20" y1="584.80" x2="378.40" y2="584.80" stroke="#1a1a1a" stroke-width="1"/>
<text x="0" y="0" font-size="7" text-anchor="end" fill="#2b2b2b" stroke="#2b2b2b" stroke-width="0.22" transform="translate(372.70 587.30) scale(0.96 1)">0</text>
<line x1="375.80" y1="542.60" x2="378.40" y2="542.60" stroke="#1a1a1a" stroke-width="0.9"/>
<line x1="375.80" y1="570.70" x2="378.40" y2="570.70" stroke="#1a1a1a" stroke-width="0.9"/>
<text x="0" y="0" font-size="8.8" text-anchor="middle" fill="#2b2b2b" stroke="#2b2b2b" stroke-width="0.22" transform="translate(358.20 555.00) rotate(-90)" textLength="56" lengthAdjust="spacingAndGlyphs">TNF-&#945; MFI &#215; 10<tspan dy="-3" font-size="5.5">3</tspan><tspan dy="3" font-size="1">&#8203;</tspan></text>
<text x="399.00" y="560.90" font-size="6.2" font-weight="bold" text-anchor="middle" fill="#222">*</text>
<text x="399.00" y="564.40" font-size="6.2" font-weight="bold" text-anchor="middle" fill="#222">*</text>
<line x1="466.20" y1="526.80" x2="466.20" y2="586.20" stroke="#1a1a1a" stroke-width="1.3"/>
<line x1="463.00" y1="585.60" x2="495.90" y2="585.60" stroke="#1a1a1a" stroke-width="1.3"/>
<line x1="463.00" y1="529.20" x2="466.20" y2="529.20" stroke="#1a1a1a" stroke-width="1"/>
<text x="0" y="0" font-size="7" text-anchor="end" fill="#2b2b2b" stroke="#2b2b2b" stroke-width="0.22" transform="translate(461.70 531.70) scale(0.96 1)">100</text>
<line x1="463.00" y1="543.40" x2="466.20" y2="543.40" stroke="#1a1a1a" stroke-width="1"/>
<line x1="463.00" y1="557.40" x2="466.20" y2="557.40" stroke="#1a1a1a" stroke-width="1"/>
<text x="0" y="0" font-size="7" text-anchor="end" fill="#2b2b2b" stroke="#2b2b2b" stroke-width="0.22" transform="translate(461.70 559.90) scale(0.96 1)">60</text>
<line x1="463.00" y1="571.60" x2="466.20" y2="571.60" stroke="#1a1a1a" stroke-width="1"/>
<line x1="463.00" y1="585.60" x2="466.20" y2="585.60" stroke="#1a1a1a" stroke-width="1"/>
<text x="0" y="0" font-size="7" text-anchor="end" fill="#2b2b2b" stroke="#2b2b2b" stroke-width="0.22" transform="translate(461.70 588.10) scale(0.96 1)">20</text>
<text x="0" y="0" font-size="8.8" text-anchor="middle" fill="#2b2b2b" stroke="#2b2b2b" stroke-width="0.22" transform="translate(433.60 556.00) rotate(-90)" textLength="37.2" lengthAdjust="spacingAndGlyphs">% of TNF-&#945;-</text>
<text x="0" y="0" font-size="8.8" text-anchor="middle" fill="#2b2b2b" stroke="#2b2b2b" stroke-width="0.22" transform="translate(442.20 556.00) rotate(-90)" textLength="49.3" lengthAdjust="spacingAndGlyphs">producing cells</text>
<line x1="475.75" y1="540.10" x2="475.75" y2="541.00" stroke="#1a1a1a" stroke-width="0.9"/>
<line x1="475.75" y1="550.50" x2="475.75" y2="552.20" stroke="#1a1a1a" stroke-width="0.9"/>
<line x1="473.55" y1="540.10" x2="477.95" y2="540.10" stroke="#1a1a1a" stroke-width="0.9"/>
<line x1="473.55" y1="552.20" x2="477.95" y2="552.20" stroke="#1a1a1a" stroke-width="0.9"/>
<rect x="470.80" y="541.00" width="9.90" height="9.50" fill="#a9d2f1" stroke="none" stroke-width="1"/>
<line x1="470.80" y1="544.20" x2="480.70" y2="544.20" stroke="#2f6fb2" stroke-width="1.3"/>
<line x1="470.80" y1="546.60" x2="480.70" y2="546.60" stroke="#2f6fb2" stroke-width="0.9"/>
<line x1="485.95" y1="550.50" x2="485.95" y2="553.40" stroke="#1a1a1a" stroke-width="0.9"/>
<line x1="485.95" y1="560.30" x2="485.95" y2="561.40" stroke="#1a1a1a" stroke-width="0.9"/>
<line x1="483.75" y1="550.50" x2="488.15" y2="550.50" stroke="#1a1a1a" stroke-width="0.9"/>
<line x1="483.75" y1="561.40" x2="488.15" y2="561.40" stroke="#1a1a1a" stroke-width="0.9"/>
<rect x="481.20" y="553.40" width="9.50" height="6.90" fill="#e07f70" stroke="none" stroke-width="1"/>
<line x1="481.20" y1="558.30" x2="490.70" y2="558.30" stroke="#8e2a22" stroke-width="1.3"/>
<line x1="481.20" y1="556.20" x2="490.70" y2="556.20" stroke="#8e2a22" stroke-width="0.8"/>
<text x="485.90" y="547.90" font-size="6.2" font-weight="bold" text-anchor="middle" fill="#222">*</text>
<text x="283.60" y="627.70" font-size="8.7" fill="#2b2b2b" stroke="#2b2b2b" stroke-width="0.22" textLength="182.2" lengthAdjust="spacingAndGlyphs">CD34<tspan dy="-3.4" font-size="5.6">+</tspan><tspan dy="3.4" font-size="1">&#8203;</tspan> CD38<tspan dy="-3.4" font-size="5.6">+</tspan><tspan dy="3.4" font-size="1">&#8203;</tspan> -derived m&#981; (LPS-stimulated)</text>
<line x1="253.40" y1="634.00" x2="496.20" y2="634.00" stroke="#555" stroke-width="1.2"/>
<text x="0" y="0" font-size="6.9" text-anchor="middle" fill="#2b2b2b" stroke="#2b2b2b" stroke-width="0.22" transform="translate(277.40 642.30) scale(0.97 1)">51%</text>
<text x="0" y="0" font-size="6.9" text-anchor="middle" fill="#2b2b2b" stroke="#2b2b2b" stroke-width="0.22" transform="translate(277.40 651.30) scale(0.97 1)">7644</text>
<line x1="277.40" y1="656.20" x2="277.40" y2="659.20" stroke="#1a1a1a" stroke-width="0.9"/>
<line x1="277.40" y1="722.10" x2="277.40" y2="725.10" stroke="#1a1a1a" stroke-width="0.9"/>
<text x="0" y="0" font-size="6.9" text-anchor="middle" fill="#2b2b2b" stroke="#2b2b2b" stroke-width="0.22" transform="translate(303.40 642.30) scale(0.97 1)">70%</text>
<text x="0" y="0" font-size="6.9" text-anchor="middle" fill="#2b2b2b" stroke="#2b2b2b" stroke-width="0.22" transform="translate(303.40 651.30) scale(0.97 1)">11896</text>
<line x1="303.40" y1="656.20" x2="303.40" y2="659.20" stroke="#1a1a1a" stroke-width="0.9"/>
<line x1="303.40" y1="722.10" x2="303.40" y2="725.10" stroke="#1a1a1a" stroke-width="0.9"/>
<g filter="url(#b1)">
<path d="M278.20,666.00 C278.87,666.20 280.20,666.62 281.00,667.20 C281.80,667.78 282.52,668.53 283.00,669.50 C283.48,670.47 283.72,670.92 283.90,673.00 C284.08,675.08 284.12,678.83 284.10,682.00 C284.08,685.17 283.92,689.50 283.80,692.00 C283.68,694.50 283.37,695.50 283.40,697.00 C283.43,698.50 283.93,699.67 284.00,701.00 C284.07,702.33 284.10,703.93 283.80,705.00 C283.50,706.07 282.80,706.80 282.20,707.40 C281.60,708.00 280.87,708.33 280.20,708.60 C279.53,708.87 278.73,708.93 278.20,709.00 C277.67,709.07 277.53,709.07 277.00,709.00 C276.47,708.93 275.67,708.87 275.00,708.60 C274.33,708.33 273.60,708.00 273.00,707.40 C272.40,706.80 271.70,706.07 271.40,705.00 C271.10,703.93 271.13,702.33 271.20,701.00 C271.27,699.67 271.77,698.50 271.80,697.00 C271.83,695.50 271.52,694.50 271.40,692.00 C271.28,689.50 271.12,685.17 271.10,682.00 C271.08,678.83 271.12,675.08 271.30,673.00 C271.48,670.92 271.72,670.47 272.20,669.50 C272.68,668.53 273.40,667.78 274.20,667.20 C275.00,666.62 276.33,666.20 277.00,666.00 C277.67,665.80 277.53,665.80 278.20,666.00 Z" fill="#1b3fa6"/>
<path d="M277.60,666.90 C278.00,667.09 279.27,667.49 280.00,668.06 C280.73,668.62 281.52,669.34 282.00,670.27 C282.48,671.20 282.72,671.63 282.90,673.64 C283.08,675.65 283.12,679.26 283.10,682.30 C283.08,685.35 282.92,689.53 282.80,691.93 C282.68,694.34 282.37,695.30 282.40,696.75 C282.43,698.19 282.93,699.31 283.00,700.60 C283.07,701.88 283.10,703.42 282.80,704.45 C282.50,705.48 281.80,706.18 281.20,706.76 C280.60,707.34 279.80,707.66 279.20,707.91 C278.60,708.17 277.87,708.24 277.60,708.30 C277.33,708.36 277.87,708.36 277.60,708.30 C277.33,708.24 276.60,708.17 276.00,707.91 C275.40,707.66 274.60,707.34 274.00,706.76 C273.40,706.18 272.70,705.48 272.40,704.45 C272.10,703.42 272.13,701.88 272.20,700.60 C272.27,699.31 272.77,698.19 272.80,696.75 C272.83,695.30 272.52,694.34 272.40,691.93 C272.28,689.53 272.12,685.35 272.10,682.30 C272.08,679.26 272.12,675.65 272.30,673.64 C272.48,671.63 272.72,671.20 273.20,670.27 C273.68,669.34 274.47,668.62 275.20,668.06 C275.93,667.49 277.20,667.09 277.60,666.90 C278.00,666.71 277.20,666.71 277.60,666.90 Z" fill="#1d6fd1"/>
<path d="M277.60,667.90 C277.85,668.09 278.52,668.47 279.10,669.01 C279.68,669.55 280.62,670.24 281.10,671.14 C281.58,672.03 281.82,672.45 282.00,674.38 C282.18,676.31 282.22,679.78 282.20,682.71 C282.18,685.64 282.02,689.65 281.90,691.97 C281.78,694.28 281.47,695.20 281.50,696.59 C281.53,697.98 282.03,699.06 282.10,700.30 C282.17,701.53 282.20,703.01 281.90,704.00 C281.60,704.98 280.90,705.66 280.30,706.22 C279.70,706.77 278.75,707.08 278.30,707.33 C277.85,707.58 277.72,707.64 277.60,707.70 C277.48,707.76 277.72,707.76 277.60,707.70 C277.48,707.64 277.35,707.58 276.90,707.33 C276.45,707.08 275.50,706.77 274.90,706.22 C274.30,705.66 273.60,704.98 273.30,704.00 C273.00,703.01 273.03,701.53 273.10,700.30 C273.17,699.06 273.67,697.98 273.70,696.59 C273.73,695.20 273.42,694.28 273.30,691.97 C273.18,689.65 273.02,685.64 273.00,682.71 C272.98,679.78 273.02,676.31 273.20,674.38 C273.38,672.45 273.62,672.03 274.10,671.14 C274.58,670.24 275.52,669.55 276.10,669.01 C276.68,668.47 277.35,668.09 277.60,667.90 C277.85,667.71 277.35,667.71 277.60,667.90 Z" fill="#25a9dc"/>
<rect x="274.70" y="670.40" width="5.80" height="36.60" rx="2.90" ry="3.19" fill="#3fb848"/>
<ellipse cx="277.60" cy="704.60" rx="5.30" ry="3.30" fill="#3fb848"/>
<rect x="275.70" y="672.40" width="3.80" height="15.60" rx="1.90" ry="2.09" fill="#a6d634"/>
<ellipse cx="277.60" cy="704.90" rx="4.40" ry="2.60" fill="#f4e52a"/>
<rect x="276.40" y="673.80" width="2.40" height="6.20" rx="1.20" ry="1.32" fill="#f4e52a"/>
<ellipse cx="277.60" cy="684.80" rx="0.90" ry="1.40" fill="#f4e52a"/>
<ellipse cx="277.40" cy="705.10" rx="3.40" ry="1.90" fill="#f7931e"/>
<ellipse cx="277.30" cy="705.30" rx="2.40" ry="1.20" fill="#e7251d"/>
</g>
<g filter="url(#b1)">
<path d="M304.20,664.40 C304.87,664.60 306.20,665.00 307.00,665.60 C307.80,666.20 308.53,667.02 309.00,668.00 C309.47,668.98 309.63,669.50 309.80,671.50 C309.97,673.50 309.98,676.92 310.00,680.00 C310.02,683.08 309.92,686.67 309.90,690.00 C309.88,693.33 309.95,697.58 309.90,700.00 C309.85,702.42 309.88,703.30 309.60,704.50 C309.32,705.70 308.77,706.55 308.20,707.20 C307.63,707.85 306.87,708.12 306.20,708.40 C305.53,708.68 304.73,708.82 304.20,708.90 C303.67,708.98 303.53,708.98 303.00,708.90 C302.47,708.82 301.67,708.68 301.00,708.40 C300.33,708.12 299.57,707.85 299.00,707.20 C298.43,706.55 297.88,705.70 297.60,704.50 C297.32,703.30 297.35,702.42 297.30,700.00 C297.25,697.58 297.32,693.33 297.30,690.00 C297.28,686.67 297.18,683.08 297.20,680.00 C297.22,676.92 297.23,673.50 297.40,671.50 C297.57,669.50 297.73,668.98 298.20,668.00 C298.67,667.02 299.40,666.20 300.20,665.60 C301.00,665.00 302.33,664.60 303.00,664.40 C303.67,664.20 303.53,664.20 304.20,664.40 Z" fill="#1b3fa6"/>
<path d="M303.60,665.30 C304.00,665.49 305.27,665.88 306.00,666.46 C306.73,667.04 307.53,667.82 308.00,668.77 C308.47,669.72 308.63,670.22 308.80,672.14 C308.97,674.07 308.98,677.37 309.00,680.34 C309.02,683.31 308.92,686.77 308.90,689.98 C308.88,693.19 308.95,697.29 308.90,699.62 C308.85,701.95 308.88,702.80 308.60,703.96 C308.32,705.12 307.77,705.93 307.20,706.56 C306.63,707.19 305.80,707.44 305.20,707.72 C304.60,707.99 303.87,708.12 303.60,708.20 C303.33,708.28 303.87,708.28 303.60,708.20 C303.33,708.12 302.60,707.99 302.00,707.72 C301.40,707.44 300.57,707.19 300.00,706.56 C299.43,705.93 298.88,705.12 298.60,703.96 C298.32,702.80 298.35,701.95 298.30,699.62 C298.25,697.29 298.32,693.19 298.30,689.98 C298.28,686.77 298.18,683.31 298.20,680.34 C298.22,677.37 298.23,674.07 298.40,672.14 C298.57,670.22 298.73,669.72 299.20,668.77 C299.67,667.82 300.47,667.04 301.20,666.46 C301.93,665.88 303.20,665.49 303.60,665.30 C304.00,665.11 303.20,665.11 303.60,665.30 Z" fill="#1d6fd1"/>
<path d="M303.60,666.30 C303.85,666.49 304.52,666.86 305.10,667.41 C305.68,667.97 306.63,668.73 307.10,669.64 C307.57,670.55 307.73,671.03 307.90,672.89 C308.07,674.75 308.08,677.92 308.10,680.78 C308.12,683.64 308.02,686.97 308.00,690.06 C307.98,693.15 308.05,697.10 308.00,699.34 C307.95,701.58 307.98,702.40 307.70,703.52 C307.42,704.63 306.87,705.42 306.30,706.02 C305.73,706.63 304.75,706.87 304.30,707.14 C303.85,707.40 303.72,707.52 303.60,707.60 C303.48,707.68 303.72,707.68 303.60,707.60 C303.48,707.52 303.35,707.40 302.90,707.14 C302.45,706.87 301.47,706.63 300.90,706.02 C300.33,705.42 299.78,704.63 299.50,703.52 C299.22,702.40 299.25,701.58 299.20,699.34 C299.15,697.10 299.22,693.15 299.20,690.06 C299.18,686.97 299.08,683.64 299.10,680.78 C299.12,677.92 299.13,674.75 299.30,672.89 C299.47,671.03 299.63,670.55 300.10,669.64 C300.57,668.73 301.52,667.97 302.10,667.41 C302.68,666.86 303.35,666.49 303.60,666.30 C303.85,666.11 303.35,666.11 303.60,666.30 Z" fill="#25a9dc"/>
<rect x="300.60" y="668.80" width="6.00" height="37.60" rx="3.00" ry="3.30" fill="#3fb848"/>
<rect x="301.50" y="670.60" width="4.20" height="19.40" rx="2.10" ry="2.31" fill="#f4e52a"/>
<rect x="302.10" y="696.00" width="3.00" height="8.60" rx="1.50" ry="1.65" fill="#a6d634"/>
<rect x="302.20" y="672.00" width="2.80" height="6.60" rx="1.40" ry="1.54" fill="#f7931e"/>
<ellipse cx="303.60" cy="683.00" rx="1.20" ry="1.80" fill="#f7931e"/>
<ellipse cx="303.60" cy="701.60" rx="0.90" ry="1.40" fill="#f4e52a"/>
</g>
<rect x="250.90" y="659.20" width="79.20" height="62.90" fill="none" stroke="#111" stroke-width="1"/>
<rect x="267.00" y="664.30" width="20.80" height="30.00" fill="none" stroke="#111" stroke-width="0.9"/>
<rect x="292.40" y="664.30" width="21.50" height="30.00" fill="none" stroke="#111" stroke-width="0.9"/>
<line x1="247.60" y1="664.30" x2="250.90" y2="664.30" stroke="#1a1a1a" stroke-width="0.8"/>
<text x="244.30" y="666.90" font-size="6.9" text-anchor="end" fill="#2b2b2b" stroke="#2b2b2b" stroke-width="0.22">10<tspan dy="-2.8" font-size="4.278">5</tspan><tspan dy="2.8" font-size="1">&#8203;</tspan></text>
<line x1="247.60" y1="679.40" x2="250.90" y2="679.40" stroke="#1a1a1a" stroke-width="0.8"/>
<text x="244.30" y="682.00" font-size="6.9" text-anchor="end" fill="#2b2b2b" stroke="#2b2b2b" stroke-width="0.22">10<tspan dy="-2.8" font-size="4.278">4</tspan><tspan dy="2.8" font-size="1">&#8203;</tspan></text>
<line x1="247.60" y1="694.80" x2="250.90" y2="694.80" stroke="#1a1a1a" stroke-width="0.8"/>
<text x="244.30" y="697.40" font-size="6.9" text-anchor="end" fill="#2b2b2b" stroke="#2b2b2b" stroke-width="0.22">10<tspan dy="-2.8" font-size="4.278">3</tspan><tspan dy="2.8" font-size="1">&#8203;</tspan></text>
<line x1="247.60" y1="710.20" x2="250.90" y2="710.20" stroke="#1a1a1a" stroke-width="0.8"/>
<text x="244.30" y="712.60" font-size="6.9" text-anchor="end" fill="#2b2b2b" stroke="#2b2b2b" stroke-width="0.22">0</text>
<line x1="249.30" y1="674.85" x2="250.90" y2="674.85" stroke="#333" stroke-width="0.45"/>
<line x1="249.30" y1="672.20" x2="250.90" y2="672.20" stroke="#333" stroke-width="0.45"/>
<line x1="249.30" y1="670.31" x2="250.90" y2="670.31" stroke="#333" stroke-width="0.45"/>
<line x1="249.30" y1="668.85" x2="250.90" y2="668.85" stroke="#333" stroke-width="0.45"/>
<line x1="249.30" y1="667.65" x2="250.90" y2="667.65" stroke="#333" stroke-width="0.45"/>
<line x1="249.30" y1="666.64" x2="250.90" y2="666.64" stroke="#333" stroke-width="0.45"/>
<line x1="249.30" y1="665.76" x2="250.90" y2="665.76" stroke="#333" stroke-width="0.45"/>
<line x1="249.30" y1="664.99" x2="250.90" y2="664.99" stroke="#333" stroke-width="0.45"/>
<line x1="249.30" y1="690.16" x2="250.90" y2="690.16" stroke="#333" stroke-width="0.45"/>
<line x1="249.30" y1="687.45" x2="250.90" y2="687.45" stroke="#333" stroke-width="0.45"/>
<line x1="249.30" y1="685.53" x2="250.90" y2="685.53" stroke="#333" stroke-width="0.45"/>
<line x1="249.30" y1="684.04" x2="250.90" y2="684.04" stroke="#333" stroke-width="0.45"/>
<line x1="249.30" y1="682.82" x2="250.90" y2="682.82" stroke="#333" stroke-width="0.45"/>
<line x1="249.30" y1="681.79" x2="250.90" y2="681.79" stroke="#333" stroke-width="0.45"/>
<line x1="249.30" y1="680.89" x2="250.90" y2="680.89" stroke="#333" stroke-width="0.45"/>
<line x1="249.30" y1="680.10" x2="250.90" y2="680.10" stroke="#333" stroke-width="0.45"/>
<line x1="249.30" y1="704.59" x2="250.90" y2="704.59" stroke="#333" stroke-width="0.45"/>
<line x1="249.30" y1="702.12" x2="250.90" y2="702.12" stroke="#333" stroke-width="0.45"/>
<line x1="249.30" y1="700.37" x2="250.90" y2="700.37" stroke="#333" stroke-width="0.45"/>
<line x1="249.30" y1="699.01" x2="250.90" y2="699.01" stroke="#333" stroke-width="0.45"/>
<line x1="249.30" y1="697.91" x2="250.90" y2="697.91" stroke="#333" stroke-width="0.45"/>
<line x1="249.30" y1="696.97" x2="250.90" y2="696.97" stroke="#333" stroke-width="0.45"/>
<line x1="249.30" y1="696.16" x2="250.90" y2="696.16" stroke="#333" stroke-width="0.45"/>
<line x1="249.30" y1="695.44" x2="250.90" y2="695.44" stroke="#333" stroke-width="0.45"/>
<line x1="248.70" y1="708.60" x2="250.90" y2="708.60" stroke="#1a1a1a" stroke-width="0.5"/>
<line x1="248.70" y1="709.60" x2="250.90" y2="709.60" stroke="#1a1a1a" stroke-width="0.5"/>
<line x1="248.70" y1="710.60" x2="250.90" y2="710.60" stroke="#1a1a1a" stroke-width="0.5"/>
<line x1="248.70" y1="711.60" x2="250.90" y2="711.60" stroke="#1a1a1a" stroke-width="0.5"/>
<line x1="249.30" y1="715.20" x2="250.90" y2="715.20" stroke="#1a1a1a" stroke-width="0.45"/>
<line x1="249.30" y1="717.60" x2="250.90" y2="717.60" stroke="#1a1a1a" stroke-width="0.45"/>
<line x1="249.30" y1="719.60" x2="250.90" y2="719.60" stroke="#1a1a1a" stroke-width="0.45"/>
<text x="0" y="0" font-size="9.2" text-anchor="middle" fill="#2b2b2b" stroke="#2b2b2b" stroke-width="0.22" transform="translate(228.80 690.50) rotate(-90)" textLength="19.2" lengthAdjust="spacingAndGlyphs">TNF-&#945;</text>
<text x="277.40" y="733.60" font-size="7.2" text-anchor="middle" fill="#2b2b2b" stroke="#2b2b2b" stroke-width="0.22">M</text>
<text x="303.40" y="733.60" font-size="7.2" text-anchor="middle" fill="#2b2b2b" stroke="#2b2b2b" stroke-width="0.22">M+GM</text>
<rect x="385.10" y="695.80" width="8.30" height="25.10" fill="#a9d2f1" stroke="none" stroke-width="1"/>
<line x1="389.25" y1="693.30" x2="389.25" y2="696.30" stroke="#1a1a1a" stroke-width="0.9"/>
<line x1="387.05" y1="693.30" x2="391.45" y2="693.30" stroke="#1a1a1a" stroke-width="0.9"/>
<rect x="394.30" y="679.40" width="8.10" height="41.50" fill="#e07f70" stroke="none" stroke-width="1"/>
<line x1="398.35" y1="674.70" x2="398.35" y2="679.90" stroke="#1a1a1a" stroke-width="0.9"/>
<line x1="396.15" y1="674.70" x2="400.55" y2="674.70" stroke="#1a1a1a" stroke-width="0.9"/>
<line x1="378.40" y1="662.10" x2="378.40" y2="721.50" stroke="#1a1a1a" stroke-width="1.3"/>
<line x1="375.20" y1="720.90" x2="408.70" y2="720.90" stroke="#1a1a1a" stroke-width="1.3"/>
<line x1="375.20" y1="665.00" x2="378.40" y2="665.00" stroke="#1a1a1a" stroke-width="1"/>
<text x="0" y="0" font-size="7" text-anchor="end" fill="#2b2b2b" stroke="#2b2b2b" stroke-width="0.22" transform="translate(372.70 667.50) scale(0.96 1)">15</text>
<line x1="375.20" y1="683.70" x2="378.40" y2="683.70" stroke="#1a1a1a" stroke-width="1"/>
<text x="0" y="0" font-size="7" text-anchor="end" fill="#2b2b2b" stroke="#2b2b2b" stroke-width="0.22" transform="translate(372.70 686.20) scale(0.96 1)">10</text>
<line x1="375.20" y1="702.40" x2="378.40" y2="702.40" stroke="#1a1a1a" stroke-width="1"/>
<text x="0" y="0" font-size="7" text-anchor="end" fill="#2b2b2b" stroke="#2b2b2b" stroke-width="0.22" transform="translate(372.70 704.90) scale(0.96 1)">5</text>
<line x1="375.20" y1="720.90" x2="378.40" y2="720.90" stroke="#1a1a1a" stroke-width="1"/>
<text x="0" y="0" font-size="7" text-anchor="end" fill="#2b2b2b" stroke="#2b2b2b" stroke-width="0.22" transform="translate(372.70 723.40) scale(0.96 1)">0</text>
<text x="0" y="0" font-size="8.8" text-anchor="middle" fill="#2b2b2b" stroke="#2b2b2b" stroke-width="0.22" transform="translate(358.50 691.30) rotate(-90)" textLength="55.7" lengthAdjust="spacingAndGlyphs">TNF-&#945; MFI &#215; 10<tspan dy="-3" font-size="5.5">3</tspan><tspan dy="3" font-size="1">&#8203;</tspan></text>
<text x="398.30" y="669.90" font-size="6.2" font-weight="bold" text-anchor="middle" fill="#222">*</text>
<text x="398.30" y="673.10" font-size="6.2" font-weight="bold" text-anchor="middle" fill="#222">*</text>
<line x1="465.90" y1="663.10" x2="465.90" y2="722.70" stroke="#1a1a1a" stroke-width="1.3"/>
<line x1="462.70" y1="722.10" x2="495.80" y2="722.10" stroke="#1a1a1a" stroke-width="1.3"/>
<line x1="462.70" y1="665.80" x2="465.90" y2="665.80" stroke="#1a1a1a" stroke-width="1"/>
<text x="0" y="0" font-size="7" text-anchor="end" fill="#2b2b2b" stroke="#2b2b2b" stroke-width="0.22" transform="translate(461.00 668.30) scale(0.96 1)">100</text>
<line x1="462.70" y1="680.20" x2="465.90" y2="680.20" stroke="#1a1a1a" stroke-width="1"/>
<line x1="462.70" y1="694.00" x2="465.90" y2="694.00" stroke="#1a1a1a" stroke-width="1"/>
<text x="0" y="0" font-size="7" text-anchor="end" fill="#2b2b2b" stroke="#2b2b2b" stroke-width="0.22" transform="translate(461.00 696.50) scale(0.96 1)">60</text>
<line x1="462.70" y1="708.20" x2="465.90" y2="708.20" stroke="#1a1a1a" stroke-width="1"/>
<line x1="462.70" y1="722.10" x2="465.90" y2="722.10" stroke="#1a1a1a" stroke-width="1"/>
<text x="0" y="0" font-size="7" text-anchor="end" fill="#2b2b2b" stroke="#2b2b2b" stroke-width="0.22" transform="translate(461.00 724.60) scale(0.96 1)">20</text>
<text x="0" y="0" font-size="8.8" text-anchor="middle" fill="#2b2b2b" stroke="#2b2b2b" stroke-width="0.22" transform="translate(434.20 692.10) rotate(-90)" textLength="36.8" lengthAdjust="spacingAndGlyphs">% of TNF-&#945;-</text>
<text x="0" y="0" font-size="8.8" text-anchor="middle" fill="#2b2b2b" stroke="#2b2b2b" stroke-width="0.22" transform="translate(443.30 692.10) rotate(-90)" textLength="49.5" lengthAdjust="spacingAndGlyphs">producing cells</text>
<line x1="475.95" y1="693.40" x2="475.95" y2="696.00" stroke="#1a1a1a" stroke-width="0.9"/>
<line x1="475.95" y1="703.50" x2="475.95" y2="704.10" stroke="#1a1a1a" stroke-width="0.9"/>
<line x1="473.75" y1="693.40" x2="478.15" y2="693.40" stroke="#1a1a1a" stroke-width="0.9"/>
<line x1="473.75" y1="704.10" x2="478.15" y2="704.10" stroke="#1a1a1a" stroke-width="0.9"/>
<rect x="471.20" y="696.00" width="9.50" height="7.50" fill="#a9d2f1" stroke="none" stroke-width="1"/>
<line x1="471.20" y1="700.10" x2="480.70" y2="700.10" stroke="#2f6fb2" stroke-width="1.3"/>
<line x1="471.20" y1="698.20" x2="480.70" y2="698.20" stroke="#2f6fb2" stroke-width="0.8"/>
<line x1="486.25" y1="686.40" x2="486.25" y2="688.00" stroke="#1a1a1a" stroke-width="0.9"/>
<line x1="486.25" y1="695.50" x2="486.25" y2="696.90" stroke="#1a1a1a" stroke-width="0.9"/>
<line x1="484.05" y1="686.40" x2="488.45" y2="686.40" stroke="#1a1a1a" stroke-width="0.9"/>
<line x1="484.05" y1="696.90" x2="488.45" y2="696.90" stroke="#1a1a1a" stroke-width="0.9"/>
<rect x="481.70" y="688.00" width="9.10" height="7.50" fill="#e07f70" stroke="none" stroke-width="1"/>
<line x1="481.70" y1="691.00" x2="490.80" y2="691.00" stroke="#8e2a22" stroke-width="1.3"/>
<line x1="481.70" y1="692.90" x2="490.80" y2="692.90" stroke="#8e2a22" stroke-width="0.8"/>
<text x="486.10" y="685.10" font-size="6.2" font-weight="bold" text-anchor="middle" fill="#222">*</text>
<rect x="385.70" y="730.00" width="6.20" height="6.20" fill="#a9d2f1" stroke="none" stroke-width="1"/>
<text x="395.20" y="735.70" font-size="6.9" fill="#2b2b2b" stroke="#2b2b2b" stroke-width="0.22" textLength="20.8" lengthAdjust="spacingAndGlyphs">M-CSF</text>
<rect x="419.90" y="730.00" width="6.40" height="6.40" fill="#e07f70" stroke="none" stroke-width="1"/>
<text x="430.20" y="735.80" font-size="6.9" fill="#2b2b2b" stroke="#2b2b2b" stroke-width="0.22" textLength="36.9" lengthAdjust="spacingAndGlyphs">M+GM-CSF</text>
<rect x="0.50" y="0.50" width="519.00" height="773.00" fill="none" stroke="#111" stroke-width="1"/>
</svg></body></html>
